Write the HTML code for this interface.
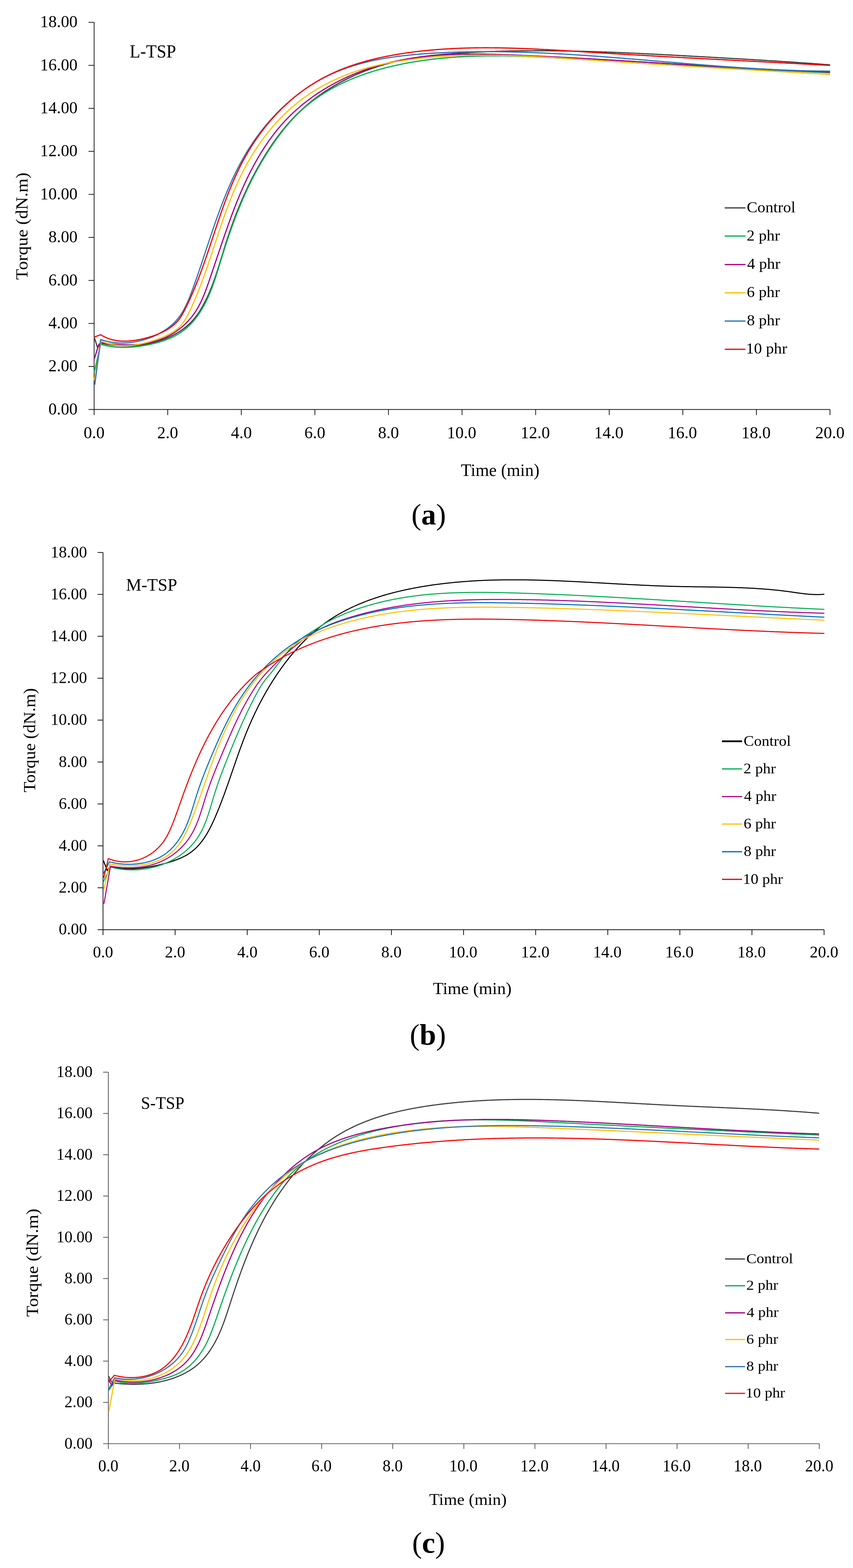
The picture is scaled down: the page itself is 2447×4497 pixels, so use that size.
<!DOCTYPE html>
<html><head><meta charset="utf-8"><title>Torque curves</title>
<style>
html,body{margin:0;padding:0;background:#fff;}
svg{display:block;}
text{font-family:'Liberation Serif', 'DejaVu Serif', serif;fill:#000;}
</style></head>
<body>
<svg xmlns="http://www.w3.org/2000/svg" width="2447" height="4497" viewBox="0 0 2447 4497">
<rect width="2447" height="4497" fill="#fff"/>
<g><path d="M270 64V1190.4" stroke="#1a1a1a" stroke-width="2.2" fill="none"/><path d="M254 1174.4H2381" stroke="#1a1a1a" stroke-width="2.2" fill="none"/><path d="M254 1051H270" stroke="#1a1a1a" stroke-width="2.2"/><path d="M254 927.6H270" stroke="#1a1a1a" stroke-width="2.2"/><path d="M254 804.3H270" stroke="#1a1a1a" stroke-width="2.2"/><path d="M254 680.9H270" stroke="#1a1a1a" stroke-width="2.2"/><path d="M254 557.5H270" stroke="#1a1a1a" stroke-width="2.2"/><path d="M254 434.1H270" stroke="#1a1a1a" stroke-width="2.2"/><path d="M254 310.8H270" stroke="#1a1a1a" stroke-width="2.2"/><path d="M254 187.4H270" stroke="#1a1a1a" stroke-width="2.2"/><path d="M254 64H270" stroke="#1a1a1a" stroke-width="2.2"/><path d="M481.1 1174.4V1190.4" stroke="#1a1a1a" stroke-width="2.2"/><path d="M692.2 1174.4V1190.4" stroke="#1a1a1a" stroke-width="2.2"/><path d="M903.3 1174.4V1190.4" stroke="#1a1a1a" stroke-width="2.2"/><path d="M1114.4 1174.4V1190.4" stroke="#1a1a1a" stroke-width="2.2"/><path d="M1325.5 1174.4V1190.4" stroke="#1a1a1a" stroke-width="2.2"/><path d="M1536.6 1174.4V1190.4" stroke="#1a1a1a" stroke-width="2.2"/><path d="M1747.7 1174.4V1190.4" stroke="#1a1a1a" stroke-width="2.2"/><path d="M1958.8 1174.4V1190.4" stroke="#1a1a1a" stroke-width="2.2"/><path d="M2169.9 1174.4V1190.4" stroke="#1a1a1a" stroke-width="2.2"/><path d="M2381 1174.4V1190.4" stroke="#1a1a1a" stroke-width="2.2"/></g>
<text x="138.9" y="1188.7" font-size="49.5" textLength="83.4" lengthAdjust="spacingAndGlyphs">0.00</text>
<text x="138.9" y="1065.3" font-size="49.5" textLength="83.4" lengthAdjust="spacingAndGlyphs">2.00</text>
<text x="138.9" y="941.9" font-size="49.5" textLength="83.4" lengthAdjust="spacingAndGlyphs">4.00</text>
<text x="138.9" y="818.6" font-size="49.5" textLength="83.4" lengthAdjust="spacingAndGlyphs">6.00</text>
<text x="138.9" y="695.2" font-size="49.5" textLength="83.4" lengthAdjust="spacingAndGlyphs">8.00</text>
<text x="115.1" y="571.8" font-size="49.5" textLength="107.3" lengthAdjust="spacingAndGlyphs">10.00</text>
<text x="115.1" y="448.4" font-size="49.5" textLength="107.3" lengthAdjust="spacingAndGlyphs">12.00</text>
<text x="115.1" y="325.1" font-size="49.5" textLength="107.3" lengthAdjust="spacingAndGlyphs">14.00</text>
<text x="115.1" y="201.7" font-size="49.5" textLength="107.3" lengthAdjust="spacingAndGlyphs">16.00</text>
<text x="115.1" y="78.3" font-size="49.5" textLength="107.3" lengthAdjust="spacingAndGlyphs">18.00</text>
<text x="240" y="1256.8" font-size="49.5" textLength="60" lengthAdjust="spacingAndGlyphs">0.0</text>
<text x="450.9" y="1256.8" font-size="49.5" textLength="60" lengthAdjust="spacingAndGlyphs">2.0</text>
<text x="662.6" y="1256.8" font-size="49.5" textLength="60" lengthAdjust="spacingAndGlyphs">4.0</text>
<text x="873.2" y="1256.8" font-size="49.5" textLength="60" lengthAdjust="spacingAndGlyphs">6.0</text>
<text x="1084.4" y="1256.8" font-size="49.5" textLength="60" lengthAdjust="spacingAndGlyphs">8.0</text>
<text x="1282.3" y="1256.8" font-size="49.5" textLength="84" lengthAdjust="spacingAndGlyphs">10.0</text>
<text x="1493.4" y="1256.8" font-size="49.5" textLength="84" lengthAdjust="spacingAndGlyphs">12.0</text>
<text x="1704.5" y="1256.8" font-size="49.5" textLength="84" lengthAdjust="spacingAndGlyphs">14.0</text>
<text x="1915.6" y="1256.8" font-size="49.5" textLength="84" lengthAdjust="spacingAndGlyphs">16.0</text>
<text x="2126.7" y="1256.8" font-size="49.5" textLength="84" lengthAdjust="spacingAndGlyphs">18.0</text>
<text x="2338.8" y="1256.8" font-size="49.5" textLength="84" lengthAdjust="spacingAndGlyphs">20.0</text>
<text transform="translate(79 801.5) rotate(-90)" x="-0.9" y="0" font-size="49" textLength="307.5" lengthAdjust="spacingAndGlyphs">Torque (dN.m)</text>
<text x="1321.9" y="1365.3" font-size="50" textLength="225.6" lengthAdjust="spacingAndGlyphs">Time (min)</text>
<text x="372.1" y="165.3" font-size="52" textLength="132.8" lengthAdjust="spacingAndGlyphs">L-TSP</text>
<path d="M270.7 968.6L280 997.2L289.3 984L292.8 984.8L296.2 985.5L299.7 986.2L303.2 986.9L306.7 987.5L310.2 988.1L313.7 988.6L317.3 989.1L320.8 989.6L324.4 990.0L327.9 990.4L331.5 990.7L335.1 991.1L338.7 991.3L342.3 991.6L345.9 991.8L349.5 991.9L353.1 992.0L356.7 992.1L360.4 992.1L364.0 992.1L367.6 992.1L371.2 992.0L374.9 991.9L378.5 991.7L382.1 991.5L385.8 991.3L389.4 991.0L393.0 990.7L396.6 990.3L400.3 989.9L403.9 989.4L407.5 988.9L411.1 988.4L414.7 987.8L418.3 987.2L421.9 986.5L425.4 985.8L429.0 985.1L432.6 984.3L436.1 983.5L439.6 982.6L443.2 981.7L446.7 980.7L450.2 979.7L453.7 978.6L457.1 977.5L460.6 976.4L464.0 975.2L467.5 974.0L470.9 972.7L474.3 971.4L477.6 970.0L481.0 968.6L484.3 967.2L487.6 965.7L490.9 964.1L494.2 962.6L497.4 960.9L500.6 959.2L503.8 957.5L506.9 955.7L510.0 953.9L513.1 952.0L516.1 950.1L519.1 948.1L522.0 946.1L525.0 944.0L527.8 941.9L530.7 939.7L533.5 937.5L536.2 935.2L538.9 932.8L541.5 930.4L544.1 928.0L546.7 925.5L549.1 923.0L551.6 920.4L554.0 917.7L556.3 915.0L558.6 912.3L560.8 909.5L562.9 906.6L565.1 903.7L567.2 900.8L569.2 897.9L571.2 894.9L573.1 891.9L575.0 888.8L576.9 885.7L578.7 882.6L580.5 879.5L582.3 876.3L584.0 873.1L585.7 869.9L587.4 866.7L589.0 863.5L590.6 860.3L592.2 857.0L593.8 853.8L595.3 850.5L596.8 847.2L598.3 843.9L599.7 840.6L601.1 837.3L602.5 833.9L603.9 830.6L605.3 827.2L606.6 823.9L607.9 820.5L609.2 817.1L610.5 813.8L611.8 810.4L613.0 807.0L614.2 803.5L615.4 800.1L616.6 796.7L617.8 793.3L619.0 789.8L620.2 786.4L621.3 783.0L622.4 779.5L623.6 776.1L624.7 772.6L625.8 769.1L626.9 765.7L628.0 762.2L629.1 758.7L630.2 755.2L631.2 751.8L632.3 748.3L633.4 744.8L634.4 741.3L635.5 737.8L636.6 734.4L637.6 730.9L638.7 727.4L639.8 723.9L640.8 720.4L641.9 717.0L643.0 713.5L644.1 710.0L645.1 706.5L646.2 703.1L647.3 699.6L648.4 696.1L649.5 692.7L650.7 689.2L651.8 685.7L652.9 682.3L654.1 678.8L655.2 675.4L656.4 672.0L657.5 668.5L658.7 665.1L659.9 661.7L661.1 658.2L662.3 654.8L663.5 651.4L664.7 648.0L665.9 644.6L667.2 641.2L668.4 637.8L669.6 634.4L670.9 631.0L672.2 627.6L673.4 624.2L674.7 620.8L676.0 617.5L677.3 614.1L678.6 610.7L680.0 607.4L681.3 604.0L682.6 600.6L684.0 597.3L685.3 593.9L686.7 590.6L688.1 587.3L689.5 583.9L690.9 580.6L692.3 577.3L693.7 574.0L695.1 570.7L696.6 567.4L698.0 564.1L699.5 560.8L701.0 557.5L702.5 554.2L703.9 550.9L705.5 547.7L707.0 544.4L708.5 541.1L710.0 537.9L711.6 534.6L713.1 531.4L714.7 528.1L716.3 524.9L717.9 521.7L719.5 518.5L721.1 515.3L722.8 512.0L724.4 508.8L726.1 505.6L727.7 502.5L729.4 499.3L731.1 496.1L732.8 492.9L734.5 489.7L736.2 486.6L738.0 483.4L739.7 480.3L741.5 477.1L743.3 474.0L745.1 470.9L746.9 467.8L748.7 464.6L750.5 461.5L752.4 458.4L754.2 455.3L756.1 452.2L758.0 449.2L759.9 446.1L761.8 443.0L763.7 440.0L765.6 436.9L767.6 433.9L769.6 430.8L771.5 427.8L773.5 424.8L775.5 421.8L777.6 418.7L779.6 415.7L781.6 412.8L783.7 409.8L785.8 406.8L787.9 403.8L790.0 400.9L792.1 398.0L794.3 395.0L796.4 392.1L798.6 389.2L800.8 386.3L803.0 383.4L805.2 380.6L807.4 377.7L809.7 374.9L812.0 372.1L814.3 369.2L816.6 366.4L818.9 363.7L821.2 360.9L823.6 358.1L825.9 355.4L828.3 352.7L830.7 350.0L833.1 347.3L835.6 344.6L838.0 342.0L840.5 339.3L843.0 336.7L845.5 334.1L848.0 331.5L850.6 329.0L853.1 326.4L855.7 323.9L858.3 321.4L860.9 318.9L863.6 316.4L866.2 314.0L868.9 311.6L871.6 309.2L874.3 306.8L877.0 304.4L879.7 302.0L882.5 299.7L885.2 297.4L888.0 295.1L890.8 292.8L893.6 290.6L896.4 288.3L899.3 286.1L902.1 283.9L905.0 281.7L907.9 279.6L910.8 277.4L913.7 275.3L916.7 273.2L919.6 271.1L922.6 269.1L925.5 267.0L928.5 265.0L931.5 263.0L934.5 261.0L937.6 259.0L940.6 257.1L943.7 255.2L946.7 253.3L949.8 251.4L952.9 249.5L956.0 247.7L959.1 245.8L962.2 244.0L965.4 242.2L968.5 240.5L971.7 238.7L974.8 237.0L978.0 235.3L981.2 233.6L984.4 231.9L987.6 230.2L990.9 228.6L994.1 227.0L997.4 225.4L1000.6 223.8L1003.9 222.3L1007.2 220.7L1010.4 219.2L1013.7 217.7L1017.0 216.2L1020.4 214.8L1023.7 213.3L1027.0 211.9L1030.3 210.5L1033.7 209.1L1037.1 207.7L1040.4 206.4L1043.8 205.0L1047.2 203.7L1050.6 202.4L1054.0 201.2L1057.4 199.9L1060.8 198.7L1064.2 197.4L1067.6 196.2L1071.0 195.1L1074.5 193.9L1077.9 192.8L1081.4 191.6L1084.8 190.5L1088.3 189.4L1091.8 188.4L1095.2 187.3L1098.7 186.3L1102.2 185.2L1105.7 184.2L1109.2 183.3L1112.7 182.3L1116.2 181.3L1119.7 180.4L1123.2 179.5L1126.7 178.6L1130.2 177.7L1133.8 176.9L1137.3 176.0L1140.8 175.2L1144.4 174.4L1147.9 173.6L1151.4 172.8L1155.0 172.1L1158.5 171.4L1162.1 170.6L1165.6 169.9L1169.2 169.3L1172.8 168.6L1176.3 167.9L1179.9 167.3L1183.4 166.7L1187.0 166.1L1190.6 165.5L1194.1 164.9L1197.7 164.4L1201.3 163.9L1204.9 163.3L1208.4 162.8L1212.0 162.3L1215.6 161.9L1219.2 161.4L1222.7 161.0L1226.3 160.5L1229.9 160.1L1233.5 159.7L1237.1 159.3L1240.6 158.9L1244.2 158.5L1247.8 158.1L1251.4 157.8L1255.0 157.4L1258.6 157.1L1262.2 156.7L1265.8 156.4L1269.4 156.1L1273.0 155.8L1276.5 155.5L1280.1 155.2L1283.7 154.9L1287.3 154.6L1290.9 154.4L1294.5 154.1L1298.1 153.8L1301.7 153.6L1305.3 153.3L1308.9 153.1L1312.5 152.8L1316.1 152.6L1319.7 152.3L1323.3 152.1L1326.9 151.9L1330.5 151.7L1334.1 151.4L1337.7 151.2L1341.3 151.0L1344.9 150.8L1348.5 150.6L1352.1 150.4L1355.7 150.2L1359.3 150.0L1362.9 149.9L1366.5 149.7L1370.1 149.5L1373.7 149.3L1377.3 149.2L1381.0 149.0L1384.6 148.8L1388.2 148.7L1391.8 148.5L1395.4 148.4L1399.0 148.2L1402.6 148.1L1406.2 148.0L1409.8 147.8L1413.4 147.7L1417.0 147.6L1420.6 147.5L1424.2 147.3L1427.8 147.2L1431.5 147.1L1435.1 147.0L1438.7 146.9L1442.3 146.8L1445.9 146.7L1449.5 146.6L1453.1 146.6L1456.7 146.5L1460.3 146.4L1463.9 146.3L1467.6 146.3L1471.2 146.2L1474.8 146.1L1478.4 146.1L1482.0 146.0L1485.6 145.9L1489.2 145.9L1492.8 145.8L1496.5 145.8L1500.1 145.8L1503.7 145.7L1507.3 145.7L1510.9 145.7L1514.5 145.6L1518.1 145.6L1521.8 145.6L1525.4 145.6L1529.0 145.6L1532.6 145.5L1536.2 145.5L1539.8 145.5L1543.5 145.5L1547.1 145.5L1550.7 145.5L1554.3 145.5L1557.9 145.6L1561.5 145.6L1565.2 145.6L1568.8 145.6L1572.4 145.6L1576.0 145.6L1579.6 145.7L1583.2 145.7L1586.9 145.7L1590.5 145.8L1594.1 145.8L1597.7 145.9L1601.3 145.9L1604.9 145.9L1608.6 146.0L1612.2 146.0L1615.8 146.1L1619.4 146.2L1623.0 146.2L1626.7 146.3L1630.3 146.3L1633.9 146.4L1637.5 146.5L1641.1 146.5L1644.8 146.6L1648.4 146.7L1652.0 146.8L1655.6 146.9L1659.2 146.9L1662.9 147.0L1666.5 147.1L1670.1 147.2L1673.7 147.3L1677.3 147.4L1681.0 147.5L1684.6 147.6L1688.2 147.7L1691.8 147.8L1695.5 147.9L1699.1 148.0L1702.7 148.1L1706.3 148.2L1709.9 148.4L1713.6 148.5L1717.2 148.6L1720.8 148.7L1724.4 148.8L1728.0 149.0L1731.7 149.1L1735.3 149.2L1738.9 149.3L1742.5 149.5L1746.2 149.6L1749.8 149.7L1753.4 149.9L1757.0 150.0L1760.6 150.2L1764.3 150.3L1767.9 150.4L1771.5 150.6L1775.1 150.7L1778.7 150.9L1782.4 151.0L1786.0 151.2L1789.6 151.3L1793.2 151.5L1796.9 151.6L1800.5 151.8L1804.1 152.0L1807.7 152.1L1811.3 152.3L1815.0 152.4L1818.6 152.6L1822.2 152.8L1825.8 152.9L1829.4 153.1L1833.1 153.3L1836.7 153.5L1840.3 153.6L1843.9 153.8L1847.5 154.0L1851.2 154.1L1854.8 154.3L1858.4 154.5L1862.0 154.7L1865.7 154.9L1869.3 155.0L1872.9 155.2L1876.5 155.4L1880.1 155.6L1883.8 155.8L1887.4 156.0L1891.0 156.1L1894.6 156.3L1898.2 156.5L1901.8 156.7L1905.5 156.9L1909.1 157.1L1912.7 157.3L1916.3 157.5L1919.9 157.7L1923.6 157.8L1927.2 158.0L1930.8 158.2L1934.4 158.4L1938.0 158.6L1941.7 158.8L1945.3 159.0L1948.9 159.2L1952.5 159.4L1956.1 159.6L1959.7 159.8L1963.4 160.0L1967.0 160.2L1970.6 160.4L1974.2 160.6L1977.8 160.8L1981.4 161.0L1985.1 161.2L1988.7 161.4L1992.3 161.6L1995.9 161.8L1999.5 162.0L2003.1 162.2L2006.7 162.4L2010.4 162.6L2014.0 162.8L2017.6 163.0L2021.2 163.2L2024.8 163.4L2028.4 163.6L2032.0 163.8L2035.7 164.0L2039.3 164.2L2042.9 164.4L2046.5 164.6L2050.1 164.8L2053.7 165.0L2057.3 165.2L2060.9 165.4L2064.6 165.6L2068.2 165.8L2071.8 166.0L2075.4 166.3L2079.0 166.5L2082.6 166.7L2086.2 166.9L2089.8 167.1L2093.4 167.3L2097.0 167.5L2100.7 167.7L2104.3 167.9L2107.9 168.1L2111.5 168.3L2115.1 168.5L2118.7 168.7L2122.3 168.9L2125.9 169.1L2129.5 169.3L2133.1 169.6L2136.7 169.8L2140.3 170.0L2143.9 170.2L2147.5 170.4L2151.1 170.6L2154.8 170.8L2158.4 171.0L2162.0 171.2L2165.6 171.5L2169.2 171.7L2172.8 171.9L2176.4 172.1L2180.0 172.3L2183.6 172.5L2187.2 172.8L2190.8 173.0L2194.4 173.2L2198.0 173.4L2201.6 173.6L2205.2 173.9L2208.8 174.1L2212.4 174.3L2216.0 174.5L2219.6 174.8L2223.2 175.0L2226.8 175.2L2230.4 175.4L2234.0 175.7L2237.6 175.9L2241.2 176.1L2244.8 176.4L2248.4 176.6L2252.0 176.8L2255.6 177.1L2259.2 177.3L2262.8 177.5L2266.4 177.8L2270.0 178.0L2273.6 178.3L2277.2 178.5L2280.8 178.7L2284.3 179.0L2287.9 179.2L2291.5 179.5L2295.1 179.7L2298.7 180.0L2302.3 180.2L2305.9 180.5L2309.5 180.7L2313.1 181.0L2316.7 181.2L2320.3 181.5L2323.9 181.7L2327.5 182.0L2331.1 182.3L2334.6 182.5L2338.2 182.8L2341.8 183.0L2345.4 183.3L2349.0 183.6L2352.6 183.8L2356.2 184.1L2359.8 184.4L2363.4 184.7L2366.9 184.9L2370.5 185.2L2374.1 185.5L2377.7 185.8L2381.3 186.0" stroke="#404040" stroke-width="3.4" fill="none" stroke-linejoin="round" stroke-linecap="butt"/>
<path d="M270.7 1064.9L289.3 987.3L292.8 988.3L296.4 989.3L299.9 990.2L303.5 991.0L307.0 991.8L310.5 992.5L314.1 993.1L317.6 993.7L321.2 994.2L324.7 994.6L328.3 995.0L331.8 995.4L335.4 995.7L338.9 995.9L342.5 996.1L346.1 996.2L349.6 996.3L353.2 996.3L356.7 996.3L360.3 996.3L363.9 996.2L367.4 996.0L371.0 995.8L374.6 995.6L378.2 995.3L381.7 995.0L385.3 994.7L388.9 994.3L392.5 993.9L396.0 993.5L399.6 993.0L403.2 992.5L406.8 991.9L410.4 991.4L414.0 990.8L417.6 990.2L421.1 989.5L424.7 988.8L428.3 988.1L431.9 987.3L435.5 986.5L439.0 985.7L442.6 984.8L446.1 983.9L449.7 983.0L453.2 982.0L456.7 981.0L460.2 980.0L463.7 978.9L467.2 977.8L470.7 976.6L474.1 975.4L477.5 974.1L480.9 972.8L484.3 971.4L487.6 970.0L490.9 968.6L494.2 967.1L497.5 965.5L500.7 963.9L503.9 962.2L507.0 960.5L510.1 958.7L513.2 956.9L516.2 955.0L519.2 953.0L522.1 951.0L525.0 948.9L527.9 946.7L530.6 944.5L533.4 942.2L536.1 939.9L538.7 937.5L541.4 935.1L543.9 932.6L546.4 930.1L548.9 927.5L551.3 924.8L553.7 922.2L556.0 919.5L558.3 916.7L560.6 913.9L562.8 911.1L564.9 908.2L567.0 905.3L569.1 902.4L571.1 899.4L573.1 896.5L575.1 893.5L577.0 890.4L578.8 887.4L580.6 884.3L582.4 881.2L584.2 878.1L585.9 875.0L587.6 871.8L589.2 868.7L590.8 865.5L592.4 862.3L593.9 859.0L595.4 855.8L596.9 852.5L598.4 849.2L599.8 846.0L601.2 842.6L602.6 839.3L603.9 836.0L605.3 832.6L606.6 829.3L607.9 825.9L609.1 822.5L610.4 819.1L611.6 815.7L612.8 812.3L614.0 808.8L615.2 805.4L616.4 801.9L617.5 798.5L618.7 795.0L619.8 791.6L620.9 788.1L622.0 784.6L623.1 781.1L624.2 777.6L625.3 774.1L626.4 770.6L627.5 767.1L628.5 763.6L629.6 760.1L630.7 756.6L631.7 753.1L632.8 749.6L633.9 746.1L635.0 742.6L636.0 739.1L637.1 735.7L638.2 732.2L639.3 728.7L640.4 725.2L641.5 721.7L642.6 718.2L643.7 714.7L644.8 711.3L645.9 707.8L647.0 704.3L648.2 700.9L649.3 697.4L650.5 694.0L651.6 690.5L652.8 687.0L653.9 683.6L655.1 680.2L656.2 676.7L657.4 673.3L658.6 669.8L659.8 666.4L661.0 663.0L662.2 659.6L663.4 656.2L664.6 652.7L665.8 649.3L667.1 645.9L668.3 642.5L669.6 639.1L670.8 635.7L672.1 632.4L673.3 629.0L674.6 625.6L675.9 622.2L677.2 618.9L678.5 615.5L679.8 612.1L681.1 608.8L682.4 605.4L683.8 602.1L685.1 598.7L686.5 595.4L687.8 592.1L689.2 588.8L690.6 585.4L692.0 582.1L693.4 578.8L694.8 575.5L696.2 572.2L697.6 568.9L699.1 565.6L700.5 562.4L702.0 559.1L703.4 555.8L704.9 552.5L706.4 549.3L707.9 546.0L709.4 542.8L710.9 539.6L712.5 536.3L714.0 533.1L715.6 529.9L717.1 526.7L718.7 523.4L720.3 520.2L721.9 517.1L723.5 513.9L725.1 510.7L726.7 507.5L728.4 504.3L730.0 501.2L731.7 498.0L733.4 494.9L735.1 491.7L736.8 488.6L738.5 485.4L740.2 482.3L742.0 479.2L743.8 476.1L745.5 473.0L747.3 469.9L749.1 466.8L750.9 463.7L752.7 460.6L754.6 457.5L756.4 454.5L758.3 451.4L760.2 448.3L762.1 445.3L764.0 442.2L765.9 439.2L767.9 436.1L769.8 433.1L771.8 430.1L773.8 427.1L775.8 424.0L777.8 421.0L779.8 418.0L781.9 415.0L783.9 412.0L786.0 409.0L788.1 406.0L790.2 403.1L792.3 400.1L794.5 397.1L796.6 394.2L798.8 391.2L801.0 388.3L803.2 385.3L805.4 382.4L807.7 379.5L809.9 376.6L812.2 373.7L814.5 370.8L816.8 367.9L819.1 365.0L821.5 362.2L823.8 359.4L826.2 356.6L828.6 353.8L831.0 351.0L833.4 348.3L835.9 345.5L838.4 342.8L840.9 340.1L843.4 337.5L845.9 334.8L848.4 332.2L851.0 329.6L853.6 327.1L856.2 324.5L858.8 322.0L861.4 319.5L864.1 317.1L866.8 314.6L869.4 312.2L872.2 309.8L874.9 307.5L877.6 305.1L880.4 302.8L883.2 300.6L886.0 298.3L888.8 296.1L891.6 293.9L894.4 291.7L897.3 289.5L900.2 287.4L903.1 285.2L906.0 283.2L908.9 281.1L911.8 279.0L914.8 277.0L917.7 275.0L920.7 273.0L923.7 271.1L926.7 269.2L929.7 267.3L932.8 265.4L935.8 263.5L938.9 261.7L942.0 259.8L945.1 258.0L948.2 256.3L951.3 254.5L954.4 252.8L957.6 251.1L960.7 249.4L963.9 247.7L967.1 246.1L970.2 244.4L973.4 242.8L976.7 241.2L979.9 239.7L983.1 238.1L986.4 236.6L989.6 235.1L992.9 233.6L996.2 232.1L999.4 230.7L1002.7 229.2L1006.0 227.8L1009.4 226.4L1012.7 225.1L1016.0 223.7L1019.4 222.4L1022.7 221.1L1026.1 219.8L1029.5 218.5L1032.8 217.2L1036.2 216.0L1039.6 214.7L1043.0 213.5L1046.4 212.3L1049.9 211.2L1053.3 210.0L1056.7 208.9L1060.1 207.8L1063.6 206.6L1067.0 205.6L1070.5 204.5L1074.0 203.4L1077.4 202.4L1080.9 201.4L1084.4 200.4L1087.9 199.4L1091.4 198.4L1094.9 197.4L1098.4 196.5L1101.9 195.6L1105.4 194.6L1108.9 193.7L1112.5 192.9L1116.0 192.0L1119.5 191.1L1123.1 190.3L1126.6 189.5L1130.1 188.7L1133.7 187.9L1137.2 187.1L1140.8 186.3L1144.3 185.6L1147.9 184.8L1151.5 184.1L1155.0 183.4L1158.6 182.7L1162.1 182.0L1165.7 181.3L1169.3 180.6L1172.8 180.0L1176.4 179.3L1180.0 178.7L1183.6 178.1L1187.1 177.5L1190.7 176.9L1194.3 176.3L1197.9 175.8L1201.4 175.2L1205.0 174.7L1208.6 174.1L1212.2 173.6L1215.8 173.1L1219.3 172.6L1222.9 172.1L1226.5 171.7L1230.1 171.2L1233.7 170.7L1237.2 170.3L1240.8 169.9L1244.4 169.5L1248.0 169.0L1251.6 168.6L1255.2 168.3L1258.8 167.9L1262.3 167.5L1265.9 167.2L1269.5 166.8L1273.1 166.5L1276.7 166.1L1280.3 165.8L1283.9 165.5L1287.5 165.2L1291.1 164.9L1294.7 164.7L1298.3 164.4L1301.9 164.1L1305.5 163.9L1309.1 163.6L1312.6 163.4L1316.2 163.2L1319.8 163.0L1323.4 162.8L1327.0 162.6L1330.6 162.4L1334.2 162.2L1337.8 162.0L1341.4 161.9L1345.0 161.7L1348.6 161.6L1352.2 161.4L1355.8 161.3L1359.4 161.2L1363.1 161.1L1366.7 160.9L1370.3 160.8L1373.9 160.8L1377.5 160.7L1381.1 160.6L1384.7 160.5L1388.3 160.5L1391.9 160.4L1395.5 160.4L1399.1 160.3L1402.7 160.3L1406.3 160.3L1409.9 160.2L1413.5 160.2L1417.2 160.2L1420.8 160.2L1424.4 160.2L1428.0 160.2L1431.6 160.3L1435.2 160.3L1438.8 160.3L1442.4 160.3L1446.0 160.4L1449.6 160.4L1453.3 160.5L1456.9 160.5L1460.5 160.6L1464.1 160.7L1467.7 160.8L1471.3 160.8L1474.9 160.9L1478.6 161.0L1482.2 161.1L1485.8 161.2L1489.4 161.3L1493.0 161.4L1496.6 161.5L1500.2 161.7L1503.9 161.8L1507.5 161.9L1511.1 162.0L1514.7 162.2L1518.3 162.3L1521.9 162.5L1525.6 162.6L1529.2 162.8L1532.8 162.9L1536.4 163.1L1540.0 163.2L1543.6 163.4L1547.3 163.6L1550.9 163.7L1554.5 163.9L1558.1 164.1L1561.7 164.3L1565.3 164.5L1569.0 164.7L1572.6 164.8L1576.2 165.0L1579.8 165.2L1583.4 165.4L1587.0 165.6L1590.7 165.8L1594.3 166.0L1597.9 166.3L1601.5 166.5L1605.1 166.7L1608.8 166.9L1612.4 167.1L1616.0 167.3L1619.6 167.5L1623.2 167.8L1626.8 168.0L1630.5 168.2L1634.1 168.4L1637.7 168.7L1641.3 168.9L1644.9 169.1L1648.5 169.4L1652.2 169.6L1655.8 169.8L1659.4 170.0L1663.0 170.3L1666.6 170.5L1670.2 170.7L1673.9 171.0L1677.5 171.2L1681.1 171.4L1684.7 171.7L1688.3 171.9L1691.9 172.2L1695.6 172.4L1699.2 172.6L1702.8 172.9L1706.4 173.1L1710.0 173.3L1713.6 173.6L1717.2 173.8L1720.9 174.0L1724.5 174.2L1728.1 174.5L1731.7 174.7L1735.3 174.9L1738.9 175.2L1742.5 175.4L1746.2 175.6L1749.8 175.8L1753.4 176.1L1757.0 176.3L1760.6 176.5L1764.2 176.7L1767.8 177.0L1771.4 177.2L1775.1 177.4L1778.7 177.6L1782.3 177.8L1785.9 178.1L1789.5 178.3L1793.1 178.5L1796.7 178.7L1800.3 178.9L1803.9 179.2L1807.5 179.4L1811.2 179.6L1814.8 179.8L1818.4 180.0L1822.0 180.2L1825.6 180.5L1829.2 180.7L1832.8 180.9L1836.4 181.1L1840.0 181.3L1843.6 181.5L1847.2 181.7L1850.9 181.9L1854.5 182.2L1858.1 182.4L1861.7 182.6L1865.3 182.8L1868.9 183.0L1872.5 183.2L1876.1 183.4L1879.7 183.6L1883.3 183.8L1886.9 184.0L1890.5 184.2L1894.1 184.4L1897.8 184.6L1901.4 184.8L1905.0 185.0L1908.6 185.2L1912.2 185.5L1915.8 185.7L1919.4 185.9L1923.0 186.1L1926.6 186.3L1930.2 186.5L1933.8 186.7L1937.4 186.9L1941.0 187.1L1944.6 187.3L1948.2 187.5L1951.9 187.7L1955.5 187.8L1959.1 188.0L1962.7 188.2L1966.3 188.4L1969.9 188.6L1973.5 188.8L1977.1 189.0L1980.7 189.2L1984.3 189.4L1987.9 189.6L1991.5 189.8L1995.1 190.0L1998.7 190.2L2002.3 190.4L2005.9 190.6L2009.5 190.8L2013.1 190.9L2016.8 191.1L2020.4 191.3L2024.0 191.5L2027.6 191.7L2031.2 191.9L2034.8 192.1L2038.4 192.3L2042.0 192.5L2045.6 192.6L2049.2 192.8L2052.8 193.0L2056.4 193.2L2060.0 193.4L2063.6 193.6L2067.2 193.8L2070.8 193.9L2074.4 194.1L2078.1 194.3L2081.7 194.5L2085.3 194.7L2088.9 194.9L2092.5 195.0L2096.1 195.2L2099.7 195.4L2103.3 195.6L2106.9 195.8L2110.5 195.9L2114.1 196.1L2117.7 196.3L2121.3 196.5L2124.9 196.7L2128.5 196.8L2132.1 197.0L2135.8 197.2L2139.4 197.4L2143.0 197.6L2146.6 197.7L2150.2 197.9L2153.8 198.1L2157.4 198.3L2161.0 198.4L2164.6 198.6L2168.2 198.8L2171.8 199.0L2175.4 199.1L2179.0 199.3L2182.6 199.5L2186.3 199.7L2189.9 199.8L2193.5 200.0L2197.1 200.2L2200.7 200.4L2204.3 200.5L2207.9 200.7L2211.5 200.9L2215.1 201.0L2218.7 201.2L2222.3 201.4L2226.0 201.6L2229.6 201.7L2233.2 201.9L2236.8 202.1L2240.4 202.2L2244.0 202.4L2247.6 202.6L2251.2 202.8L2254.8 202.9L2258.4 203.1L2262.1 203.3L2265.7 203.4L2269.3 203.6L2272.9 203.8L2276.5 203.9L2280.1 204.1L2283.7 204.3L2287.3 204.4L2290.9 204.6L2294.6 204.8L2298.2 204.9L2301.8 205.1L2305.4 205.3L2309.0 205.4L2312.6 205.6L2316.2 205.8L2319.9 205.9L2323.5 206.1L2327.1 206.3L2330.7 206.4L2334.3 206.6L2337.9 206.8L2341.5 206.9L2345.2 207.1L2348.8 207.3L2352.4 207.4L2356.0 207.6L2359.6 207.7L2363.2 207.9L2366.9 208.1L2370.5 208.2L2374.1 208.4L2377.7 208.6L2381.3 208.7" stroke="#00b050" stroke-width="3.4" fill="none" stroke-linejoin="round" stroke-linecap="butt"/>
<path d="M270.7 1028.9L283.1 988.5L289.3 982.3L292.8 982.9L296.2 983.4L299.7 983.9L303.2 984.4L306.8 984.9L310.3 985.3L313.9 985.8L317.4 986.2L321.0 986.5L324.6 986.9L328.2 987.2L331.8 987.5L335.4 987.8L339.0 988.1L342.7 988.3L346.3 988.5L350.0 988.6L353.6 988.7L357.3 988.8L360.9 988.9L364.6 988.9L368.2 988.9L371.9 988.9L375.6 988.8L379.2 988.7L382.9 988.5L386.5 988.3L390.2 988.1L393.8 987.8L397.4 987.5L401.1 987.1L404.7 986.7L408.3 986.2L411.9 985.7L415.5 985.2L419.1 984.6L422.6 983.9L426.2 983.3L429.7 982.5L433.3 981.7L436.8 980.9L440.3 980.0L443.8 979.0L447.2 978.0L450.7 977.0L454.1 975.9L457.5 974.7L460.9 973.5L464.2 972.2L467.6 970.9L470.9 969.5L474.2 968.0L477.4 966.5L480.7 964.9L483.9 963.3L487.1 961.6L490.2 959.8L493.3 958.0L496.4 956.2L499.5 954.3L502.5 952.3L505.5 950.3L508.4 948.2L511.3 946.1L514.2 943.9L517.1 941.7L519.9 939.4L522.6 937.1L525.3 934.7L528.0 932.3L530.6 929.9L533.2 927.4L535.8 924.8L538.3 922.2L540.7 919.6L543.1 916.9L545.5 914.2L547.8 911.5L550.0 908.7L552.2 905.9L554.4 903.0L556.5 900.1L558.5 897.1L560.5 894.2L562.5 891.1L564.3 888.1L566.2 885.0L568.0 881.9L569.7 878.8L571.4 875.6L573.1 872.4L574.7 869.2L576.3 866.0L577.8 862.7L579.3 859.5L580.8 856.1L582.2 852.8L583.6 849.5L585.0 846.1L586.4 842.8L587.7 839.4L589.0 836.0L590.3 832.6L591.6 829.2L592.8 825.7L594.1 822.3L595.3 818.9L596.5 815.4L597.7 812.0L598.9 808.5L600.1 805.1L601.3 801.6L602.4 798.2L603.6 794.7L604.8 791.3L605.9 787.8L607.1 784.4L608.3 781.0L609.4 777.5L610.6 774.1L611.8 770.7L612.9 767.2L614.1 763.8L615.2 760.4L616.4 756.9L617.6 753.5L618.7 750.1L619.9 746.7L621.0 743.3L622.2 739.8L623.3 736.4L624.5 733.0L625.7 729.6L626.8 726.2L628.0 722.7L629.1 719.3L630.3 715.9L631.4 712.5L632.6 709.1L633.7 705.6L634.9 702.2L636.0 698.8L637.2 695.4L638.4 692.0L639.5 688.6L640.7 685.1L641.9 681.7L643.0 678.3L644.2 674.9L645.4 671.5L646.6 668.1L647.7 664.7L648.9 661.3L650.1 657.9L651.3 654.5L652.5 651.1L653.7 647.7L654.9 644.3L656.1 640.9L657.3 637.5L658.6 634.1L659.8 630.7L661.0 627.3L662.3 623.9L663.5 620.6L664.8 617.2L666.0 613.8L667.3 610.4L668.6 607.1L669.9 603.7L671.1 600.3L672.4 597.0L673.7 593.6L675.1 590.2L676.4 586.9L677.7 583.5L679.0 580.2L680.4 576.8L681.7 573.5L683.1 570.1L684.5 566.8L685.9 563.5L687.2 560.1L688.7 556.8L690.1 553.5L691.5 550.2L692.9 546.9L694.4 543.5L695.8 540.2L697.3 536.9L698.8 533.6L700.3 530.3L701.8 527.0L703.3 523.7L704.8 520.5L706.4 517.2L707.9 513.9L709.5 510.6L711.1 507.4L712.6 504.1L714.2 500.9L715.9 497.6L717.5 494.4L719.1 491.1L720.8 487.9L722.5 484.7L724.2 481.5L725.9 478.2L727.6 475.0L729.3 471.9L731.1 468.7L732.8 465.5L734.6 462.3L736.4 459.2L738.2 456.0L740.0 452.9L741.8 449.7L743.7 446.6L745.5 443.5L747.4 440.4L749.3 437.3L751.2 434.2L753.2 431.1L755.1 428.1L757.1 425.0L759.0 422.0L761.0 419.0L763.0 416.0L765.1 413.0L767.1 410.0L769.2 407.0L771.2 404.0L773.3 401.1L775.4 398.2L777.6 395.2L779.7 392.3L781.9 389.5L784.1 386.6L786.3 383.7L788.5 380.9L790.7 378.0L793.0 375.2L795.2 372.4L797.5 369.6L799.8 366.9L802.1 364.1L804.5 361.4L806.9 358.7L809.2 356.0L811.6 353.3L814.1 350.6L816.5 348.0L819.0 345.4L821.4 342.8L823.9 340.2L826.5 337.6L829.0 335.0L831.5 332.5L834.1 330.0L836.7 327.5L839.3 325.0L841.9 322.5L844.6 320.1L847.2 317.7L849.9 315.3L852.6 312.9L855.3 310.5L858.0 308.2L860.8 305.8L863.6 303.5L866.3 301.2L869.1 298.9L871.9 296.7L874.8 294.4L877.6 292.2L880.5 290.0L883.3 287.8L886.2 285.6L889.1 283.5L892.0 281.4L894.9 279.2L897.9 277.2L900.8 275.1L903.8 273.0L906.8 271.0L909.8 269.0L912.8 267.0L915.8 265.0L918.9 263.0L921.9 261.1L925.0 259.1L928.1 257.2L931.2 255.3L934.3 253.5L937.4 251.6L940.5 249.8L943.6 248.0L946.8 246.2L949.9 244.4L953.1 242.6L956.3 240.9L959.5 239.1L962.7 237.4L965.9 235.8L969.1 234.1L972.3 232.4L975.6 230.8L978.8 229.2L982.1 227.6L985.4 226.0L988.6 224.5L991.9 222.9L995.2 221.4L998.5 219.9L1001.8 218.4L1005.2 217.0L1008.5 215.5L1011.8 214.1L1015.2 212.7L1018.5 211.3L1021.9 209.9L1025.3 208.6L1028.7 207.3L1032.0 205.9L1035.4 204.7L1038.8 203.4L1042.2 202.1L1045.6 200.9L1049.0 199.7L1052.5 198.5L1055.9 197.3L1059.3 196.1L1062.8 195.0L1066.2 193.9L1069.7 192.8L1073.1 191.7L1076.6 190.6L1080.0 189.6L1083.5 188.5L1087.0 187.5L1090.4 186.5L1093.9 185.5L1097.4 184.6L1100.9 183.7L1104.4 182.7L1107.9 181.8L1111.4 181.0L1114.9 180.1L1118.4 179.3L1121.9 178.4L1125.4 177.6L1128.9 176.8L1132.4 176.1L1135.9 175.3L1139.5 174.6L1143.0 173.8L1146.5 173.1L1150.0 172.4L1153.6 171.8L1157.1 171.1L1160.7 170.5L1164.2 169.8L1167.8 169.2L1171.3 168.6L1174.9 168.0L1178.4 167.5L1182.0 166.9L1185.5 166.4L1189.1 165.9L1192.7 165.4L1196.2 164.9L1199.8 164.4L1203.4 163.9L1207.0 163.5L1210.5 163.0L1214.1 162.6L1217.7 162.2L1221.3 161.8L1224.9 161.4L1228.5 161.1L1232.1 160.7L1235.7 160.4L1239.3 160.0L1242.9 159.7L1246.5 159.4L1250.1 159.1L1253.7 158.8L1257.3 158.6L1260.9 158.3L1264.5 158.0L1268.1 157.8L1271.7 157.6L1275.4 157.4L1279.0 157.2L1282.6 157.0L1286.2 156.8L1289.8 156.6L1293.5 156.4L1297.1 156.3L1300.7 156.2L1304.3 156.0L1308.0 155.9L1311.6 155.8L1315.2 155.7L1318.9 155.6L1322.5 155.5L1326.1 155.4L1329.8 155.3L1333.4 155.3L1337.0 155.2L1340.7 155.2L1344.3 155.2L1348.0 155.1L1351.6 155.1L1355.2 155.1L1358.9 155.1L1362.5 155.1L1366.2 155.1L1369.8 155.1L1373.5 155.1L1377.1 155.2L1380.8 155.2L1384.4 155.2L1388.1 155.3L1391.7 155.3L1395.4 155.4L1399.0 155.5L1402.6 155.5L1406.3 155.6L1409.9 155.7L1413.6 155.8L1417.2 155.9L1420.9 156.0L1424.5 156.1L1428.2 156.2L1431.8 156.3L1435.5 156.4L1439.1 156.5L1442.8 156.6L1446.4 156.7L1450.1 156.9L1453.7 157.0L1457.4 157.1L1461.0 157.3L1464.7 157.4L1468.3 157.5L1471.9 157.7L1475.6 157.8L1479.2 158.0L1482.9 158.1L1486.5 158.3L1490.2 158.4L1493.8 158.6L1497.4 158.8L1501.1 158.9L1504.7 159.1L1508.3 159.2L1512.0 159.4L1515.6 159.6L1519.2 159.7L1522.9 159.9L1526.5 160.1L1530.1 160.2L1533.8 160.4L1537.4 160.6L1541.0 160.7L1544.6 160.9L1548.3 161.1L1551.9 161.3L1555.5 161.4L1559.1 161.6L1562.8 161.8L1566.4 162.0L1570.0 162.1L1573.6 162.3L1577.2 162.5L1580.9 162.7L1584.5 162.9L1588.1 163.1L1591.7 163.2L1595.3 163.4L1598.9 163.6L1602.6 163.8L1606.2 164.0L1609.8 164.2L1613.4 164.4L1617.0 164.6L1620.6 164.7L1624.2 164.9L1627.8 165.1L1631.4 165.3L1635.0 165.5L1638.6 165.7L1642.3 165.9L1645.9 166.1L1649.5 166.3L1653.1 166.5L1656.7 166.7L1660.3 166.9L1663.9 167.1L1667.5 167.3L1671.1 167.5L1674.7 167.7L1678.3 167.9L1681.9 168.1L1685.5 168.3L1689.1 168.5L1692.7 168.7L1696.3 168.9L1699.9 169.1L1703.5 169.3L1707.1 169.6L1710.7 169.8L1714.3 170.0L1717.9 170.2L1721.4 170.4L1725.0 170.6L1728.6 170.8L1732.2 171.0L1735.8 171.2L1739.4 171.4L1743.0 171.7L1746.6 171.9L1750.2 172.1L1753.8 172.3L1757.4 172.5L1761.0 172.7L1764.5 172.9L1768.1 173.2L1771.7 173.4L1775.3 173.6L1778.9 173.8L1782.5 174.0L1786.1 174.2L1789.7 174.5L1793.3 174.7L1796.8 174.9L1800.4 175.1L1804.0 175.3L1807.6 175.5L1811.2 175.8L1814.8 176.0L1818.4 176.2L1822.0 176.4L1825.5 176.6L1829.1 176.9L1832.7 177.1L1836.3 177.3L1839.9 177.5L1843.5 177.7L1847.0 178.0L1850.6 178.2L1854.2 178.4L1857.8 178.6L1861.4 178.9L1865.0 179.1L1868.6 179.3L1872.1 179.5L1875.7 179.7L1879.3 180.0L1882.9 180.2L1886.5 180.4L1890.1 180.6L1893.6 180.9L1897.2 181.1L1900.8 181.3L1904.4 181.5L1908.0 181.7L1911.6 182.0L1915.2 182.2L1918.7 182.4L1922.3 182.6L1925.9 182.9L1929.5 183.1L1933.1 183.3L1936.7 183.5L1940.2 183.7L1943.8 184.0L1947.4 184.2L1951.0 184.4L1954.6 184.6L1958.2 184.8L1961.8 185.1L1965.3 185.3L1968.9 185.5L1972.5 185.7L1976.1 185.9L1979.7 186.2L1983.3 186.4L1986.9 186.6L1990.5 186.8L1994.0 187.0L1997.6 187.3L2001.2 187.5L2004.8 187.7L2008.4 187.9L2012.0 188.1L2015.6 188.3L2019.2 188.6L2022.8 188.8L2026.3 189.0L2029.9 189.2L2033.5 189.4L2037.1 189.6L2040.7 189.8L2044.3 190.1L2047.9 190.3L2051.5 190.5L2055.1 190.7L2058.7 190.9L2062.3 191.1L2065.9 191.3L2069.5 191.5L2073.1 191.8L2076.7 192.0L2080.3 192.2L2083.9 192.4L2087.5 192.6L2091.0 192.8L2094.6 193.0L2098.2 193.2L2101.8 193.4L2105.4 193.6L2109.0 193.8L2112.6 194.0L2116.3 194.2L2119.9 194.4L2123.5 194.6L2127.1 194.8L2130.7 195.0L2134.3 195.2L2137.9 195.4L2141.5 195.6L2145.1 195.8L2148.7 196.0L2152.3 196.2L2155.9 196.4L2159.5 196.6L2163.1 196.8L2166.7 197.0L2170.4 197.2L2174.0 197.4L2177.6 197.6L2181.2 197.8L2184.8 197.9L2188.4 198.1L2192.0 198.3L2195.7 198.5L2199.3 198.7L2202.9 198.9L2206.5 199.1L2210.1 199.2L2213.8 199.4L2217.4 199.6L2221.0 199.8L2224.6 200.0L2228.2 200.1L2231.9 200.3L2235.5 200.5L2239.1 200.7L2242.7 200.9L2246.4 201.0L2250.0 201.2L2253.6 201.4L2257.3 201.5L2260.9 201.7L2264.5 201.9L2268.2 202.0L2271.8 202.2L2275.4 202.4L2279.1 202.5L2282.7 202.7L2286.3 202.9L2290.0 203.0L2293.6 203.2L2297.3 203.3L2300.9 203.5L2304.6 203.7L2308.2 203.8L2311.8 204.0L2315.5 204.1L2319.1 204.3L2322.8 204.4L2326.4 204.6L2330.1 204.7L2333.7 204.9L2337.4 205.0L2341.1 205.1L2344.7 205.3L2348.4 205.4L2352.0 205.6L2355.7 205.7L2359.3 205.8L2363.0 206.0L2366.7 206.1L2370.3 206.2L2374.0 206.4L2377.7 206.5L2381.3 206.6" stroke="#a8008c" stroke-width="3.4" fill="none" stroke-linejoin="round" stroke-linecap="butt"/>
<path d="M270.7 1089.8L290 978L293.5 979.5L297.0 980.8L300.5 982.1L304.0 983.3L307.6 984.4L311.1 985.4L314.6 986.4L318.1 987.2L321.6 988.0L325.2 988.7L328.7 989.3L332.2 989.8L335.8 990.3L339.3 990.6L342.8 991.0L346.4 991.2L349.9 991.4L353.4 991.5L357.0 991.5L360.5 991.5L364.0 991.4L367.6 991.2L371.1 991.0L374.7 990.7L378.2 990.4L381.8 990.0L385.3 989.5L388.9 989.0L392.4 988.4L396.0 987.8L399.5 987.2L403.1 986.5L406.6 985.7L410.2 984.9L413.7 984.1L417.3 983.2L420.9 982.3L424.4 981.3L428.0 980.3L431.5 979.3L435.1 978.2L438.7 977.1L442.2 976.0L445.8 974.8L449.4 973.6L452.9 972.4L456.4 971.1L460.0 969.8L463.5 968.5L466.9 967.0L470.4 965.6L473.8 964.1L477.1 962.5L480.5 960.9L483.8 959.3L487.0 957.5L490.2 955.7L493.3 953.9L496.4 952.0L499.4 950.0L502.3 947.9L505.2 945.8L508.0 943.6L510.7 941.3L513.4 938.9L515.9 936.5L518.3 933.9L520.7 931.3L523.0 928.6L525.1 925.8L527.2 923.0L529.2 920.0L531.1 917.0L532.9 913.9L534.7 910.8L536.5 907.6L538.1 904.4L539.8 901.2L541.4 898.0L543.0 894.7L544.5 891.4L546.1 888.1L547.6 884.8L549.1 881.6L550.7 878.2L552.1 874.9L553.6 871.6L555.1 868.3L556.5 865.0L558.0 861.7L559.4 858.3L560.8 855.0L562.2 851.7L563.6 848.3L565.0 845.0L566.4 841.6L567.7 838.2L569.1 834.9L570.4 831.5L571.7 828.1L573.0 824.8L574.4 821.4L575.6 818.0L576.9 814.6L578.2 811.2L579.5 807.8L580.7 804.4L582.0 801.0L583.2 797.6L584.5 794.2L585.7 790.8L586.9 787.4L588.1 784.0L589.4 780.6L590.6 777.1L591.8 773.7L592.9 770.3L594.1 766.9L595.3 763.4L596.5 760.0L597.7 756.6L598.8 753.2L600.0 749.7L601.1 746.3L602.3 742.8L603.5 739.4L604.6 736.0L605.7 732.5L606.9 729.1L608.0 725.6L609.2 722.2L610.3 718.8L611.4 715.3L612.6 711.9L613.7 708.4L614.8 705.0L616.0 701.5L617.1 698.1L618.2 694.6L619.4 691.2L620.5 687.8L621.6 684.3L622.8 680.9L623.9 677.4L625.1 674.0L626.2 670.6L627.3 667.1L628.5 663.7L629.6 660.2L630.8 656.8L631.9 653.4L633.1 649.9L634.3 646.5L635.4 643.1L636.6 639.7L637.8 636.2L639.0 632.8L640.1 629.4L641.3 626.0L642.5 622.6L643.7 619.2L644.9 615.7L646.2 612.3L647.4 608.9L648.6 605.5L649.9 602.1L651.1 598.8L652.4 595.4L653.6 592.0L654.9 588.6L656.2 585.2L657.4 581.8L658.7 578.5L660.1 575.1L661.4 571.7L662.7 568.4L664.0 565.0L665.4 561.7L666.7 558.3L668.1 555.0L669.5 551.6L670.9 548.3L672.3 545.0L673.7 541.7L675.1 538.4L676.6 535.0L678.0 531.7L679.5 528.4L681.0 525.1L682.5 521.9L684.0 518.6L685.5 515.3L687.0 512.0L688.6 508.8L690.1 505.5L691.7 502.3L693.3 499.0L694.9 495.8L696.6 492.5L698.2 489.3L699.9 486.1L701.6 482.9L703.3 479.7L705.0 476.5L706.7 473.3L708.5 470.1L710.2 466.9L712.0 463.8L713.8 460.6L715.6 457.5L717.5 454.3L719.3 451.2L721.2 448.1L723.1 445.0L725.0 441.9L726.9 438.8L728.9 435.7L730.8 432.6L732.8 429.6L734.8 426.5L736.8 423.5L738.9 420.4L740.9 417.4L743.0 414.4L745.1 411.4L747.2 408.4L749.3 405.5L751.4 402.5L753.6 399.6L755.7 396.6L757.9 393.7L760.1 390.8L762.3 387.9L764.6 385.0L766.8 382.2L769.1 379.3L771.4 376.5L773.7 373.7L776.0 370.9L778.3 368.1L780.7 365.3L783.1 362.5L785.4 359.8L787.9 357.1L790.3 354.3L792.7 351.6L795.2 349.0L797.6 346.3L800.1 343.6L802.6 341.0L805.1 338.4L807.7 335.8L810.2 333.2L812.8 330.7L815.4 328.1L818.0 325.6L820.6 323.1L823.2 320.6L825.9 318.2L828.6 315.7L831.2 313.3L833.9 310.9L836.7 308.5L839.4 306.1L842.1 303.8L844.9 301.4L847.7 299.1L850.5 296.9L853.3 294.6L856.1 292.4L859.0 290.1L861.8 287.9L864.7 285.8L867.6 283.6L870.5 281.5L873.4 279.3L876.3 277.3L879.3 275.2L882.3 273.1L885.2 271.1L888.2 269.1L891.2 267.1L894.2 265.1L897.3 263.2L900.3 261.3L903.4 259.4L906.5 257.5L909.5 255.6L912.6 253.8L915.8 252.0L918.9 250.2L922.0 248.4L925.2 246.6L928.3 244.9L931.5 243.2L934.7 241.5L937.9 239.8L941.1 238.2L944.3 236.5L947.5 234.9L950.8 233.3L954.0 231.8L957.3 230.2L960.5 228.7L963.8 227.2L967.1 225.7L970.4 224.2L973.7 222.8L977.0 221.3L980.4 219.9L983.7 218.6L987.1 217.2L990.4 215.8L993.8 214.5L997.2 213.2L1000.5 211.9L1003.9 210.7L1007.3 209.4L1010.7 208.2L1014.1 207.0L1017.6 205.8L1021.0 204.7L1024.4 203.5L1027.9 202.4L1031.3 201.3L1034.8 200.2L1038.2 199.2L1041.7 198.1L1045.2 197.1L1048.7 196.1L1052.1 195.1L1055.6 194.2L1059.1 193.2L1062.6 192.3L1066.1 191.4L1069.7 190.5L1073.2 189.6L1076.7 188.8L1080.2 187.9L1083.8 187.1L1087.3 186.3L1090.9 185.5L1094.4 184.7L1098.0 184.0L1101.5 183.2L1105.1 182.5L1108.6 181.8L1112.2 181.1L1115.8 180.4L1119.3 179.7L1122.9 179.1L1126.5 178.4L1130.1 177.8L1133.6 177.2L1137.2 176.6L1140.8 176.0L1144.4 175.4L1148.0 174.8L1151.6 174.3L1155.2 173.7L1158.8 173.2L1162.4 172.7L1166.0 172.2L1169.6 171.7L1173.2 171.2L1176.8 170.7L1180.4 170.3L1184.0 169.8L1187.6 169.4L1191.2 168.9L1194.8 168.5L1198.4 168.1L1202.0 167.7L1205.6 167.3L1209.2 166.9L1212.8 166.5L1216.4 166.2L1220.0 165.8L1223.6 165.5L1227.2 165.1L1230.8 164.8L1234.4 164.5L1238.0 164.2L1241.6 163.9L1245.2 163.6L1248.9 163.3L1252.5 163.0L1256.1 162.7L1259.7 162.5L1263.3 162.2L1266.9 162.0L1270.5 161.7L1274.1 161.5L1277.7 161.3L1281.3 161.1L1284.9 160.9L1288.6 160.7L1292.2 160.5L1295.8 160.3L1299.4 160.1L1303.0 160.0L1306.6 159.8L1310.2 159.7L1313.8 159.5L1317.4 159.4L1321.1 159.3L1324.7 159.2L1328.3 159.0L1331.9 158.9L1335.5 158.8L1339.1 158.7L1342.7 158.7L1346.4 158.6L1350.0 158.5L1353.6 158.5L1357.2 158.4L1360.8 158.3L1364.4 158.3L1368.0 158.3L1371.7 158.2L1375.3 158.2L1378.9 158.2L1382.5 158.2L1386.1 158.2L1389.7 158.2L1393.4 158.2L1397.0 158.2L1400.6 158.2L1404.2 158.2L1407.8 158.2L1411.5 158.3L1415.1 158.3L1418.7 158.4L1422.3 158.4L1425.9 158.5L1429.5 158.5L1433.2 158.6L1436.8 158.7L1440.4 158.7L1444.0 158.8L1447.6 158.9L1451.3 159.0L1454.9 159.1L1458.5 159.2L1462.1 159.3L1465.7 159.4L1469.4 159.5L1473.0 159.6L1476.6 159.7L1480.2 159.9L1483.8 160.0L1487.5 160.1L1491.1 160.3L1494.7 160.4L1498.3 160.5L1501.9 160.7L1505.6 160.8L1509.2 161.0L1512.8 161.2L1516.4 161.3L1520.1 161.5L1523.7 161.7L1527.3 161.8L1530.9 162.0L1534.5 162.2L1538.2 162.4L1541.8 162.6L1545.4 162.7L1549.0 162.9L1552.6 163.1L1556.3 163.3L1559.9 163.5L1563.5 163.7L1567.1 163.9L1570.8 164.1L1574.4 164.3L1578.0 164.5L1581.6 164.8L1585.2 165.0L1588.9 165.2L1592.5 165.4L1596.1 165.6L1599.7 165.9L1603.4 166.1L1607.0 166.3L1610.6 166.5L1614.2 166.8L1617.8 167.0L1621.5 167.2L1625.1 167.5L1628.7 167.7L1632.3 167.9L1636.0 168.2L1639.6 168.4L1643.2 168.6L1646.8 168.9L1650.4 169.1L1654.1 169.4L1657.7 169.6L1661.3 169.8L1664.9 170.1L1668.6 170.3L1672.2 170.6L1675.8 170.8L1679.4 171.1L1683.0 171.3L1686.7 171.6L1690.3 171.8L1693.9 172.1L1697.5 172.3L1701.1 172.5L1704.8 172.8L1708.4 173.0L1712.0 173.3L1715.6 173.5L1719.2 173.8L1722.9 174.0L1726.5 174.2L1730.1 174.5L1733.7 174.7L1737.4 175.0L1741.0 175.2L1744.6 175.5L1748.2 175.7L1751.8 175.9L1755.4 176.2L1759.1 176.4L1762.7 176.7L1766.3 176.9L1769.9 177.1L1773.5 177.4L1777.2 177.6L1780.8 177.8L1784.4 178.1L1788.0 178.3L1791.6 178.5L1795.3 178.8L1798.9 179.0L1802.5 179.3L1806.1 179.5L1809.7 179.7L1813.4 180.0L1817.0 180.2L1820.6 180.4L1824.2 180.7L1827.8 180.9L1831.4 181.1L1835.1 181.4L1838.7 181.6L1842.3 181.8L1845.9 182.0L1849.5 182.3L1853.2 182.5L1856.8 182.7L1860.4 183.0L1864.0 183.2L1867.6 183.4L1871.2 183.7L1874.9 183.9L1878.5 184.1L1882.1 184.3L1885.7 184.6L1889.3 184.8L1892.9 185.0L1896.6 185.2L1900.2 185.5L1903.8 185.7L1907.4 185.9L1911.0 186.1L1914.6 186.4L1918.3 186.6L1921.9 186.8L1925.5 187.0L1929.1 187.3L1932.7 187.5L1936.3 187.7L1940.0 187.9L1943.6 188.2L1947.2 188.4L1950.8 188.6L1954.4 188.8L1958.0 189.0L1961.7 189.3L1965.3 189.5L1968.9 189.7L1972.5 189.9L1976.1 190.1L1979.7 190.4L1983.4 190.6L1987.0 190.8L1990.6 191.0L1994.2 191.2L1997.8 191.5L2001.4 191.7L2005.1 191.9L2008.7 192.1L2012.3 192.3L2015.9 192.5L2019.5 192.8L2023.1 193.0L2026.8 193.2L2030.4 193.4L2034.0 193.6L2037.6 193.8L2041.2 194.1L2044.8 194.3L2048.5 194.5L2052.1 194.7L2055.7 194.9L2059.3 195.1L2062.9 195.3L2066.5 195.6L2070.2 195.8L2073.8 196.0L2077.4 196.2L2081.0 196.4L2084.6 196.6L2088.2 196.8L2091.9 197.0L2095.5 197.3L2099.1 197.5L2102.7 197.7L2106.3 197.9L2109.9 198.1L2113.6 198.3L2117.2 198.5L2120.8 198.7L2124.4 198.9L2128.0 199.2L2131.6 199.4L2135.3 199.6L2138.9 199.8L2142.5 200.0L2146.1 200.2L2149.7 200.4L2153.3 200.6L2157.0 200.8L2160.6 201.0L2164.2 201.2L2167.8 201.4L2171.4 201.7L2175.0 201.9L2178.7 202.1L2182.3 202.3L2185.9 202.5L2189.5 202.7L2193.1 202.9L2196.7 203.1L2200.4 203.3L2204.0 203.5L2207.6 203.7L2211.2 203.9L2214.8 204.1L2218.4 204.3L2222.1 204.5L2225.7 204.8L2229.3 205.0L2232.9 205.2L2236.5 205.4L2240.1 205.6L2243.8 205.8L2247.4 206.0L2251.0 206.2L2254.6 206.4L2258.2 206.6L2261.9 206.8L2265.5 207.0L2269.1 207.2L2272.7 207.4L2276.3 207.6L2279.9 207.8L2283.6 208.0L2287.2 208.2L2290.8 208.4L2294.4 208.6L2298.0 208.8L2301.7 209.0L2305.3 209.2L2308.9 209.4L2312.5 209.6L2316.1 209.8L2319.8 210.0L2323.4 210.2L2327.0 210.4L2330.6 210.6L2334.2 210.8L2337.9 211.0L2341.5 211.2L2345.1 211.4L2348.7 211.6L2352.3 211.8L2355.9 212.0L2359.6 212.2L2363.2 212.4L2366.8 212.6L2370.4 212.8L2374.1 213.0L2377.7 213.2L2381.3 213.4" stroke="#ffc000" stroke-width="3.4" fill="none" stroke-linejoin="round" stroke-linecap="butt"/>
<path d="M271.9 1103.4L288.7 973.6L292.1 974.8L295.6 975.8L299.0 976.8L302.5 977.8L306.0 978.6L309.5 979.4L313.0 980.2L316.6 980.8L320.1 981.4L323.7 981.9L327.3 982.4L330.8 982.8L334.4 983.1L338.0 983.3L341.7 983.5L345.3 983.6L348.9 983.7L352.5 983.7L356.2 983.6L359.8 983.5L363.4 983.3L367.1 983.0L370.7 982.7L374.3 982.3L378.0 981.9L381.6 981.4L385.2 980.8L388.8 980.2L392.4 979.5L396.0 978.8L399.6 978.0L403.1 977.1L406.7 976.2L410.2 975.2L413.8 974.2L417.3 973.1L420.8 972.0L424.2 970.8L427.7 969.6L431.1 968.3L434.6 967.0L438.0 965.6L441.3 964.1L444.7 962.6L448.0 961.1L451.3 959.5L454.5 957.8L457.8 956.1L461.0 954.3L464.1 952.5L467.2 950.7L470.3 948.8L473.4 946.8L476.3 944.8L479.3 942.7L482.2 940.6L485.0 938.4L487.8 936.2L490.6 933.9L493.3 931.6L495.9 929.2L498.5 926.7L501.0 924.2L503.4 921.7L505.8 919.1L508.1 916.4L510.4 913.7L512.6 911.0L514.7 908.1L516.7 905.3L518.7 902.4L520.7 899.4L522.5 896.4L524.4 893.4L526.1 890.3L527.9 887.2L529.5 884.0L531.2 880.9L532.8 877.6L534.3 874.4L535.9 871.1L537.4 867.8L538.8 864.5L540.2 861.2L541.6 857.8L543.0 854.5L544.4 851.1L545.7 847.7L547.0 844.3L548.3 840.8L549.6 837.4L550.9 834.0L552.1 830.5L553.4 827.1L554.7 823.7L555.9 820.2L557.2 816.8L558.4 813.3L559.6 809.9L560.8 806.4L562.1 803.0L563.3 799.5L564.5 796.0L565.7 792.6L566.9 789.1L568.1 785.7L569.3 782.2L570.4 778.7L571.6 775.3L572.8 771.8L574.0 768.3L575.2 764.9L576.3 761.4L577.5 757.9L578.6 754.5L579.8 751.0L581.0 747.5L582.1 744.0L583.3 740.6L584.4 737.1L585.6 733.6L586.7 730.2L587.9 726.7L589.0 723.2L590.2 719.8L591.3 716.3L592.5 712.8L593.6 709.4L594.8 705.9L595.9 702.4L597.1 699.0L598.2 695.5L599.4 692.0L600.5 688.6L601.7 685.1L602.8 681.7L604.0 678.2L605.1 674.7L606.3 671.3L607.5 667.8L608.6 664.4L609.8 661.0L611.0 657.5L612.2 654.1L613.3 650.6L614.5 647.2L615.7 643.8L616.9 640.3L618.1 636.9L619.3 633.5L620.5 630.0L621.7 626.6L622.9 623.2L624.2 619.8L625.4 616.4L626.6 613.0L627.9 609.6L629.1 606.2L630.4 602.8L631.6 599.4L632.9 596.0L634.2 592.6L635.4 589.2L636.7 585.8L638.0 582.5L639.3 579.1L640.6 575.7L642.0 572.4L643.3 569.0L644.6 565.7L646.0 562.3L647.3 559.0L648.7 555.6L650.1 552.3L651.5 549.0L652.9 545.7L654.3 542.3L655.7 539.0L657.1 535.7L658.6 532.4L660.0 529.1L661.5 525.8L662.9 522.6L664.4 519.3L665.9 516.0L667.4 512.7L668.9 509.5L670.5 506.2L672.0 503.0L673.6 499.7L675.2 496.5L676.7 493.3L678.3 490.1L680.0 486.8L681.6 483.6L683.2 480.4L684.9 477.3L686.5 474.1L688.2 470.9L689.9 467.7L691.6 464.6L693.4 461.4L695.1 458.3L696.9 455.1L698.7 452.0L700.5 448.9L702.3 445.7L704.1 442.6L705.9 439.5L707.8 436.4L709.7 433.4L711.6 430.3L713.5 427.2L715.4 424.2L717.4 421.1L719.3 418.1L721.3 415.1L723.3 412.0L725.4 409.0L727.4 406.0L729.5 403.0L731.6 400.0L733.7 397.1L735.8 394.1L737.9 391.1L740.1 388.2L742.3 385.3L744.5 382.3L746.7 379.4L748.9 376.5L751.2 373.6L753.5 370.8L755.8 367.9L758.1 365.0L760.4 362.2L762.8 359.4L765.1 356.6L767.5 353.8L769.9 351.0L772.3 348.2L774.8 345.4L777.2 342.7L779.7 339.9L782.2 337.2L784.7 334.5L787.2 331.8L789.7 329.2L792.3 326.5L794.9 323.8L797.5 321.2L800.1 318.6L802.7 316.0L805.3 313.4L808.0 310.9L810.7 308.3L813.3 305.8L816.0 303.3L818.8 300.8L821.5 298.3L824.2 295.8L827.0 293.4L829.8 291.0L832.5 288.6L835.4 286.2L838.2 283.8L841.0 281.5L843.8 279.2L846.7 276.9L849.6 274.6L852.5 272.3L855.4 270.1L858.3 267.8L861.2 265.6L864.2 263.5L867.1 261.3L870.1 259.2L873.1 257.1L876.1 255.0L879.1 252.9L882.1 250.8L885.1 248.8L888.2 246.8L891.2 244.8L894.3 242.9L897.4 241.0L900.4 239.0L903.5 237.2L906.7 235.3L909.8 233.5L912.9 231.7L916.1 229.9L919.2 228.1L922.4 226.4L925.6 224.7L928.8 223.0L932.0 221.4L935.2 219.7L938.4 218.1L941.6 216.6L944.9 215.0L948.1 213.5L951.4 212.0L954.6 210.5L957.9 209.1L961.2 207.7L964.5 206.3L967.8 204.9L971.1 203.5L974.4 202.2L977.8 200.9L981.1 199.6L984.5 198.4L987.8 197.1L991.2 195.9L994.6 194.7L997.9 193.5L1001.3 192.4L1004.7 191.3L1008.1 190.2L1011.5 189.1L1015.0 188.0L1018.4 187.0L1021.8 186.0L1025.3 185.0L1028.7 184.0L1032.2 183.0L1035.6 182.1L1039.1 181.1L1042.6 180.2L1046.1 179.4L1049.5 178.5L1053.0 177.6L1056.5 176.8L1060.0 176.0L1063.6 175.2L1067.1 174.4L1070.6 173.7L1074.1 172.9L1077.7 172.2L1081.2 171.5L1084.7 170.8L1088.3 170.1L1091.8 169.4L1095.4 168.8L1099.0 168.1L1102.5 167.5L1106.1 166.9L1109.7 166.3L1113.2 165.8L1116.8 165.2L1120.4 164.6L1124.0 164.1L1127.6 163.6L1131.2 163.1L1134.8 162.6L1138.4 162.1L1142.0 161.6L1145.6 161.2L1149.2 160.7L1152.8 160.3L1156.4 159.9L1160.1 159.5L1163.7 159.1L1167.3 158.7L1170.9 158.3L1174.6 157.9L1178.2 157.6L1181.8 157.2L1185.4 156.9L1189.1 156.5L1192.7 156.2L1196.4 155.9L1200.0 155.6L1203.6 155.3L1207.3 155.0L1210.9 154.7L1214.6 154.5L1218.2 154.2L1221.8 153.9L1225.5 153.7L1229.1 153.4L1232.8 153.2L1236.4 153.0L1240.1 152.7L1243.7 152.5L1247.3 152.3L1251.0 152.1L1254.6 151.9L1258.3 151.7L1261.9 151.5L1265.5 151.3L1269.2 151.2L1272.8 151.0L1276.5 150.8L1280.1 150.6L1283.7 150.5L1287.4 150.3L1291.0 150.2L1294.7 150.1L1298.3 149.9L1301.9 149.8L1305.6 149.7L1309.2 149.5L1312.8 149.4L1316.5 149.3L1320.1 149.2L1323.7 149.1L1327.4 149.0L1331.0 148.9L1334.7 148.9L1338.3 148.8L1341.9 148.7L1345.6 148.6L1349.2 148.6L1352.8 148.5L1356.5 148.5L1360.1 148.4L1363.7 148.4L1367.4 148.3L1371.0 148.3L1374.6 148.3L1378.2 148.2L1381.9 148.2L1385.5 148.2L1389.1 148.2L1392.8 148.2L1396.4 148.2L1400.0 148.2L1403.7 148.2L1407.3 148.2L1410.9 148.2L1414.6 148.2L1418.2 148.2L1421.8 148.3L1425.4 148.3L1429.1 148.3L1432.7 148.4L1436.3 148.4L1440.0 148.5L1443.6 148.5L1447.2 148.6L1450.8 148.6L1454.5 148.7L1458.1 148.8L1461.7 148.8L1465.3 148.9L1469.0 149.0L1472.6 149.1L1476.2 149.2L1479.9 149.2L1483.5 149.3L1487.1 149.4L1490.7 149.5L1494.4 149.6L1498.0 149.8L1501.6 149.9L1505.2 150.0L1508.9 150.1L1512.5 150.2L1516.1 150.4L1519.7 150.5L1523.3 150.6L1527.0 150.8L1530.6 150.9L1534.2 151.0L1537.8 151.2L1541.5 151.3L1545.1 151.5L1548.7 151.6L1552.3 151.8L1556.0 152.0L1559.6 152.1L1563.2 152.3L1566.8 152.5L1570.4 152.6L1574.1 152.8L1577.7 153.0L1581.3 153.2L1584.9 153.4L1588.5 153.5L1592.2 153.7L1595.8 153.9L1599.4 154.1L1603.0 154.3L1606.6 154.5L1610.3 154.7L1613.9 154.9L1617.5 155.1L1621.1 155.4L1624.7 155.6L1628.4 155.8L1632.0 156.0L1635.6 156.2L1639.2 156.4L1642.8 156.7L1646.5 156.9L1650.1 157.1L1653.7 157.4L1657.3 157.6L1660.9 157.8L1664.6 158.1L1668.2 158.3L1671.8 158.6L1675.4 158.8L1679.0 159.0L1682.6 159.3L1686.3 159.5L1689.9 159.8L1693.5 160.0L1697.1 160.3L1700.7 160.6L1704.4 160.8L1708.0 161.1L1711.6 161.3L1715.2 161.6L1718.8 161.9L1722.4 162.1L1726.1 162.4L1729.7 162.7L1733.3 163.0L1736.9 163.2L1740.5 163.5L1744.1 163.8L1747.8 164.1L1751.4 164.3L1755.0 164.6L1758.6 164.9L1762.2 165.2L1765.8 165.5L1769.5 165.7L1773.1 166.0L1776.7 166.3L1780.3 166.6L1783.9 166.9L1787.5 167.2L1791.1 167.5L1794.8 167.8L1798.4 168.1L1802.0 168.4L1805.6 168.7L1809.2 168.9L1812.8 169.2L1816.5 169.5L1820.1 169.8L1823.7 170.1L1827.3 170.4L1830.9 170.7L1834.5 171.0L1838.2 171.3L1841.8 171.6L1845.4 171.9L1849.0 172.2L1852.6 172.5L1856.2 172.8L1859.8 173.1L1863.5 173.4L1867.1 173.8L1870.7 174.1L1874.3 174.4L1877.9 174.7L1881.5 175.0L1885.2 175.3L1888.8 175.6L1892.4 175.9L1896.0 176.2L1899.6 176.5L1903.2 176.8L1906.8 177.1L1910.5 177.4L1914.1 177.7L1917.7 178.0L1921.3 178.3L1924.9 178.6L1928.5 178.9L1932.2 179.2L1935.8 179.5L1939.4 179.8L1943.0 180.1L1946.6 180.4L1950.2 180.7L1953.9 181.0L1957.5 181.3L1961.1 181.6L1964.7 181.9L1968.3 182.2L1971.9 182.5L1975.6 182.8L1979.2 183.1L1982.8 183.4L1986.4 183.7L1990.0 184.0L1993.6 184.3L1997.3 184.6L2000.9 184.9L2004.5 185.2L2008.1 185.5L2011.7 185.8L2015.3 186.0L2019.0 186.3L2022.6 186.6L2026.2 186.9L2029.8 187.2L2033.4 187.5L2037.0 187.7L2040.7 188.0L2044.3 188.3L2047.9 188.6L2051.5 188.9L2055.1 189.1L2058.8 189.4L2062.4 189.7L2066.0 189.9L2069.6 190.2L2073.2 190.5L2076.8 190.7L2080.5 191.0L2084.1 191.3L2087.7 191.5L2091.3 191.8L2094.9 192.0L2098.6 192.3L2102.2 192.5L2105.8 192.8L2109.4 193.0L2113.0 193.3L2116.7 193.5L2120.3 193.8L2123.9 194.0L2127.5 194.3L2131.1 194.5L2134.8 194.7L2138.4 195.0L2142.0 195.2L2145.6 195.4L2149.2 195.6L2152.9 195.9L2156.5 196.1L2160.1 196.3L2163.7 196.5L2167.3 196.7L2171.0 197.0L2174.6 197.2L2178.2 197.4L2181.8 197.6L2185.5 197.8L2189.1 198.0L2192.7 198.2L2196.3 198.4L2200.0 198.6L2203.6 198.7L2207.2 198.9L2210.8 199.1L2214.4 199.3L2218.1 199.5L2221.7 199.6L2225.3 199.8L2228.9 200.0L2232.6 200.2L2236.2 200.3L2239.8 200.5L2243.4 200.6L2247.1 200.8L2250.7 200.9L2254.3 201.1L2257.9 201.2L2261.6 201.4L2265.2 201.5L2268.8 201.6L2272.5 201.8L2276.1 201.9L2279.7 202.0L2283.3 202.1L2287.0 202.3L2290.6 202.4L2294.2 202.5L2297.8 202.6L2301.5 202.7L2305.1 202.8L2308.7 202.9L2312.4 203.0L2316.0 203.1L2319.6 203.1L2323.3 203.2L2326.9 203.3L2330.5 203.4L2334.1 203.4L2337.8 203.5L2341.4 203.6L2345.0 203.6L2348.7 203.7L2352.3 203.7L2355.9 203.8L2359.6 203.8L2363.2 203.9L2366.8 203.9L2370.5 203.9L2374.1 203.9L2377.7 204.0L2381.4 204.0" stroke="#2e75b6" stroke-width="3.4" fill="none" stroke-linejoin="round" stroke-linecap="butt"/>
<path d="M269.8 966.8L288.7 960L292.1 962.0L295.5 963.9L298.9 965.6L302.3 967.2L305.7 968.7L309.1 970.1L312.6 971.4L316.0 972.5L319.5 973.6L323.0 974.5L326.4 975.3L329.9 976.0L333.4 976.7L336.9 977.2L340.4 977.6L343.9 978.0L347.4 978.2L350.9 978.4L354.5 978.5L358.0 978.5L361.5 978.4L365.1 978.3L368.7 978.1L372.2 977.8L375.8 977.5L379.4 977.1L382.9 976.6L386.5 976.1L390.1 975.6L393.7 975.0L397.3 974.3L400.9 973.6L404.5 972.9L408.1 972.1L411.7 971.3L415.3 970.4L418.9 969.5L422.5 968.6L426.1 967.6L429.7 966.5L433.3 965.4L436.8 964.3L440.3 963.1L443.9 961.8L447.3 960.6L450.8 959.2L454.3 957.8L457.7 956.3L461.1 954.8L464.4 953.3L467.7 951.6L471.0 950.0L474.3 948.2L477.5 946.4L480.6 944.6L483.7 942.6L486.8 940.6L489.8 938.6L492.7 936.4L495.5 934.2L498.3 931.9L501.0 929.6L503.6 927.1L506.1 924.6L508.6 922.0L510.9 919.4L513.1 916.6L515.3 913.7L517.3 910.8L519.3 907.8L521.1 904.8L522.9 901.7L524.7 898.5L526.4 895.4L528.1 892.2L529.7 889.0L531.4 885.7L533.0 882.5L534.6 879.3L536.2 876.0L537.7 872.8L539.3 869.5L540.8 866.2L542.3 862.9L543.9 859.7L545.4 856.4L546.8 853.1L548.3 849.8L549.8 846.5L551.2 843.2L552.7 839.8L554.1 836.5L555.5 833.2L556.9 829.8L558.3 826.5L559.6 823.2L561.0 819.8L562.4 816.4L563.7 813.1L565.0 809.7L566.4 806.3L567.7 803.0L569.0 799.6L570.3 796.2L571.6 792.8L572.8 789.4L574.1 786.0L575.4 782.6L576.6 779.2L577.9 775.8L579.1 772.4L580.4 769.0L581.6 765.5L582.8 762.1L584.0 758.7L585.2 755.3L586.4 751.8L587.6 748.4L588.8 745.0L590.0 741.5L591.2 738.1L592.4 734.7L593.6 731.2L594.7 727.8L595.9 724.3L597.1 720.9L598.2 717.4L599.4 714.0L600.6 710.5L601.7 707.1L602.9 703.6L604.0 700.1L605.2 696.7L606.3 693.2L607.5 689.8L608.6 686.3L609.8 682.9L610.9 679.4L612.0 675.9L613.2 672.5L614.3 669.0L615.5 665.6L616.6 662.1L617.8 658.7L619.0 655.2L620.1 651.7L621.3 648.3L622.4 644.8L623.6 641.4L624.8 637.9L625.9 634.5L627.1 631.0L628.3 627.6L629.5 624.2L630.6 620.7L631.8 617.3L633.0 613.8L634.2 610.4L635.4 607.0L636.6 603.5L637.9 600.1L639.1 596.7L640.3 593.3L641.5 589.9L642.8 586.4L644.0 583.0L645.3 579.6L646.6 576.2L647.8 572.8L649.1 569.4L650.4 566.0L651.7 562.6L653.0 559.3L654.3 555.9L655.7 552.5L657.0 549.1L658.3 545.8L659.7 542.4L661.1 539.1L662.4 535.7L663.8 532.4L665.2 529.0L666.6 525.7L668.1 522.4L669.5 519.0L670.9 515.7L672.4 512.4L673.9 509.1L675.4 505.8L676.9 502.5L678.4 499.2L679.9 495.9L681.5 492.7L683.0 489.4L684.6 486.1L686.2 482.9L687.8 479.6L689.4 476.4L691.0 473.2L692.7 470.0L694.3 466.7L696.0 463.5L697.7 460.3L699.4 457.1L701.2 454.0L702.9 450.8L704.7 447.6L706.5 444.5L708.3 441.3L710.1 438.2L711.9 435.0L713.8 431.9L715.7 428.8L717.6 425.7L719.5 422.6L721.4 419.5L723.4 416.5L725.4 413.4L727.4 410.3L729.4 407.3L731.4 404.3L733.5 401.2L735.5 398.2L737.6 395.2L739.7 392.3L741.8 389.3L744.0 386.3L746.2 383.4L748.3 380.4L750.5 377.5L752.7 374.6L755.0 371.7L757.2 368.8L759.5 365.9L761.8 363.1L764.1 360.2L766.4 357.4L768.7 354.6L771.1 351.8L773.4 349.0L775.8 346.2L778.2 343.4L780.6 340.7L783.1 338.0L785.5 335.2L788.0 332.5L790.5 329.9L793.0 327.2L795.5 324.5L798.0 321.9L800.6 319.3L803.2 316.7L805.7 314.1L808.3 311.5L810.9 309.0L813.6 306.4L816.2 303.9L818.9 301.4L821.6 298.9L824.2 296.5L826.9 294.0L829.7 291.6L832.4 289.2L835.2 286.8L837.9 284.5L840.7 282.1L843.5 279.8L846.3 277.5L849.1 275.2L852.0 272.9L854.8 270.7L857.7 268.4L860.6 266.2L863.5 264.1L866.4 261.9L869.3 259.7L872.2 257.6L875.2 255.5L878.1 253.4L881.1 251.4L884.1 249.4L887.1 247.3L890.1 245.4L893.2 243.4L896.2 241.5L899.3 239.5L902.3 237.6L905.4 235.8L908.5 233.9L911.6 232.1L914.7 230.3L917.9 228.5L921.0 226.8L924.2 225.0L927.3 223.3L930.5 221.7L933.7 220.0L936.9 218.4L940.1 216.7L943.4 215.2L946.6 213.6L949.8 212.0L953.1 210.5L956.4 209.0L959.6 207.5L962.9 206.1L966.2 204.6L969.5 203.2L972.9 201.8L976.2 200.4L979.5 199.1L982.9 197.7L986.2 196.4L989.6 195.1L993.0 193.9L996.4 192.6L999.8 191.4L1003.2 190.1L1006.6 188.9L1010.0 187.8L1013.4 186.6L1016.8 185.5L1020.3 184.3L1023.7 183.2L1027.2 182.1L1030.6 181.1L1034.1 180.0L1037.6 179.0L1041.1 178.0L1044.5 177.0L1048.0 176.0L1051.5 175.0L1055.0 174.1L1058.6 173.1L1062.1 172.2L1065.6 171.3L1069.1 170.4L1072.7 169.6L1076.2 168.7L1079.7 167.9L1083.3 167.0L1086.8 166.2L1090.4 165.4L1094.0 164.7L1097.5 163.9L1101.1 163.1L1104.7 162.4L1108.2 161.7L1111.8 161.0L1115.4 160.3L1119.0 159.6L1122.6 158.9L1126.2 158.3L1129.8 157.6L1133.4 157.0L1137.0 156.4L1140.6 155.8L1144.2 155.2L1147.8 154.6L1151.4 154.0L1155.0 153.5L1158.6 152.9L1162.2 152.4L1165.8 151.9L1169.4 151.3L1173.0 150.8L1176.7 150.4L1180.3 149.9L1183.9 149.4L1187.5 148.9L1191.1 148.5L1194.7 148.0L1198.3 147.6L1202.0 147.2L1205.6 146.8L1209.2 146.4L1212.8 146.0L1216.4 145.6L1220.1 145.2L1223.7 144.9L1227.3 144.5L1230.9 144.2L1234.5 143.8L1238.1 143.5L1241.8 143.2L1245.4 142.9L1249.0 142.6L1252.6 142.3L1256.2 142.0L1259.9 141.7L1263.5 141.5L1267.1 141.2L1270.7 141.0L1274.4 140.7L1278.0 140.5L1281.6 140.3L1285.2 140.1L1288.8 139.9L1292.5 139.7L1296.1 139.5L1299.7 139.3L1303.3 139.1L1307.0 138.9L1310.6 138.8L1314.2 138.6L1317.8 138.5L1321.5 138.3L1325.1 138.2L1328.7 138.1L1332.3 138.0L1336.0 137.9L1339.6 137.8L1343.2 137.7L1346.8 137.6L1350.5 137.5L1354.1 137.4L1357.7 137.4L1361.3 137.3L1365.0 137.2L1368.6 137.2L1372.2 137.2L1375.8 137.1L1379.5 137.1L1383.1 137.1L1386.7 137.0L1390.4 137.0L1394.0 137.0L1397.6 137.0L1401.2 137.0L1404.9 137.1L1408.5 137.1L1412.1 137.1L1415.8 137.1L1419.4 137.2L1423.0 137.2L1426.6 137.2L1430.3 137.3L1433.9 137.3L1437.5 137.4L1441.2 137.5L1444.8 137.5L1448.4 137.6L1452.1 137.7L1455.7 137.8L1459.3 137.9L1462.9 138.0L1466.6 138.1L1470.2 138.2L1473.8 138.3L1477.5 138.4L1481.1 138.5L1484.7 138.6L1488.4 138.7L1492.0 138.9L1495.6 139.0L1499.3 139.1L1502.9 139.3L1506.5 139.4L1510.2 139.6L1513.8 139.7L1517.4 139.9L1521.0 140.0L1524.7 140.2L1528.3 140.3L1531.9 140.5L1535.6 140.7L1539.2 140.8L1542.8 141.0L1546.5 141.2L1550.1 141.4L1553.7 141.6L1557.4 141.7L1561.0 141.9L1564.6 142.1L1568.3 142.3L1571.9 142.5L1575.5 142.7L1579.2 142.9L1582.8 143.1L1586.4 143.3L1590.1 143.5L1593.7 143.7L1597.3 143.9L1601.0 144.1L1604.6 144.3L1608.2 144.6L1611.9 144.8L1615.5 145.0L1619.1 145.2L1622.7 145.4L1626.4 145.6L1630.0 145.9L1633.6 146.1L1637.3 146.3L1640.9 146.5L1644.5 146.8L1648.2 147.0L1651.8 147.2L1655.4 147.4L1659.1 147.7L1662.7 147.9L1666.3 148.1L1670.0 148.3L1673.6 148.6L1677.2 148.8L1680.9 149.0L1684.5 149.3L1688.1 149.5L1691.8 149.7L1695.4 149.9L1699.0 150.2L1702.7 150.4L1706.3 150.6L1709.9 150.9L1713.6 151.1L1717.2 151.3L1720.8 151.5L1724.4 151.7L1728.1 152.0L1731.7 152.2L1735.3 152.4L1739.0 152.6L1742.6 152.9L1746.2 153.1L1749.9 153.3L1753.5 153.5L1757.1 153.7L1760.8 154.0L1764.4 154.2L1768.0 154.4L1771.6 154.6L1775.3 154.8L1778.9 155.0L1782.5 155.3L1786.2 155.5L1789.8 155.7L1793.4 155.9L1797.1 156.1L1800.7 156.3L1804.3 156.5L1807.9 156.7L1811.6 157.0L1815.2 157.2L1818.8 157.4L1822.5 157.6L1826.1 157.8L1829.7 158.0L1833.4 158.2L1837.0 158.4L1840.6 158.6L1844.2 158.8L1847.9 159.0L1851.5 159.3L1855.1 159.5L1858.8 159.7L1862.4 159.9L1866.0 160.1L1869.6 160.3L1873.3 160.5L1876.9 160.7L1880.5 160.9L1884.2 161.1L1887.8 161.3L1891.4 161.5L1895.0 161.7L1898.7 161.9L1902.3 162.1L1905.9 162.3L1909.6 162.5L1913.2 162.7L1916.8 162.9L1920.4 163.1L1924.1 163.3L1927.7 163.5L1931.3 163.7L1935.0 163.9L1938.6 164.1L1942.2 164.3L1945.8 164.5L1949.5 164.7L1953.1 164.9L1956.7 165.1L1960.4 165.3L1964.0 165.5L1967.6 165.7L1971.2 165.9L1974.9 166.1L1978.5 166.3L1982.1 166.5L1985.8 166.7L1989.4 166.8L1993.0 167.0L1996.6 167.2L2000.3 167.4L2003.9 167.6L2007.5 167.8L2011.2 168.0L2014.8 168.2L2018.4 168.4L2022.0 168.6L2025.7 168.8L2029.3 169.0L2032.9 169.2L2036.6 169.4L2040.2 169.6L2043.8 169.7L2047.4 169.9L2051.1 170.1L2054.7 170.3L2058.3 170.5L2061.9 170.7L2065.6 170.9L2069.2 171.1L2072.8 171.3L2076.5 171.5L2080.1 171.7L2083.7 171.8L2087.3 172.0L2091.0 172.2L2094.6 172.4L2098.2 172.6L2101.9 172.8L2105.5 173.0L2109.1 173.2L2112.7 173.4L2116.4 173.6L2120.0 173.7L2123.6 173.9L2127.3 174.1L2130.9 174.3L2134.5 174.5L2138.1 174.7L2141.8 174.9L2145.4 175.1L2149.0 175.3L2152.7 175.5L2156.3 175.6L2159.9 175.8L2163.5 176.0L2167.2 176.2L2170.8 176.4L2174.4 176.6L2178.0 176.8L2181.7 177.0L2185.3 177.2L2188.9 177.4L2192.6 177.5L2196.2 177.7L2199.8 177.9L2203.4 178.1L2207.1 178.3L2210.7 178.5L2214.3 178.7L2218.0 178.9L2221.6 179.1L2225.2 179.3L2228.8 179.4L2232.5 179.6L2236.1 179.8L2239.7 180.0L2243.4 180.2L2247.0 180.4L2250.6 180.6L2254.3 180.8L2257.9 181.0L2261.5 181.2L2265.1 181.4L2268.8 181.6L2272.4 181.8L2276.0 181.9L2279.7 182.1L2283.3 182.3L2286.9 182.5L2290.5 182.7L2294.2 182.9L2297.8 183.1L2301.4 183.3L2305.1 183.5L2308.7 183.7L2312.3 183.9L2316.0 184.1L2319.6 184.3L2323.2 184.5L2326.8 184.7L2330.5 184.9L2334.1 185.1L2337.7 185.3L2341.4 185.5L2345.0 185.6L2348.6 185.8L2352.3 186.0L2355.9 186.2L2359.5 186.4L2363.1 186.6L2366.8 186.8L2370.4 187.0L2374.0 187.2L2377.7 187.4L2381.3 187.6" stroke="#ff0000" stroke-width="3.4" fill="none" stroke-linejoin="round" stroke-linecap="butt"/>
<path d="M2079 596.3H2138.5" stroke="#404040" stroke-width="3.6"/>
<text x="2142.3" y="608.9" font-size="45.3" textLength="139.7" lengthAdjust="spacingAndGlyphs">Control</text>
<path d="M2079 677H2138.5" stroke="#00b050" stroke-width="3.6"/>
<text x="2142.1" y="689.6" font-size="45.3" textLength="95.3" lengthAdjust="spacingAndGlyphs">2 phr</text>
<path d="M2079 758.8H2138.5" stroke="#a8008c" stroke-width="3.6"/>
<text x="2143.2" y="771.4" font-size="45.3" textLength="95.3" lengthAdjust="spacingAndGlyphs">4 phr</text>
<path d="M2079 839.7H2138.5" stroke="#ffc000" stroke-width="3.6"/>
<text x="2142.2" y="852.3" font-size="45.3" textLength="95.3" lengthAdjust="spacingAndGlyphs">6 phr</text>
<path d="M2079 920.7H2138.5" stroke="#2e75b6" stroke-width="3.6"/>
<text x="2142.4" y="933.3" font-size="45.3" textLength="95.3" lengthAdjust="spacingAndGlyphs">8 phr</text>
<path d="M2079 1001.8H2138.5" stroke="#ff0000" stroke-width="3.6"/>
<text x="2140.1" y="1014.4" font-size="45.3" textLength="118.1" lengthAdjust="spacingAndGlyphs">10 phr</text>
<text x="1180.2" y="1504.1" font-size="85">(<tspan font-weight="bold">a</tspan>)</text>
<g><path d="M295.5 1584.5V2681.8" stroke="#111111" stroke-width="2.2" fill="none"/><path d="M280 2666.3H2364" stroke="#111111" stroke-width="2.2" fill="none"/><path d="M280 2546.1H295.5" stroke="#111111" stroke-width="2.2"/><path d="M280 2425.9H295.5" stroke="#111111" stroke-width="2.2"/><path d="M280 2305.7H295.5" stroke="#111111" stroke-width="2.2"/><path d="M280 2185.5H295.5" stroke="#111111" stroke-width="2.2"/><path d="M280 2065.3H295.5" stroke="#111111" stroke-width="2.2"/><path d="M280 1945.1H295.5" stroke="#111111" stroke-width="2.2"/><path d="M280 1824.9H295.5" stroke="#111111" stroke-width="2.2"/><path d="M280 1704.7H295.5" stroke="#111111" stroke-width="2.2"/><path d="M280 1584.5H295.5" stroke="#111111" stroke-width="2.2"/><path d="M502.4 2666.3V2681.8" stroke="#111111" stroke-width="2.2"/><path d="M709.2 2666.3V2681.8" stroke="#111111" stroke-width="2.2"/><path d="M916 2666.3V2681.8" stroke="#111111" stroke-width="2.2"/><path d="M1122.9 2666.3V2681.8" stroke="#111111" stroke-width="2.2"/><path d="M1329.8 2666.3V2681.8" stroke="#111111" stroke-width="2.2"/><path d="M1536.6 2666.3V2681.8" stroke="#111111" stroke-width="2.2"/><path d="M1743.5 2666.3V2681.8" stroke="#111111" stroke-width="2.2"/><path d="M1950.3 2666.3V2681.8" stroke="#111111" stroke-width="2.2"/><path d="M2157.1 2666.3V2681.8" stroke="#111111" stroke-width="2.2"/><path d="M2364 2666.3V2681.8" stroke="#111111" stroke-width="2.2"/></g>
<text x="168.4" y="2680.4" font-size="47.2" textLength="81.4" lengthAdjust="spacingAndGlyphs">0.00</text>
<text x="168.4" y="2560.2" font-size="47.2" textLength="81.4" lengthAdjust="spacingAndGlyphs">2.00</text>
<text x="168.4" y="2440" font-size="47.2" textLength="81.4" lengthAdjust="spacingAndGlyphs">4.00</text>
<text x="168.4" y="2319.8" font-size="47.2" textLength="81.4" lengthAdjust="spacingAndGlyphs">6.00</text>
<text x="168.4" y="2199.6" font-size="47.2" textLength="81.4" lengthAdjust="spacingAndGlyphs">8.00</text>
<text x="145.2" y="2079.4" font-size="47.2" textLength="104.6" lengthAdjust="spacingAndGlyphs">10.00</text>
<text x="145.2" y="1959.2" font-size="47.2" textLength="104.6" lengthAdjust="spacingAndGlyphs">12.00</text>
<text x="145.2" y="1839" font-size="47.2" textLength="104.6" lengthAdjust="spacingAndGlyphs">14.00</text>
<text x="145.2" y="1718.8" font-size="47.2" textLength="104.6" lengthAdjust="spacingAndGlyphs">16.00</text>
<text x="145.2" y="1598.6" font-size="47.2" textLength="104.6" lengthAdjust="spacingAndGlyphs">18.00</text>
<text x="266.4" y="2746" font-size="47.2" textLength="58.3" lengthAdjust="spacingAndGlyphs">0.0</text>
<text x="473.1" y="2746" font-size="47.2" textLength="58.3" lengthAdjust="spacingAndGlyphs">2.0</text>
<text x="680.5" y="2746" font-size="47.2" textLength="58.3" lengthAdjust="spacingAndGlyphs">4.0</text>
<text x="886.8" y="2746" font-size="47.2" textLength="58.3" lengthAdjust="spacingAndGlyphs">6.0</text>
<text x="1093.8" y="2746" font-size="47.2" textLength="58.3" lengthAdjust="spacingAndGlyphs">8.0</text>
<text x="1287.8" y="2746" font-size="47.2" textLength="81.6" lengthAdjust="spacingAndGlyphs">10.0</text>
<text x="1494.6" y="2746" font-size="47.2" textLength="81.6" lengthAdjust="spacingAndGlyphs">12.0</text>
<text x="1701.5" y="2746" font-size="47.2" textLength="81.6" lengthAdjust="spacingAndGlyphs">14.0</text>
<text x="1908.3" y="2746" font-size="47.2" textLength="81.6" lengthAdjust="spacingAndGlyphs">16.0</text>
<text x="2115.2" y="2746" font-size="47.2" textLength="81.6" lengthAdjust="spacingAndGlyphs">18.0</text>
<text x="2323.1" y="2746" font-size="47.2" textLength="81.6" lengthAdjust="spacingAndGlyphs">20.0</text>
<text transform="translate(100.8 2271.5) rotate(-90)" x="-0.9" y="0" font-size="48.5" textLength="298.8" lengthAdjust="spacingAndGlyphs">Torque (dN.m)</text>
<text x="1241.9" y="2850.6" font-size="49" textLength="225.6" lengthAdjust="spacingAndGlyphs">Time (min)</text>
<text x="361.4" y="1694.2" font-size="51.7" textLength="146.8" lengthAdjust="spacingAndGlyphs">M-TSP</text>
<path d="M296.6 2467.9L307.6 2496.9L314.7 2485.1L318.2 2486.0L321.8 2486.8L325.3 2487.6L328.8 2488.3L332.3 2489.0L335.9 2489.5L339.4 2490.0L342.9 2490.5L346.4 2490.9L349.9 2491.2L353.4 2491.4L356.9 2491.7L360.4 2491.8L364.0 2491.9L367.5 2492.0L371.0 2492.0L374.5 2491.9L377.9 2491.8L381.4 2491.7L384.9 2491.5L388.4 2491.3L391.9 2491.1L395.4 2490.8L398.8 2490.4L402.3 2490.1L405.8 2489.7L409.2 2489.2L412.7 2488.8L416.1 2488.3L419.6 2487.8L423.0 2487.2L426.5 2486.7L429.9 2486.1L433.3 2485.5L436.8 2484.8L440.2 2484.1L443.6 2483.5L447.1 2482.7L450.5 2482.0L453.9 2481.2L457.4 2480.4L460.8 2479.6L464.3 2478.7L467.7 2477.8L471.2 2476.9L474.6 2476.0L478.1 2475.0L481.6 2474.0L485.1 2472.9L488.5 2471.9L492.0 2470.8L495.5 2469.6L499.0 2468.5L502.4 2467.2L505.8 2466.0L509.2 2464.7L512.6 2463.3L516.0 2461.9L519.3 2460.5L522.6 2459.0L525.8 2457.4L529.0 2455.8L532.2 2454.1L535.2 2452.4L538.3 2450.6L541.2 2448.7L544.2 2446.7L547.0 2444.7L549.8 2442.7L552.5 2440.5L555.1 2438.3L557.7 2436.1L560.3 2433.8L562.8 2431.4L565.2 2429.0L567.6 2426.5L569.9 2424.0L572.2 2421.4L574.4 2418.7L576.5 2416.1L578.7 2413.3L580.8 2410.6L582.8 2407.8L584.8 2404.9L586.7 2402.1L588.7 2399.1L590.5 2396.2L592.4 2393.2L594.2 2390.2L595.9 2387.1L597.7 2384.0L599.4 2380.9L601.0 2377.8L602.7 2374.7L604.3 2371.5L605.9 2368.3L607.5 2365.1L609.0 2361.9L610.5 2358.6L612.0 2355.4L613.5 2352.1L614.9 2348.8L616.4 2345.5L617.8 2342.3L619.2 2339.0L620.6 2335.7L622.0 2332.4L623.4 2329.1L624.8 2325.8L626.1 2322.4L627.5 2319.1L628.8 2315.8L630.1 2312.5L631.4 2309.2L632.7 2305.9L634.0 2302.5L635.3 2299.2L636.6 2295.9L637.8 2292.5L639.1 2289.2L640.3 2285.9L641.6 2282.5L642.8 2279.2L644.0 2275.9L645.2 2272.5L646.4 2269.2L647.6 2265.8L648.8 2262.5L650.0 2259.1L651.2 2255.8L652.4 2252.5L653.6 2249.1L654.8 2245.8L655.9 2242.4L657.1 2239.1L658.3 2235.7L659.4 2232.4L660.6 2229.0L661.7 2225.7L662.9 2222.3L664.0 2219.0L665.2 2215.6L666.4 2212.3L667.5 2208.9L668.7 2205.6L669.8 2202.3L671.0 2198.9L672.1 2195.6L673.3 2192.2L674.4 2188.9L675.6 2185.6L676.7 2182.2L677.9 2178.9L679.1 2175.6L680.2 2172.2L681.4 2168.9L682.6 2165.6L683.8 2162.2L684.9 2158.9L686.1 2155.6L687.3 2152.3L688.5 2149.0L689.7 2145.7L690.9 2142.4L692.2 2139.1L693.4 2135.7L694.6 2132.5L695.8 2129.2L697.1 2125.9L698.3 2122.6L699.6 2119.3L700.9 2116.0L702.2 2112.7L703.4 2109.5L704.7 2106.2L706.1 2102.9L707.4 2099.7L708.7 2096.4L710.0 2093.2L711.4 2089.9L712.8 2086.7L714.1 2083.4L715.5 2080.2L716.9 2077.0L718.3 2073.8L719.7 2070.5L721.2 2067.3L722.6 2064.1L724.1 2060.9L725.5 2057.7L727.0 2054.5L728.5 2051.3L730.0 2048.2L731.5 2045.0L733.0 2041.8L734.6 2038.6L736.1 2035.5L737.7 2032.3L739.2 2029.2L740.8 2026.0L742.4 2022.9L744.0 2019.7L745.6 2016.6L747.3 2013.5L748.9 2010.4L750.6 2007.2L752.3 2004.1L753.9 2001.0L755.6 1997.9L757.4 1994.9L759.1 1991.8L760.8 1988.7L762.6 1985.6L764.3 1982.5L766.1 1979.5L767.9 1976.4L769.7 1973.4L771.5 1970.3L773.4 1967.3L775.2 1964.3L777.1 1961.3L778.9 1958.2L780.8 1955.2L782.7 1952.2L784.6 1949.2L786.6 1946.2L788.5 1943.2L790.5 1940.3L792.5 1937.3L794.4 1934.3L796.5 1931.4L798.5 1928.4L800.5 1925.5L802.5 1922.6L804.6 1919.6L806.7 1916.7L808.8 1913.8L810.9 1910.9L813.0 1908.1L815.1 1905.2L817.3 1902.3L819.4 1899.5L821.6 1896.6L823.8 1893.8L826.0 1891.0L828.2 1888.2L830.5 1885.4L832.7 1882.6L835.0 1879.9L837.3 1877.1L839.6 1874.4L841.9 1871.7L844.2 1869.0L846.5 1866.3L848.9 1863.6L851.2 1860.9L853.6 1858.3L856.0 1855.6L858.4 1853.0L860.9 1850.4L863.3 1847.8L865.8 1845.3L868.2 1842.7L870.7 1840.2L873.2 1837.7L875.7 1835.2L878.3 1832.7L880.8 1830.2L883.4 1827.8L885.9 1825.3L888.5 1822.9L891.1 1820.6L893.8 1818.2L896.4 1815.8L899.0 1813.5L901.7 1811.2L904.4 1808.9L907.1 1806.7L909.8 1804.4L912.5 1802.2L915.3 1800.0L918.0 1797.8L920.8 1795.7L923.6 1793.5L926.4 1791.4L929.2 1789.3L932.0 1787.3L934.9 1785.2L937.8 1783.2L940.6 1781.2L943.5 1779.2L946.4 1777.3L949.4 1775.4L952.3 1773.5L955.2 1771.6L958.2 1769.7L961.2 1767.9L964.2 1766.1L967.2 1764.3L970.2 1762.5L973.2 1760.8L976.3 1759.1L979.3 1757.4L982.4 1755.7L985.5 1754.0L988.6 1752.4L991.7 1750.7L994.8 1749.1L997.9 1747.6L1001.0 1746.0L1004.2 1744.5L1007.4 1742.9L1010.5 1741.4L1013.7 1740.0L1016.9 1738.5L1020.1 1737.1L1023.3 1735.6L1026.5 1734.2L1029.8 1732.8L1033.0 1731.5L1036.3 1730.1L1039.5 1728.8L1042.8 1727.5L1046.1 1726.2L1049.4 1724.9L1052.7 1723.7L1056.0 1722.4L1059.3 1721.2L1062.6 1720.0L1065.9 1718.8L1069.3 1717.6L1072.6 1716.5L1076.0 1715.3L1079.4 1714.2L1082.7 1713.1L1086.1 1712.0L1089.5 1711.0L1092.9 1709.9L1096.3 1708.9L1099.7 1707.8L1103.1 1706.8L1106.5 1705.8L1109.9 1704.9L1113.3 1703.9L1116.8 1703.0L1120.2 1702.0L1123.6 1701.1L1127.1 1700.2L1130.5 1699.3L1134.0 1698.4L1137.5 1697.6L1140.9 1696.7L1144.4 1695.9L1147.9 1695.1L1151.3 1694.3L1154.8 1693.5L1158.3 1692.7L1161.8 1691.9L1165.3 1691.2L1168.8 1690.5L1172.3 1689.7L1175.8 1689.0L1179.3 1688.3L1182.8 1687.6L1186.3 1686.9L1189.8 1686.3L1193.3 1685.6L1196.8 1685.0L1200.3 1684.3L1203.8 1683.7L1207.3 1683.1L1210.8 1682.5L1214.3 1681.9L1217.9 1681.3L1221.4 1680.8L1224.9 1680.2L1228.4 1679.7L1231.9 1679.1L1235.4 1678.6L1239.0 1678.1L1242.5 1677.6L1246.0 1677.1L1249.5 1676.6L1253.0 1676.1L1256.5 1675.7L1260.1 1675.2L1263.6 1674.8L1267.1 1674.3L1270.6 1673.9L1274.1 1673.5L1277.7 1673.1L1281.2 1672.7L1284.7 1672.3L1288.2 1671.9L1291.7 1671.5L1295.3 1671.2L1298.8 1670.8L1302.3 1670.5L1305.8 1670.1L1309.3 1669.8L1312.9 1669.5L1316.4 1669.2L1319.9 1668.9L1323.4 1668.6L1326.9 1668.3L1330.5 1668.0L1334.0 1667.7L1337.5 1667.5L1341.0 1667.2L1344.6 1667.0L1348.1 1666.7L1351.6 1666.5L1355.1 1666.3L1358.7 1666.1L1362.2 1665.9L1365.7 1665.7L1369.2 1665.5L1372.8 1665.3L1376.3 1665.1L1379.8 1664.9L1383.3 1664.8L1386.9 1664.6L1390.4 1664.5L1393.9 1664.3L1397.4 1664.2L1401.0 1664.1L1404.5 1664.0L1408.0 1663.8L1411.5 1663.7L1415.1 1663.6L1418.6 1663.5L1422.1 1663.5L1425.7 1663.4L1429.2 1663.3L1432.7 1663.2L1436.2 1663.2L1439.8 1663.1L1443.3 1663.1L1446.8 1663.0L1450.4 1663.0L1453.9 1662.9L1457.4 1662.9L1460.9 1662.9L1464.5 1662.9L1468.0 1662.9L1471.5 1662.9L1475.1 1662.9L1478.6 1662.9L1482.1 1662.9L1485.7 1662.9L1489.2 1662.9L1492.7 1662.9L1496.2 1663.0L1499.8 1663.0L1503.3 1663.0L1506.8 1663.1L1510.4 1663.1L1513.9 1663.2L1517.4 1663.2L1521.0 1663.3L1524.5 1663.4L1528.0 1663.4L1531.6 1663.5L1535.1 1663.6L1538.6 1663.7L1542.2 1663.8L1545.7 1663.9L1549.2 1664.0L1552.8 1664.1L1556.3 1664.2L1559.8 1664.3L1563.4 1664.4L1566.9 1664.5L1570.4 1664.6L1574.0 1664.7L1577.5 1664.9L1581.0 1665.0L1584.6 1665.1L1588.1 1665.2L1591.7 1665.4L1595.2 1665.5L1598.7 1665.7L1602.3 1665.8L1605.8 1666.0L1609.3 1666.1L1612.9 1666.3L1616.4 1666.4L1619.9 1666.6L1623.5 1666.7L1627.0 1666.9L1630.6 1667.1L1634.1 1667.2L1637.6 1667.4L1641.2 1667.6L1644.7 1667.7L1648.2 1667.9L1651.8 1668.1L1655.3 1668.3L1658.9 1668.5L1662.4 1668.6L1665.9 1668.8L1669.5 1669.0L1673.0 1669.2L1676.5 1669.4L1680.1 1669.6L1683.6 1669.8L1687.2 1669.9L1690.7 1670.1L1694.2 1670.3L1697.8 1670.5L1701.3 1670.7L1704.9 1670.9L1708.4 1671.1L1711.9 1671.3L1715.5 1671.5L1719.0 1671.7L1722.6 1671.9L1726.1 1672.1L1729.6 1672.3L1733.2 1672.5L1736.7 1672.7L1740.3 1672.9L1743.8 1673.1L1747.3 1673.3L1750.9 1673.5L1754.4 1673.7L1758.0 1673.9L1761.5 1674.1L1765.0 1674.3L1768.6 1674.5L1772.1 1674.7L1775.7 1674.9L1779.2 1675.0L1782.8 1675.2L1786.3 1675.4L1789.8 1675.6L1793.4 1675.8L1796.9 1676.0L1800.5 1676.2L1804.0 1676.4L1807.6 1676.6L1811.1 1676.7L1814.6 1676.9L1818.2 1677.1L1821.7 1677.3L1825.3 1677.5L1828.8 1677.6L1832.3 1677.8L1835.9 1678.0L1839.4 1678.2L1843.0 1678.3L1846.5 1678.5L1850.1 1678.7L1853.6 1678.8L1857.2 1679.0L1860.7 1679.1L1864.2 1679.3L1867.8 1679.4L1871.3 1679.6L1874.9 1679.7L1878.4 1679.9L1882.0 1680.0L1885.5 1680.2L1889.0 1680.3L1892.6 1680.4L1896.1 1680.6L1899.7 1680.7L1903.2 1680.8L1906.8 1680.9L1910.3 1681.0L1913.9 1681.2L1917.4 1681.3L1920.9 1681.4L1924.5 1681.5L1928.0 1681.6L1931.6 1681.7L1935.1 1681.8L1938.7 1681.8L1942.2 1681.9L1945.8 1682.0L1949.3 1682.1L1952.8 1682.2L1956.4 1682.2L1959.9 1682.3L1963.5 1682.4L1967.0 1682.4L1970.6 1682.5L1974.1 1682.5L1977.7 1682.6L1981.2 1682.7L1984.7 1682.7L1988.3 1682.8L1991.8 1682.8L1995.4 1682.9L1998.9 1682.9L2002.5 1683.0L2006.0 1683.0L2009.5 1683.1L2013.1 1683.1L2016.6 1683.2L2020.2 1683.2L2023.7 1683.3L2027.3 1683.3L2030.8 1683.4L2034.3 1683.4L2037.9 1683.5L2041.4 1683.5L2044.9 1683.6L2048.5 1683.6L2052.0 1683.7L2055.6 1683.8L2059.1 1683.8L2062.6 1683.9L2066.2 1684.0L2069.7 1684.0L2073.2 1684.1L2076.8 1684.2L2080.3 1684.3L2083.8 1684.3L2087.4 1684.4L2090.9 1684.5L2094.4 1684.6L2098.0 1684.7L2101.5 1684.8L2105.0 1684.9L2108.5 1685.0L2112.1 1685.1L2115.6 1685.3L2119.1 1685.4L2122.6 1685.5L2126.2 1685.6L2129.7 1685.8L2133.2 1685.9L2136.7 1686.1L2140.2 1686.2L2143.8 1686.4L2147.3 1686.6L2150.8 1686.7L2154.3 1686.9L2157.8 1687.1L2161.3 1687.3L2164.9 1687.5L2168.4 1687.7L2171.9 1687.9L2175.4 1688.2L2178.9 1688.4L2182.4 1688.6L2185.9 1688.9L2189.4 1689.1L2192.9 1689.4L2196.4 1689.7L2199.9 1690.0L2203.4 1690.3L2206.9 1690.6L2210.4 1690.9L2213.9 1691.2L2217.4 1691.5L2220.9 1691.9L2224.4 1692.2L2227.9 1692.6L2231.4 1692.9L2234.9 1693.3L2238.4 1693.7L2241.9 1694.1L2245.3 1694.5L2248.8 1694.9L2252.3 1695.4L2255.8 1695.8L2259.3 1696.3L2262.7 1696.7L2266.2 1697.2L2269.7 1697.7L2273.2 1698.2L2276.6 1698.7L2280.1 1699.2L2283.6 1699.7L2287.1 1700.2L2290.5 1700.7L2294.0 1701.2L2297.5 1701.7L2301.0 1702.1L2304.5 1702.6L2308.0 1703.0L2311.5 1703.4L2315.0 1703.8L2318.5 1704.1L2322.0 1704.4L2325.5 1704.6L2329.0 1704.8L2332.5 1705.0L2336.1 1705.1L2339.6 1705.2L2343.2 1705.2L2346.7 1705.2L2350.3 1705.1L2353.9 1704.9L2357.5 1704.7L2361.1 1704.4L2364.7 1704.0" stroke="#000000" stroke-width="3.0" fill="none" stroke-linejoin="round" stroke-linecap="butt"/>
<path d="M296.6 2529L317 2486.7L320.4 2487.6L323.7 2488.4L327.1 2489.2L330.5 2489.9L333.9 2490.6L337.4 2491.3L340.8 2491.8L344.3 2492.4L347.7 2492.8L351.2 2493.3L354.7 2493.6L358.2 2494.0L361.7 2494.2L365.2 2494.5L368.7 2494.6L372.2 2494.8L375.8 2494.8L379.3 2494.9L382.8 2494.8L386.4 2494.8L389.9 2494.6L393.5 2494.4L397.0 2494.2L400.5 2493.9L404.1 2493.6L407.6 2493.2L411.1 2492.8L414.6 2492.3L418.1 2491.8L421.6 2491.2L425.1 2490.6L428.6 2489.9L432.1 2489.2L435.6 2488.4L439.0 2487.6L442.5 2486.7L445.9 2485.8L449.3 2484.8L452.7 2483.8L456.1 2482.8L459.4 2481.6L462.8 2480.5L466.1 2479.3L469.4 2478.0L472.7 2476.7L476.0 2475.4L479.2 2473.9L482.4 2472.5L485.6 2471.0L488.8 2469.5L491.9 2467.9L495.0 2466.2L498.1 2464.6L501.2 2462.8L504.2 2461.0L507.2 2459.2L510.1 2457.4L513.1 2455.5L516.0 2453.5L518.8 2451.5L521.6 2449.5L524.4 2447.4L527.2 2445.2L529.9 2443.1L532.5 2440.8L535.2 2438.6L537.7 2436.3L540.3 2433.9L542.8 2431.5L545.2 2429.1L547.6 2426.6L550.0 2424.1L552.3 2421.5L554.6 2418.9L556.8 2416.3L558.9 2413.6L561.1 2410.8L563.1 2408.1L565.1 2405.3L567.1 2402.4L569.0 2399.5L570.8 2396.6L572.6 2393.6L574.3 2390.6L576.0 2387.5L577.7 2384.5L579.3 2381.3L580.8 2378.2L582.3 2375.0L583.8 2371.8L585.2 2368.6L586.6 2365.3L588.0 2362.0L589.3 2358.7L590.6 2355.4L591.8 2352.1L593.0 2348.7L594.3 2345.3L595.4 2341.9L596.6 2338.5L597.7 2335.1L598.8 2331.7L599.9 2328.2L601.0 2324.8L602.1 2321.3L603.2 2317.9L604.2 2314.4L605.2 2310.9L606.3 2307.5L607.3 2304.0L608.3 2300.5L609.4 2297.1L610.4 2293.6L611.4 2290.2L612.4 2286.7L613.5 2283.3L614.5 2279.9L615.6 2276.5L616.6 2273.1L617.7 2269.7L618.8 2266.3L619.9 2263.0L621.0 2259.6L622.1 2256.3L623.2 2252.9L624.4 2249.6L625.5 2246.3L626.7 2243.0L627.8 2239.7L629.0 2236.4L630.2 2233.1L631.4 2229.8L632.5 2226.6L633.7 2223.3L635.0 2220.1L636.2 2216.8L637.4 2213.6L638.6 2210.3L639.8 2207.1L641.1 2203.8L642.3 2200.6L643.6 2197.4L644.8 2194.1L646.1 2190.9L647.4 2187.7L648.6 2184.5L649.9 2181.2L651.2 2178.0L652.5 2174.8L653.8 2171.5L655.1 2168.3L656.4 2165.1L657.7 2161.9L659.0 2158.6L660.3 2155.4L661.6 2152.1L663.0 2148.9L664.3 2145.6L665.6 2142.4L667.0 2139.1L668.3 2135.9L669.6 2132.6L671.0 2129.4L672.3 2126.1L673.7 2122.9L675.1 2119.6L676.4 2116.3L677.8 2113.1L679.2 2109.8L680.6 2106.6L682.0 2103.3L683.3 2100.1L684.7 2096.8L686.2 2093.5L687.6 2090.3L689.0 2087.0L690.4 2083.8L691.8 2080.6L693.3 2077.3L694.7 2074.1L696.2 2070.8L697.6 2067.6L699.1 2064.4L700.6 2061.1L702.0 2057.9L703.5 2054.7L705.0 2051.5L706.5 2048.3L708.0 2045.1L709.5 2041.9L711.1 2038.7L712.6 2035.5L714.1 2032.3L715.7 2029.1L717.2 2026.0L718.8 2022.8L720.4 2019.6L721.9 2016.5L723.5 2013.3L725.1 2010.2L726.7 2007.1L728.3 2003.9L730.0 2000.8L731.6 1997.7L733.2 1994.6L734.9 1991.5L736.6 1988.5L738.2 1985.4L739.9 1982.3L741.6 1979.3L743.3 1976.3L745.1 1973.3L746.9 1970.3L748.7 1967.3L750.5 1964.4L752.4 1961.5L754.4 1958.7L756.4 1955.8L758.4 1953.0L760.5 1950.3L762.7 1947.6L764.9 1944.9L767.1 1942.2L769.3 1939.6L771.6 1936.9L773.8 1934.3L776.1 1931.6L778.3 1928.8L780.5 1926.1L782.7 1923.4L784.9 1920.6L787.1 1917.8L789.2 1915.0L791.4 1912.2L793.6 1909.4L795.7 1906.6L797.9 1903.7L800.1 1900.9L802.2 1898.1L804.4 1895.3L806.6 1892.5L808.8 1889.6L810.9 1886.8L813.1 1884.1L815.4 1881.3L817.6 1878.5L819.8 1875.8L822.1 1873.0L824.4 1870.3L826.7 1867.6L829.0 1865.0L831.3 1862.4L833.7 1859.8L836.1 1857.2L838.5 1854.6L840.9 1852.1L843.4 1849.7L845.9 1847.3L848.5 1844.9L851.1 1842.5L853.7 1840.2L856.3 1838.0L859.0 1835.8L861.8 1833.7L864.5 1831.6L867.4 1829.5L870.2 1827.5L873.1 1825.5L876.0 1823.6L878.9 1821.7L881.9 1819.8L884.8 1817.9L887.8 1816.1L890.8 1814.2L893.7 1812.3L896.7 1810.5L899.6 1808.6L902.6 1806.7L905.5 1804.8L908.5 1802.9L911.4 1801.0L914.4 1799.1L917.3 1797.2L920.3 1795.4L923.2 1793.5L926.2 1791.6L929.2 1789.8L932.2 1788.0L935.3 1786.3L938.4 1784.5L941.4 1782.8L944.6 1781.1L947.7 1779.5L950.8 1777.8L954.0 1776.2L957.2 1774.6L960.4 1773.1L963.6 1771.5L966.8 1770.0L970.0 1768.5L973.3 1767.1L976.5 1765.6L979.8 1764.2L983.1 1762.8L986.4 1761.4L989.6 1760.0L992.9 1758.7L996.3 1757.4L999.6 1756.1L1002.9 1754.8L1006.2 1753.5L1009.5 1752.3L1012.8 1751.0L1016.2 1749.8L1019.5 1748.6L1022.8 1747.4L1026.2 1746.3L1029.5 1745.1L1032.8 1744.0L1036.2 1742.9L1039.5 1741.8L1042.9 1740.8L1046.3 1739.7L1049.6 1738.7L1053.0 1737.6L1056.3 1736.6L1059.7 1735.7L1063.1 1734.7L1066.5 1733.7L1069.9 1732.8L1073.2 1731.9L1076.6 1731.0L1080.0 1730.1L1083.4 1729.2L1086.8 1728.3L1090.2 1727.5L1093.6 1726.7L1097.0 1725.8L1100.4 1725.0L1103.8 1724.3L1107.2 1723.5L1110.6 1722.7L1114.1 1722.0L1117.5 1721.3L1120.9 1720.6L1124.3 1719.9L1127.8 1719.2L1131.2 1718.5L1134.6 1717.9L1138.1 1717.2L1141.5 1716.6L1144.9 1716.0L1148.4 1715.4L1151.8 1714.8L1155.3 1714.2L1158.7 1713.6L1162.2 1713.1L1165.6 1712.6L1169.1 1712.0L1172.6 1711.5L1176.0 1711.0L1179.5 1710.5L1182.9 1710.1L1186.4 1709.6L1189.9 1709.2L1193.4 1708.7L1196.8 1708.3L1200.3 1707.9L1203.8 1707.5L1207.3 1707.1L1210.7 1706.7L1214.2 1706.3L1217.7 1706.0L1221.2 1705.6L1224.7 1705.3L1228.2 1704.9L1231.7 1704.6L1235.2 1704.3L1238.7 1704.0L1242.2 1703.7L1245.7 1703.5L1249.2 1703.2L1252.7 1702.9L1256.2 1702.7L1259.7 1702.4L1263.2 1702.2L1266.7 1702.0L1270.2 1701.8L1273.7 1701.6L1277.2 1701.4L1280.7 1701.2L1284.2 1701.0L1287.8 1700.8L1291.3 1700.7L1294.8 1700.5L1298.3 1700.4L1301.8 1700.2L1305.4 1700.1L1308.9 1700.0L1312.4 1699.9L1315.9 1699.8L1319.5 1699.7L1323.0 1699.6L1326.5 1699.5L1330.0 1699.4L1333.6 1699.3L1337.1 1699.3L1340.6 1699.2L1344.2 1699.2L1347.7 1699.1L1351.2 1699.1L1354.8 1699.1L1358.3 1699.0L1361.8 1699.0L1365.4 1699.0L1368.9 1699.0L1372.4 1699.0L1376.0 1699.0L1379.5 1699.0L1383.0 1699.0L1386.6 1699.0L1390.1 1699.0L1393.6 1699.1L1397.2 1699.1L1400.7 1699.1L1404.3 1699.2L1407.8 1699.2L1411.3 1699.2L1414.9 1699.3L1418.4 1699.4L1422.0 1699.4L1425.5 1699.5L1429.0 1699.5L1432.6 1699.6L1436.1 1699.7L1439.7 1699.8L1443.2 1699.8L1446.7 1699.9L1450.3 1700.0L1453.8 1700.1L1457.4 1700.2L1460.9 1700.3L1464.4 1700.4L1468.0 1700.4L1471.5 1700.5L1475.1 1700.6L1478.6 1700.7L1482.1 1700.8L1485.7 1701.0L1489.2 1701.1L1492.7 1701.2L1496.3 1701.3L1499.8 1701.4L1503.3 1701.5L1506.9 1701.6L1510.4 1701.7L1513.9 1701.8L1517.5 1702.0L1521.0 1702.1L1524.5 1702.2L1528.1 1702.3L1531.6 1702.4L1535.1 1702.6L1538.7 1702.7L1542.2 1702.8L1545.7 1702.9L1549.2 1703.1L1552.8 1703.2L1556.3 1703.3L1559.8 1703.5L1563.4 1703.6L1566.9 1703.8L1570.4 1703.9L1573.9 1704.0L1577.5 1704.2L1581.0 1704.3L1584.5 1704.5L1588.0 1704.6L1591.6 1704.7L1595.1 1704.9L1598.6 1705.0L1602.1 1705.2L1605.7 1705.3L1609.2 1705.5L1612.7 1705.6L1616.2 1705.8L1619.8 1706.0L1623.3 1706.1L1626.8 1706.3L1630.3 1706.4L1633.8 1706.6L1637.4 1706.7L1640.9 1706.9L1644.4 1707.1L1647.9 1707.2L1651.4 1707.4L1655.0 1707.6L1658.5 1707.7L1662.0 1707.9L1665.5 1708.1L1669.0 1708.2L1672.6 1708.4L1676.1 1708.6L1679.6 1708.8L1683.1 1708.9L1686.6 1709.1L1690.1 1709.3L1693.7 1709.5L1697.2 1709.6L1700.7 1709.8L1704.2 1710.0L1707.7 1710.2L1711.2 1710.4L1714.7 1710.5L1718.3 1710.7L1721.8 1710.9L1725.3 1711.1L1728.8 1711.3L1732.3 1711.5L1735.8 1711.7L1739.3 1711.8L1742.9 1712.0L1746.4 1712.2L1749.9 1712.4L1753.4 1712.6L1756.9 1712.8L1760.4 1713.0L1763.9 1713.2L1767.5 1713.4L1771.0 1713.6L1774.5 1713.8L1778.0 1714.0L1781.5 1714.2L1785.0 1714.3L1788.5 1714.5L1792.0 1714.7L1795.5 1714.9L1799.1 1715.1L1802.6 1715.3L1806.1 1715.5L1809.6 1715.7L1813.1 1716.0L1816.6 1716.2L1820.1 1716.4L1823.6 1716.6L1827.1 1716.8L1830.6 1717.0L1834.2 1717.2L1837.7 1717.4L1841.2 1717.6L1844.7 1717.8L1848.2 1718.0L1851.7 1718.2L1855.2 1718.4L1858.7 1718.6L1862.2 1718.8L1865.7 1719.0L1869.2 1719.3L1872.8 1719.5L1876.3 1719.7L1879.8 1719.9L1883.3 1720.1L1886.8 1720.3L1890.3 1720.5L1893.8 1720.7L1897.3 1720.9L1900.8 1721.2L1904.3 1721.4L1907.8 1721.6L1911.3 1721.8L1914.9 1722.0L1918.4 1722.2L1921.9 1722.4L1925.4 1722.6L1928.9 1722.9L1932.4 1723.1L1935.9 1723.3L1939.4 1723.5L1942.9 1723.7L1946.4 1723.9L1949.9 1724.2L1953.4 1724.4L1956.9 1724.6L1960.5 1724.8L1964.0 1725.0L1967.5 1725.2L1971.0 1725.5L1974.5 1725.7L1978.0 1725.9L1981.5 1726.1L1985.0 1726.3L1988.5 1726.5L1992.0 1726.8L1995.5 1727.0L1999.0 1727.2L2002.6 1727.4L2006.1 1727.6L2009.6 1727.8L2013.1 1728.1L2016.6 1728.3L2020.1 1728.5L2023.6 1728.7L2027.1 1728.9L2030.6 1729.1L2034.1 1729.3L2037.6 1729.6L2041.1 1729.8L2044.7 1730.0L2048.2 1730.2L2051.7 1730.4L2055.2 1730.6L2058.7 1730.9L2062.2 1731.1L2065.7 1731.3L2069.2 1731.5L2072.7 1731.7L2076.2 1731.9L2079.8 1732.1L2083.3 1732.4L2086.8 1732.6L2090.3 1732.8L2093.8 1733.0L2097.3 1733.2L2100.8 1733.4L2104.3 1733.6L2107.8 1733.8L2111.4 1734.1L2114.9 1734.3L2118.4 1734.5L2121.9 1734.7L2125.4 1734.9L2128.9 1735.1L2132.4 1735.3L2135.9 1735.5L2139.4 1735.7L2143.0 1735.9L2146.5 1736.1L2150.0 1736.3L2153.5 1736.6L2157.0 1736.8L2160.5 1737.0L2164.0 1737.2L2167.6 1737.4L2171.1 1737.6L2174.6 1737.8L2178.1 1738.0L2181.6 1738.2L2185.1 1738.4L2188.6 1738.6L2192.2 1738.8L2195.7 1739.0L2199.2 1739.2L2202.7 1739.4L2206.2 1739.6L2209.7 1739.8L2213.3 1740.0L2216.8 1740.2L2220.3 1740.4L2223.8 1740.6L2227.3 1740.7L2230.9 1740.9L2234.4 1741.1L2237.9 1741.3L2241.4 1741.5L2244.9 1741.7L2248.4 1741.9L2252.0 1742.1L2255.5 1742.3L2259.0 1742.5L2262.5 1742.6L2266.1 1742.8L2269.6 1743.0L2273.1 1743.2L2276.6 1743.4L2280.1 1743.6L2283.7 1743.7L2287.2 1743.9L2290.7 1744.1L2294.2 1744.3L2297.8 1744.5L2301.3 1744.6L2304.8 1744.8L2308.3 1745.0L2311.9 1745.2L2315.4 1745.3L2318.9 1745.5L2322.4 1745.7L2326.0 1745.8L2329.5 1746.0L2333.0 1746.2L2336.5 1746.3L2340.1 1746.5L2343.6 1746.7L2347.1 1746.8L2350.7 1747.0L2354.2 1747.2L2357.7 1747.3L2361.2 1747.5L2364.8 1747.6" stroke="#00b050" stroke-width="3.0" fill="none" stroke-linejoin="round" stroke-linecap="butt"/>
<path d="M298.2 2591.8L317 2484.3L320.4 2484.8L323.7 2485.3L327.1 2485.7L330.6 2486.2L334.0 2486.5L337.4 2486.9L340.9 2487.2L344.3 2487.5L347.8 2487.8L351.3 2488.0L354.8 2488.2L358.3 2488.3L361.8 2488.4L365.3 2488.5L368.8 2488.6L372.3 2488.5L375.9 2488.5L379.4 2488.4L382.9 2488.3L386.4 2488.1L389.9 2487.9L393.5 2487.6L397.0 2487.3L400.5 2486.9L404.0 2486.5L407.4 2486.1L410.9 2485.5L414.4 2485.0L417.8 2484.4L421.3 2483.7L424.7 2483.0L428.1 2482.2L431.5 2481.4L434.9 2480.5L438.2 2479.5L441.6 2478.5L444.9 2477.5L448.2 2476.3L451.5 2475.1L454.7 2473.9L458.0 2472.6L461.2 2471.2L464.3 2469.8L467.5 2468.3L470.6 2466.7L473.7 2465.1L476.8 2463.5L479.8 2461.8L482.8 2460.0L485.8 2458.2L488.7 2456.3L491.6 2454.4L494.5 2452.4L497.3 2450.4L500.1 2448.3L502.8 2446.2L505.5 2444.0L508.2 2441.8L510.8 2439.5L513.4 2437.2L516.0 2434.8L518.5 2432.4L521.0 2429.9L523.4 2427.4L525.7 2424.9L528.1 2422.3L530.3 2419.7L532.5 2417.1L534.7 2414.4L536.8 2411.6L538.9 2408.9L540.9 2406.1L542.9 2403.2L544.8 2400.3L546.7 2397.4L548.5 2394.5L550.2 2391.5L551.9 2388.5L553.6 2385.5L555.2 2382.4L556.7 2379.3L558.2 2376.2L559.7 2373.0L561.1 2369.9L562.5 2366.7L563.9 2363.5L565.2 2360.3L566.5 2357.0L567.8 2353.7L569.0 2350.5L570.2 2347.2L571.4 2343.9L572.6 2340.5L573.7 2337.2L574.9 2333.9L576.0 2330.5L577.1 2327.1L578.1 2323.8L579.2 2320.4L580.3 2317.0L581.3 2313.6L582.3 2310.2L583.4 2306.9L584.4 2303.5L585.4 2300.1L586.5 2296.7L587.5 2293.3L588.6 2289.9L589.6 2286.6L590.7 2283.2L591.7 2279.9L592.8 2276.5L593.9 2273.2L595.0 2269.9L596.2 2266.6L597.3 2263.2L598.4 2259.9L599.6 2256.7L600.7 2253.4L601.9 2250.1L603.1 2246.8L604.3 2243.6L605.5 2240.3L606.7 2237.1L607.9 2233.8L609.2 2230.6L610.4 2227.4L611.7 2224.1L612.9 2220.9L614.2 2217.7L615.5 2214.5L616.7 2211.3L618.0 2208.1L619.3 2204.9L620.6 2201.6L621.9 2198.4L623.2 2195.2L624.5 2192.1L625.8 2188.9L627.2 2185.7L628.5 2182.5L629.8 2179.3L631.2 2176.1L632.5 2172.9L633.8 2169.7L635.2 2166.5L636.5 2163.3L637.9 2160.1L639.2 2156.9L640.6 2153.7L641.9 2150.5L643.3 2147.3L644.6 2144.1L646.0 2140.9L647.4 2137.7L648.7 2134.4L650.1 2131.2L651.5 2128.0L652.9 2124.8L654.3 2121.6L655.7 2118.4L657.0 2115.2L658.4 2112.0L659.9 2108.8L661.3 2105.6L662.7 2102.4L664.1 2099.2L665.5 2096.0L667.0 2092.8L668.4 2089.6L669.9 2086.4L671.3 2083.2L672.8 2080.1L674.3 2076.9L675.8 2073.7L677.3 2070.5L678.8 2067.4L680.3 2064.2L681.8 2061.1L683.3 2057.9L684.9 2054.8L686.4 2051.6L688.0 2048.5L689.5 2045.4L691.1 2042.2L692.7 2039.1L694.3 2036.0L695.9 2032.9L697.5 2029.8L699.2 2026.8L700.8 2023.7L702.5 2020.6L704.2 2017.5L705.8 2014.5L707.5 2011.4L709.3 2008.4L711.0 2005.4L712.7 2002.4L714.5 1999.4L716.2 1996.4L718.0 1993.4L719.8 1990.4L721.6 1987.4L723.5 1984.5L725.3 1981.5L727.2 1978.6L729.1 1975.7L731.0 1972.8L732.9 1969.9L734.9 1967.1L736.8 1964.2L738.8 1961.4L740.9 1958.6L742.9 1955.8L745.0 1953.1L747.1 1950.3L749.3 1947.6L751.5 1944.9L753.7 1942.3L755.9 1939.6L758.2 1937.0L760.5 1934.4L762.8 1931.9L765.1 1929.3L767.5 1926.8L769.9 1924.2L772.2 1921.7L774.6 1919.2L777.1 1916.8L779.5 1914.3L781.9 1911.8L784.4 1909.4L786.8 1907.0L789.3 1904.5L791.8 1902.1L794.3 1899.7L796.8 1897.3L799.3 1894.9L801.8 1892.5L804.4 1890.1L806.9 1887.8L809.5 1885.4L812.0 1883.0L814.6 1880.7L817.2 1878.3L819.8 1875.9L822.4 1873.6L825.0 1871.3L827.6 1868.9L830.3 1866.6L832.9 1864.3L835.5 1862.0L838.2 1859.7L840.9 1857.4L843.6 1855.2L846.3 1852.9L849.0 1850.7L851.7 1848.5L854.4 1846.3L857.2 1844.1L860.0 1841.9L862.7 1839.8L865.5 1837.6L868.3 1835.5L871.2 1833.5L874.0 1831.4L876.9 1829.4L879.7 1827.4L882.6 1825.4L885.5 1823.5L888.4 1821.5L891.4 1819.6L894.3 1817.8L897.3 1815.9L900.3 1814.1L903.3 1812.4L906.3 1810.6L909.4 1808.9L912.4 1807.3L915.5 1805.6L918.6 1804.0L921.7 1802.4L924.8 1800.9L928.0 1799.4L931.1 1797.9L934.3 1796.4L937.5 1795.0L940.7 1793.6L943.9 1792.2L947.1 1790.8L950.3 1789.5L953.6 1788.2L956.8 1786.9L960.1 1785.6L963.4 1784.4L966.6 1783.2L969.9 1782.0L973.2 1780.8L976.5 1779.6L979.8 1778.5L983.1 1777.4L986.5 1776.3L989.8 1775.2L993.1 1774.1L996.5 1773.0L999.8 1772.0L1003.1 1770.9L1006.5 1769.9L1009.8 1768.9L1013.2 1767.9L1016.5 1766.9L1019.9 1765.9L1023.2 1765.0L1026.6 1764.0L1029.9 1763.1L1033.3 1762.2L1036.7 1761.3L1040.0 1760.4L1043.4 1759.5L1046.8 1758.6L1050.1 1757.8L1053.5 1756.9L1056.9 1756.1L1060.3 1755.2L1063.7 1754.4L1067.0 1753.6L1070.4 1752.8L1073.8 1752.1L1077.2 1751.3L1080.6 1750.5L1084.0 1749.8L1087.4 1749.1L1090.8 1748.3L1094.2 1747.6L1097.6 1746.9L1101.0 1746.2L1104.4 1745.6L1107.8 1744.9L1111.2 1744.2L1114.7 1743.6L1118.1 1743.0L1121.5 1742.3L1124.9 1741.7L1128.3 1741.1L1131.8 1740.5L1135.2 1740.0L1138.6 1739.4L1142.0 1738.8L1145.5 1738.3L1148.9 1737.7L1152.3 1737.2L1155.8 1736.7L1159.2 1736.1L1162.6 1735.6L1166.1 1735.1L1169.5 1734.7L1173.0 1734.2L1176.4 1733.7L1179.9 1733.3L1183.3 1732.8L1186.8 1732.4L1190.2 1731.9L1193.7 1731.5L1197.1 1731.1L1200.6 1730.7L1204.0 1730.3L1207.5 1729.9L1210.9 1729.5L1214.4 1729.2L1217.9 1728.8L1221.3 1728.4L1224.8 1728.1L1228.3 1727.8L1231.7 1727.4L1235.2 1727.1L1238.7 1726.8L1242.1 1726.5L1245.6 1726.2L1249.1 1725.9L1252.6 1725.6L1256.0 1725.3L1259.5 1725.1L1263.0 1724.8L1266.5 1724.5L1269.9 1724.3L1273.4 1724.1L1276.9 1723.8L1280.4 1723.6L1283.9 1723.4L1287.4 1723.2L1290.8 1723.0L1294.3 1722.8L1297.8 1722.6L1301.3 1722.4L1304.8 1722.2L1308.3 1722.0L1311.8 1721.8L1315.3 1721.7L1318.7 1721.5L1322.2 1721.4L1325.7 1721.2L1329.2 1721.1L1332.7 1721.0L1336.2 1720.8L1339.7 1720.7L1343.2 1720.6L1346.7 1720.5L1350.2 1720.4L1353.7 1720.3L1357.2 1720.2L1360.7 1720.1L1364.2 1720.0L1367.7 1719.9L1371.2 1719.8L1374.7 1719.8L1378.2 1719.7L1381.7 1719.6L1385.2 1719.6L1388.7 1719.5L1392.2 1719.5L1395.7 1719.4L1399.2 1719.4L1402.7 1719.4L1406.2 1719.3L1409.7 1719.3L1413.2 1719.3L1416.7 1719.3L1420.2 1719.2L1423.7 1719.2L1427.2 1719.2L1430.7 1719.2L1434.2 1719.2L1437.7 1719.2L1441.2 1719.2L1444.7 1719.2L1448.2 1719.2L1451.7 1719.3L1455.2 1719.3L1458.7 1719.3L1462.2 1719.3L1465.7 1719.3L1469.2 1719.4L1472.7 1719.4L1476.2 1719.4L1479.7 1719.5L1483.2 1719.5L1486.7 1719.5L1490.2 1719.6L1493.7 1719.6L1497.2 1719.7L1500.7 1719.7L1504.2 1719.8L1507.7 1719.8L1511.2 1719.9L1514.7 1719.9L1518.2 1720.0L1521.7 1720.1L1525.1 1720.1L1528.6 1720.2L1532.1 1720.3L1535.6 1720.3L1539.1 1720.4L1542.6 1720.5L1546.1 1720.5L1549.6 1720.6L1553.1 1720.7L1556.6 1720.8L1560.1 1720.9L1563.6 1721.0L1567.1 1721.0L1570.6 1721.1L1574.1 1721.2L1577.5 1721.3L1581.0 1721.4L1584.5 1721.5L1588.0 1721.6L1591.5 1721.7L1595.0 1721.8L1598.5 1721.9L1602.0 1722.0L1605.5 1722.1L1608.9 1722.3L1612.4 1722.4L1615.9 1722.5L1619.4 1722.6L1622.9 1722.7L1626.4 1722.8L1629.9 1722.9L1633.4 1723.1L1636.9 1723.2L1640.3 1723.3L1643.8 1723.4L1647.3 1723.6L1650.8 1723.7L1654.3 1723.8L1657.8 1724.0L1661.3 1724.1L1664.7 1724.2L1668.2 1724.4L1671.7 1724.5L1675.2 1724.7L1678.7 1724.8L1682.2 1724.9L1685.6 1725.1L1689.1 1725.2L1692.6 1725.4L1696.1 1725.5L1699.6 1725.7L1703.1 1725.8L1706.5 1726.0L1710.0 1726.1L1713.5 1726.3L1717.0 1726.4L1720.5 1726.6L1724.0 1726.8L1727.4 1726.9L1730.9 1727.1L1734.4 1727.2L1737.9 1727.4L1741.4 1727.6L1744.9 1727.7L1748.3 1727.9L1751.8 1728.1L1755.3 1728.2L1758.8 1728.4L1762.3 1728.6L1765.7 1728.7L1769.2 1728.9L1772.7 1729.1L1776.2 1729.3L1779.7 1729.4L1783.1 1729.6L1786.6 1729.8L1790.1 1730.0L1793.6 1730.1L1797.1 1730.3L1800.5 1730.5L1804.0 1730.7L1807.5 1730.9L1811.0 1731.0L1814.5 1731.2L1817.9 1731.4L1821.4 1731.6L1824.9 1731.8L1828.4 1732.0L1831.9 1732.2L1835.3 1732.3L1838.8 1732.5L1842.3 1732.7L1845.8 1732.9L1849.3 1733.1L1852.7 1733.3L1856.2 1733.5L1859.7 1733.7L1863.2 1733.9L1866.6 1734.1L1870.1 1734.3L1873.6 1734.4L1877.1 1734.6L1880.6 1734.8L1884.0 1735.0L1887.5 1735.2L1891.0 1735.4L1894.5 1735.6L1897.9 1735.8L1901.4 1736.0L1904.9 1736.2L1908.4 1736.4L1911.9 1736.6L1915.3 1736.8L1918.8 1737.0L1922.3 1737.2L1925.8 1737.4L1929.2 1737.6L1932.7 1737.8L1936.2 1738.0L1939.7 1738.2L1943.2 1738.4L1946.6 1738.6L1950.1 1738.8L1953.6 1739.0L1957.1 1739.2L1960.6 1739.4L1964.0 1739.6L1967.5 1739.8L1971.0 1740.0L1974.5 1740.2L1977.9 1740.4L1981.4 1740.6L1984.9 1740.8L1988.4 1741.0L1991.9 1741.2L1995.3 1741.4L1998.8 1741.6L2002.3 1741.8L2005.8 1742.0L2009.2 1742.2L2012.7 1742.4L2016.2 1742.6L2019.7 1742.8L2023.2 1743.0L2026.6 1743.2L2030.1 1743.4L2033.6 1743.6L2037.1 1743.8L2040.6 1744.0L2044.0 1744.2L2047.5 1744.4L2051.0 1744.6L2054.5 1744.8L2057.9 1745.0L2061.4 1745.2L2064.9 1745.4L2068.4 1745.6L2071.9 1745.8L2075.3 1746.0L2078.8 1746.2L2082.3 1746.3L2085.8 1746.5L2089.3 1746.7L2092.7 1746.9L2096.2 1747.1L2099.7 1747.3L2103.2 1747.5L2106.7 1747.7L2110.2 1747.9L2113.6 1748.1L2117.1 1748.2L2120.6 1748.4L2124.1 1748.6L2127.6 1748.8L2131.0 1749.0L2134.5 1749.2L2138.0 1749.3L2141.5 1749.5L2145.0 1749.7L2148.5 1749.9L2151.9 1750.1L2155.4 1750.2L2158.9 1750.4L2162.4 1750.6L2165.9 1750.8L2169.3 1751.0L2172.8 1751.1L2176.3 1751.3L2179.8 1751.5L2183.3 1751.6L2186.8 1751.8L2190.3 1752.0L2193.7 1752.2L2197.2 1752.3L2200.7 1752.5L2204.2 1752.6L2207.7 1752.8L2211.2 1753.0L2214.7 1753.1L2218.1 1753.3L2221.6 1753.5L2225.1 1753.6L2228.6 1753.8L2232.1 1753.9L2235.6 1754.1L2239.1 1754.2L2242.5 1754.4L2246.0 1754.5L2249.5 1754.7L2253.0 1754.8L2256.5 1755.0L2260.0 1755.1L2263.5 1755.3L2267.0 1755.4L2270.5 1755.6L2273.9 1755.7L2277.4 1755.8L2280.9 1756.0L2284.4 1756.1L2287.9 1756.2L2291.4 1756.4L2294.9 1756.5L2298.4 1756.6L2301.9 1756.8L2305.4 1756.9L2308.8 1757.0L2312.3 1757.1L2315.8 1757.3L2319.3 1757.4L2322.8 1757.5L2326.3 1757.6L2329.8 1757.7L2333.3 1757.8L2336.8 1758.0L2340.3 1758.1L2343.8 1758.2L2347.3 1758.3L2350.8 1758.4L2354.3 1758.5L2357.8 1758.6L2361.3 1758.7L2364.8 1758.8" stroke="#b0008c" stroke-width="3.0" fill="none" stroke-linejoin="round" stroke-linecap="butt"/>
<path d="M297.4 2551.8L315.5 2478.1L318.7 2478.7L321.9 2479.2L325.1 2479.7L328.4 2480.2L331.7 2480.6L335.0 2481.0L338.4 2481.4L341.8 2481.7L345.2 2482.0L348.7 2482.3L352.2 2482.6L355.7 2482.8L359.2 2482.9L362.7 2483.0L366.3 2483.1L369.8 2483.1L373.4 2483.1L377.0 2483.1L380.6 2483.0L384.2 2482.8L387.8 2482.6L391.4 2482.4L395.0 2482.1L398.6 2481.7L402.2 2481.3L405.8 2480.9L409.3 2480.4L412.9 2479.8L416.5 2479.2L420.0 2478.5L423.6 2477.8L427.1 2477.0L430.6 2476.1L434.1 2475.2L437.5 2474.2L441.0 2473.1L444.4 2472.0L447.7 2470.8L451.0 2469.6L454.3 2468.3L457.6 2466.9L460.8 2465.5L463.9 2464.0L467.0 2462.4L470.0 2460.8L473.0 2459.1L475.9 2457.3L478.8 2455.5L481.6 2453.6L484.3 2451.6L487.0 2449.5L489.6 2447.4L492.1 2445.3L494.6 2443.0L497.0 2440.7L499.4 2438.4L501.7 2436.0L503.9 2433.5L506.1 2431.0L508.2 2428.4L510.3 2425.8L512.4 2423.2L514.3 2420.4L516.3 2417.7L518.2 2414.9L520.0 2412.1L521.9 2409.2L523.6 2406.3L525.4 2403.3L527.0 2400.3L528.7 2397.3L530.3 2394.3L531.9 2391.2L533.5 2388.1L535.0 2385.0L536.5 2381.8L538.0 2378.6L539.4 2375.4L540.9 2372.2L542.3 2369.0L543.6 2365.8L545.0 2362.5L546.3 2359.2L547.7 2356.0L549.0 2352.7L550.3 2349.4L551.6 2346.1L552.8 2342.8L554.1 2339.5L555.4 2336.2L556.6 2332.9L557.8 2329.6L559.1 2326.3L560.3 2323.0L561.5 2319.7L562.7 2316.4L564.0 2313.1L565.2 2309.8L566.4 2306.5L567.5 2303.2L568.7 2299.9L569.9 2296.7L571.1 2293.4L572.3 2290.1L573.4 2286.8L574.6 2283.5L575.8 2280.2L576.9 2276.9L578.1 2273.6L579.2 2270.3L580.4 2267.1L581.5 2263.8L582.7 2260.5L583.8 2257.2L585.0 2253.9L586.1 2250.7L587.3 2247.4L588.4 2244.1L589.6 2240.8L590.7 2237.6L591.9 2234.3L593.0 2231.0L594.2 2227.8L595.3 2224.5L596.5 2221.2L597.6 2218.0L598.8 2214.7L599.9 2211.5L601.1 2208.2L602.2 2205.0L603.4 2201.7L604.6 2198.5L605.8 2195.2L606.9 2192.0L608.1 2188.7L609.3 2185.5L610.5 2182.3L611.7 2179.0L612.9 2175.8L614.1 2172.6L615.3 2169.3L616.5 2166.1L617.8 2162.9L619.0 2159.7L620.2 2156.4L621.5 2153.2L622.7 2150.0L624.0 2146.8L625.3 2143.6L626.6 2140.4L627.9 2137.2L629.2 2134.0L630.5 2130.8L631.8 2127.6L633.1 2124.4L634.5 2121.2L635.8 2118.0L637.2 2114.9L638.5 2111.7L639.9 2108.5L641.3 2105.3L642.7 2102.2L644.1 2099.0L645.6 2095.8L647.0 2092.7L648.5 2089.5L649.9 2086.4L651.4 2083.2L652.9 2080.1L654.4 2077.0L655.9 2073.8L657.5 2070.7L659.0 2067.6L660.6 2064.5L662.2 2061.4L663.7 2058.3L665.3 2055.2L667.0 2052.1L668.6 2049.0L670.2 2045.9L671.9 2042.9L673.6 2039.8L675.3 2036.8L677.0 2033.7L678.7 2030.7L680.4 2027.7L682.2 2024.6L683.9 2021.6L685.7 2018.6L687.5 2015.6L689.3 2012.7L691.1 2009.7L693.0 2006.7L694.8 2003.8L696.7 2000.8L698.6 1997.9L700.5 1995.0L702.4 1992.1L704.4 1989.2L706.3 1986.3L708.3 1983.4L710.3 1980.6L712.3 1977.7L714.3 1974.9L716.4 1972.1L718.4 1969.3L720.5 1966.5L722.6 1963.7L724.7 1960.9L726.8 1958.2L729.0 1955.4L731.2 1952.7L733.3 1950.0L735.5 1947.3L737.8 1944.6L740.0 1942.0L742.3 1939.3L744.5 1936.7L746.8 1934.1L749.1 1931.4L751.5 1928.9L753.8 1926.3L756.2 1923.7L758.6 1921.2L761.0 1918.7L763.4 1916.2L765.8 1913.7L768.3 1911.2L770.7 1908.8L773.2 1906.4L775.7 1903.9L778.3 1901.5L780.8 1899.2L783.3 1896.8L785.9 1894.5L788.5 1892.2L791.1 1889.9L793.7 1887.6L796.4 1885.3L799.0 1883.1L801.7 1880.9L804.4 1878.7L807.1 1876.5L809.8 1874.3L812.5 1872.2L815.3 1870.1L818.0 1868.0L820.8 1865.9L823.6 1863.9L826.4 1861.8L829.2 1859.8L832.1 1857.9L834.9 1855.9L837.8 1854.0L840.7 1852.0L843.6 1850.1L846.5 1848.3L849.4 1846.4L852.4 1844.6L855.3 1842.8L858.3 1841.0L861.3 1839.3L864.3 1837.6L867.3 1835.9L870.4 1834.2L873.4 1832.6L876.5 1830.9L879.5 1829.3L882.6 1827.7L885.7 1826.2L888.8 1824.6L891.9 1823.1L895.1 1821.6L898.2 1820.2L901.4 1818.7L904.5 1817.3L907.7 1815.9L910.9 1814.5L914.1 1813.1L917.3 1811.8L920.5 1810.4L923.7 1809.1L927.0 1807.8L930.2 1806.6L933.5 1805.3L936.7 1804.1L940.0 1802.9L943.2 1801.7L946.5 1800.5L949.8 1799.3L953.1 1798.2L956.4 1797.0L959.7 1795.9L963.0 1794.8L966.3 1793.7L969.6 1792.7L973.0 1791.6L976.3 1790.6L979.6 1789.6L983.0 1788.6L986.3 1787.6L989.6 1786.6L993.0 1785.6L996.3 1784.7L999.7 1783.7L1003.1 1782.8L1006.4 1781.9L1009.8 1781.0L1013.1 1780.1L1016.5 1779.2L1019.9 1778.4L1023.2 1777.5L1026.6 1776.7L1030.0 1775.9L1033.3 1775.1L1036.7 1774.3L1040.1 1773.5L1043.5 1772.7L1046.9 1771.9L1050.2 1771.2L1053.6 1770.5L1057.0 1769.7L1060.4 1769.0L1063.8 1768.3L1067.2 1767.6L1070.6 1766.9L1074.0 1766.3L1077.4 1765.6L1080.8 1765.0L1084.2 1764.3L1087.6 1763.7L1091.0 1763.1L1094.4 1762.5L1097.8 1761.9L1101.2 1761.3L1104.7 1760.7L1108.1 1760.2L1111.5 1759.6L1114.9 1759.1L1118.3 1758.5L1121.7 1758.0L1125.2 1757.5L1128.6 1757.0L1132.0 1756.5L1135.4 1756.0L1138.9 1755.5L1142.3 1755.1L1145.7 1754.6L1149.2 1754.2L1152.6 1753.7L1156.0 1753.3L1159.5 1752.9L1162.9 1752.5L1166.4 1752.1L1169.8 1751.7L1173.3 1751.3L1176.7 1750.9L1180.1 1750.6L1183.6 1750.2L1187.0 1749.9L1190.5 1749.5L1193.9 1749.2L1197.4 1748.9L1200.8 1748.6L1204.3 1748.3L1207.8 1748.0L1211.2 1747.7L1214.7 1747.4L1218.1 1747.1L1221.6 1746.9L1225.1 1746.6L1228.5 1746.3L1232.0 1746.1L1235.4 1745.9L1238.9 1745.6L1242.4 1745.4L1245.8 1745.2L1249.3 1745.0L1252.8 1744.8L1256.2 1744.6L1259.7 1744.4L1263.2 1744.2L1266.7 1744.0L1270.1 1743.9L1273.6 1743.7L1277.1 1743.5L1280.6 1743.4L1284.0 1743.2L1287.5 1743.1L1291.0 1743.0L1294.5 1742.8L1297.9 1742.7L1301.4 1742.6L1304.9 1742.5L1308.4 1742.4L1311.9 1742.3L1315.4 1742.2L1318.8 1742.1L1322.3 1742.0L1325.8 1741.9L1329.3 1741.9L1332.8 1741.8L1336.3 1741.7L1339.7 1741.7L1343.2 1741.6L1346.7 1741.6L1350.2 1741.5L1353.7 1741.5L1357.2 1741.4L1360.7 1741.4L1364.1 1741.4L1367.6 1741.3L1371.1 1741.3L1374.6 1741.3L1378.1 1741.3L1381.6 1741.3L1385.1 1741.3L1388.6 1741.3L1392.1 1741.3L1395.5 1741.3L1399.0 1741.3L1402.5 1741.3L1406.0 1741.3L1409.5 1741.3L1413.0 1741.3L1416.5 1741.4L1420.0 1741.4L1423.5 1741.4L1427.0 1741.4L1430.4 1741.5L1433.9 1741.5L1437.4 1741.6L1440.9 1741.6L1444.4 1741.6L1447.9 1741.7L1451.4 1741.7L1454.9 1741.8L1458.4 1741.8L1461.8 1741.9L1465.3 1741.9L1468.8 1742.0L1472.3 1742.0L1475.8 1742.1L1479.3 1742.2L1482.8 1742.2L1486.3 1742.3L1489.7 1742.4L1493.2 1742.4L1496.7 1742.5L1500.2 1742.6L1503.7 1742.6L1507.2 1742.7L1510.7 1742.8L1514.1 1742.8L1517.6 1742.9L1521.1 1743.0L1524.6 1743.1L1528.1 1743.1L1531.6 1743.2L1535.0 1743.3L1538.5 1743.4L1542.0 1743.5L1545.5 1743.5L1549.0 1743.6L1552.4 1743.7L1555.9 1743.8L1559.4 1743.9L1562.9 1744.0L1566.4 1744.1L1569.8 1744.1L1573.3 1744.2L1576.8 1744.3L1580.3 1744.4L1583.8 1744.5L1587.2 1744.6L1590.7 1744.7L1594.2 1744.8L1597.7 1744.9L1601.2 1745.0L1604.6 1745.1L1608.1 1745.2L1611.6 1745.3L1615.1 1745.4L1618.5 1745.5L1622.0 1745.6L1625.5 1745.7L1629.0 1745.8L1632.4 1745.9L1635.9 1746.1L1639.4 1746.2L1642.9 1746.3L1646.3 1746.4L1649.8 1746.5L1653.3 1746.6L1656.8 1746.7L1660.2 1746.8L1663.7 1747.0L1667.2 1747.1L1670.6 1747.2L1674.1 1747.3L1677.6 1747.4L1681.1 1747.6L1684.5 1747.7L1688.0 1747.8L1691.5 1747.9L1695.0 1748.0L1698.4 1748.2L1701.9 1748.3L1705.4 1748.4L1708.8 1748.6L1712.3 1748.7L1715.8 1748.8L1719.2 1748.9L1722.7 1749.1L1726.2 1749.2L1729.7 1749.3L1733.1 1749.5L1736.6 1749.6L1740.1 1749.7L1743.5 1749.9L1747.0 1750.0L1750.5 1750.1L1753.9 1750.3L1757.4 1750.4L1760.9 1750.5L1764.4 1750.7L1767.8 1750.8L1771.3 1751.0L1774.8 1751.1L1778.2 1751.3L1781.7 1751.4L1785.2 1751.5L1788.6 1751.7L1792.1 1751.8L1795.6 1752.0L1799.0 1752.1L1802.5 1752.3L1806.0 1752.4L1809.4 1752.6L1812.9 1752.7L1816.4 1752.8L1819.8 1753.0L1823.3 1753.1L1826.8 1753.3L1830.2 1753.4L1833.7 1753.6L1837.2 1753.7L1840.6 1753.9L1844.1 1754.1L1847.6 1754.2L1851.0 1754.4L1854.5 1754.5L1858.0 1754.7L1861.4 1754.8L1864.9 1755.0L1868.4 1755.1L1871.8 1755.3L1875.3 1755.4L1878.8 1755.6L1882.2 1755.8L1885.7 1755.9L1889.2 1756.1L1892.6 1756.2L1896.1 1756.4L1899.6 1756.6L1903.0 1756.7L1906.5 1756.9L1909.9 1757.0L1913.4 1757.2L1916.9 1757.4L1920.3 1757.5L1923.8 1757.7L1927.3 1757.8L1930.7 1758.0L1934.2 1758.2L1937.7 1758.3L1941.1 1758.5L1944.6 1758.7L1948.1 1758.8L1951.5 1759.0L1955.0 1759.2L1958.5 1759.3L1961.9 1759.5L1965.4 1759.7L1968.9 1759.8L1972.3 1760.0L1975.8 1760.2L1979.3 1760.3L1982.7 1760.5L1986.2 1760.7L1989.7 1760.8L1993.1 1761.0L1996.6 1761.2L2000.1 1761.3L2003.5 1761.5L2007.0 1761.7L2010.5 1761.8L2013.9 1762.0L2017.4 1762.2L2020.9 1762.3L2024.3 1762.5L2027.8 1762.7L2031.3 1762.9L2034.7 1763.0L2038.2 1763.2L2041.7 1763.4L2045.1 1763.5L2048.6 1763.7L2052.1 1763.9L2055.5 1764.0L2059.0 1764.2L2062.5 1764.4L2065.9 1764.6L2069.4 1764.7L2072.9 1764.9L2076.3 1765.1L2079.8 1765.2L2083.3 1765.4L2086.7 1765.6L2090.2 1765.8L2093.7 1765.9L2097.1 1766.1L2100.6 1766.3L2104.1 1766.4L2107.5 1766.6L2111.0 1766.8L2114.5 1766.9L2117.9 1767.1L2121.4 1767.3L2124.9 1767.5L2128.4 1767.6L2131.8 1767.8L2135.3 1768.0L2138.8 1768.1L2142.2 1768.3L2145.7 1768.5L2149.2 1768.7L2152.7 1768.8L2156.1 1769.0L2159.6 1769.2L2163.1 1769.3L2166.5 1769.5L2170.0 1769.7L2173.5 1769.8L2177.0 1770.0L2180.4 1770.2L2183.9 1770.3L2187.4 1770.5L2190.8 1770.7L2194.3 1770.8L2197.8 1771.0L2201.3 1771.2L2204.7 1771.4L2208.2 1771.5L2211.7 1771.7L2215.2 1771.9L2218.6 1772.0L2222.1 1772.2L2225.6 1772.3L2229.1 1772.5L2232.5 1772.7L2236.0 1772.8L2239.5 1773.0L2243.0 1773.2L2246.4 1773.3L2249.9 1773.5L2253.4 1773.7L2256.9 1773.8L2260.3 1774.0L2263.8 1774.2L2267.3 1774.3L2270.8 1774.5L2274.2 1774.6L2277.7 1774.8L2281.2 1775.0L2284.7 1775.1L2288.2 1775.3L2291.6 1775.4L2295.1 1775.6L2298.6 1775.8L2302.1 1775.9L2305.6 1776.1L2309.0 1776.2L2312.5 1776.4L2316.0 1776.5L2319.5 1776.7L2323.0 1776.9L2326.5 1777.0L2329.9 1777.2L2333.4 1777.3L2336.9 1777.5L2340.4 1777.6L2343.9 1777.8L2347.4 1777.9L2350.8 1778.1L2354.3 1778.2L2357.8 1778.4L2361.3 1778.5L2364.8 1778.7" stroke="#ffc000" stroke-width="3.0" fill="none" stroke-linejoin="round" stroke-linecap="butt"/>
<path d="M296.6 2505.5L313.9 2471.8L317.2 2472.6L320.5 2473.4L323.9 2474.1L327.2 2474.7L330.6 2475.4L334.0 2475.9L337.5 2476.4L340.9 2476.9L344.4 2477.3L347.9 2477.7L351.4 2478.0L354.9 2478.3L358.5 2478.5L362.0 2478.6L365.5 2478.7L369.1 2478.8L372.6 2478.7L376.2 2478.7L379.7 2478.6L383.3 2478.4L386.8 2478.1L390.4 2477.9L393.9 2477.5L397.4 2477.1L401.0 2476.6L404.5 2476.1L407.9 2475.5L411.4 2474.9L414.9 2474.2L418.3 2473.4L421.7 2472.6L425.1 2471.7L428.4 2470.7L431.8 2469.7L435.1 2468.6L438.4 2467.5L441.6 2466.3L444.8 2465.0L448.0 2463.7L451.1 2462.3L454.2 2460.8L457.3 2459.3L460.3 2457.7L463.2 2456.0L466.2 2454.2L469.0 2452.4L471.8 2450.6L474.6 2448.6L477.3 2446.6L480.0 2444.5L482.6 2442.4L485.2 2440.2L487.7 2437.9L490.2 2435.6L492.6 2433.2L495.0 2430.8L497.3 2428.3L499.6 2425.7L501.8 2423.1L503.9 2420.5L506.1 2417.8L508.1 2415.1L510.2 2412.3L512.2 2409.5L514.1 2406.6L516.0 2403.8L517.8 2400.8L519.6 2397.9L521.4 2394.9L523.1 2391.9L524.7 2388.8L526.3 2385.7L527.9 2382.6L529.4 2379.5L530.9 2376.4L532.4 2373.2L533.8 2370.0L535.1 2366.8L536.5 2363.6L537.8 2360.3L539.1 2357.1L540.3 2353.8L541.6 2350.5L542.8 2347.2L543.9 2343.9L545.1 2340.6L546.2 2337.2L547.4 2333.9L548.5 2330.5L549.5 2327.2L550.6 2323.8L551.7 2320.4L552.7 2317.0L553.8 2313.7L554.8 2310.3L555.9 2306.9L556.9 2303.5L557.9 2300.1L559.0 2296.7L560.0 2293.4L561.1 2290.0L562.1 2286.6L563.2 2283.3L564.2 2279.9L565.3 2276.6L566.4 2273.3L567.5 2269.9L568.6 2266.6L569.7 2263.3L570.8 2260.0L572.0 2256.7L573.1 2253.4L574.3 2250.2L575.5 2246.9L576.7 2243.6L577.8 2240.4L579.0 2237.1L580.2 2233.9L581.5 2230.6L582.7 2227.4L583.9 2224.2L585.2 2221.0L586.4 2217.7L587.7 2214.5L588.9 2211.3L590.2 2208.1L591.5 2204.9L592.8 2201.7L594.1 2198.5L595.4 2195.3L596.7 2192.1L598.0 2188.9L599.3 2185.7L600.6 2182.5L601.9 2179.4L603.3 2176.2L604.6 2173.0L606.0 2169.8L607.3 2166.6L608.7 2163.4L610.0 2160.2L611.4 2157.1L612.8 2153.9L614.1 2150.7L615.5 2147.5L616.9 2144.3L618.3 2141.1L619.7 2137.9L621.0 2134.7L622.5 2131.6L623.9 2128.4L625.3 2125.2L626.7 2122.0L628.1 2118.8L629.6 2115.7L631.0 2112.5L632.5 2109.3L633.9 2106.2L635.4 2103.0L636.9 2099.8L638.3 2096.7L639.8 2093.5L641.3 2090.4L642.9 2087.2L644.4 2084.1L645.9 2081.0L647.5 2077.8L649.0 2074.7L650.6 2071.6L652.2 2068.5L653.7 2065.4L655.3 2062.3L656.9 2059.2L658.6 2056.1L660.2 2053.0L661.8 2049.9L663.5 2046.9L665.2 2043.8L666.9 2040.8L668.6 2037.7L670.3 2034.7L672.0 2031.7L673.7 2028.6L675.5 2025.6L677.3 2022.6L679.0 2019.6L680.8 2016.7L682.7 2013.7L684.5 2010.7L686.3 2007.8L688.2 2004.8L690.1 2001.9L692.0 1999.0L693.9 1996.1L695.8 1993.2L697.8 1990.3L699.7 1987.4L701.7 1984.6L703.7 1981.7L705.7 1978.9L707.8 1976.1L709.8 1973.2L711.9 1970.4L714.0 1967.7L716.1 1964.9L718.2 1962.1L720.3 1959.4L722.5 1956.6L724.6 1953.9L726.8 1951.2L729.0 1948.5L731.3 1945.8L733.5 1943.2L735.7 1940.5L738.0 1937.9L740.3 1935.3L742.6 1932.7L744.9 1930.1L747.3 1927.5L749.6 1924.9L752.0 1922.4L754.4 1919.9L756.8 1917.4L759.2 1914.9L761.6 1912.4L764.0 1909.9L766.5 1907.5L769.0 1905.0L771.5 1902.6L774.0 1900.2L776.5 1897.8L779.1 1895.5L781.6 1893.1L784.2 1890.8L786.8 1888.5L789.4 1886.2L792.0 1883.9L794.6 1881.6L797.3 1879.4L799.9 1877.2L802.6 1874.9L805.3 1872.8L808.0 1870.6L810.7 1868.4L813.4 1866.3L816.2 1864.2L818.9 1862.1L821.7 1860.0L824.5 1858.0L827.3 1855.9L830.1 1853.9L833.0 1851.9L835.8 1850.0L838.7 1848.0L841.6 1846.1L844.4 1844.2L847.3 1842.3L850.3 1840.4L853.2 1838.5L856.1 1836.7L859.1 1834.9L862.1 1833.1L865.0 1831.3L868.0 1829.6L871.1 1827.9L874.1 1826.2L877.1 1824.5L880.2 1822.8L883.2 1821.2L886.3 1819.6L889.4 1818.0L892.5 1816.4L895.6 1814.8L898.7 1813.3L901.8 1811.8L904.9 1810.3L908.1 1808.8L911.2 1807.3L914.4 1805.9L917.6 1804.4L920.7 1803.0L923.9 1801.6L927.1 1800.3L930.3 1798.9L933.6 1797.6L936.8 1796.3L940.0 1795.0L943.2 1793.7L946.5 1792.4L949.7 1791.2L953.0 1789.9L956.3 1788.7L959.5 1787.5L962.8 1786.3L966.1 1785.2L969.4 1784.0L972.7 1782.9L976.0 1781.7L979.3 1780.6L982.6 1779.5L985.9 1778.5L989.2 1777.4L992.5 1776.4L995.8 1775.3L999.2 1774.3L1002.5 1773.3L1005.8 1772.3L1009.1 1771.3L1012.5 1770.4L1015.8 1769.4L1019.1 1768.5L1022.5 1767.6L1025.8 1766.7L1029.2 1765.8L1032.5 1764.9L1035.9 1764.0L1039.2 1763.2L1042.6 1762.3L1046.0 1761.5L1049.3 1760.7L1052.7 1759.9L1056.1 1759.1L1059.4 1758.3L1062.8 1757.6L1066.2 1756.8L1069.6 1756.1L1072.9 1755.4L1076.3 1754.6L1079.7 1753.9L1083.1 1753.2L1086.5 1752.6L1089.9 1751.9L1093.3 1751.2L1096.7 1750.6L1100.1 1750.0L1103.5 1749.3L1106.9 1748.7L1110.3 1748.1L1113.7 1747.5L1117.1 1747.0L1120.5 1746.4L1123.9 1745.9L1127.3 1745.3L1130.7 1744.8L1134.2 1744.3L1137.6 1743.7L1141.0 1743.2L1144.4 1742.7L1147.9 1742.3L1151.3 1741.8L1154.7 1741.3L1158.1 1740.9L1161.6 1740.4L1165.0 1740.0L1168.5 1739.6L1171.9 1739.2L1175.3 1738.8L1178.8 1738.4L1182.2 1738.0L1185.7 1737.6L1189.1 1737.3L1192.6 1736.9L1196.0 1736.6L1199.5 1736.2L1202.9 1735.9L1206.4 1735.6L1209.8 1735.3L1213.3 1734.9L1216.7 1734.7L1220.2 1734.4L1223.7 1734.1L1227.1 1733.8L1230.6 1733.5L1234.1 1733.3L1237.5 1733.0L1241.0 1732.8L1244.5 1732.6L1247.9 1732.3L1251.4 1732.1L1254.9 1731.9L1258.3 1731.7L1261.8 1731.5L1265.3 1731.3L1268.8 1731.2L1272.2 1731.0L1275.7 1730.8L1279.2 1730.6L1282.7 1730.5L1286.2 1730.3L1289.6 1730.2L1293.1 1730.1L1296.6 1729.9L1300.1 1729.8L1303.6 1729.7L1307.1 1729.6L1310.6 1729.5L1314.0 1729.4L1317.5 1729.3L1321.0 1729.2L1324.5 1729.1L1328.0 1729.0L1331.5 1729.0L1335.0 1728.9L1338.5 1728.8L1342.0 1728.8L1345.5 1728.7L1348.9 1728.7L1352.4 1728.7L1355.9 1728.6L1359.4 1728.6L1362.9 1728.6L1366.4 1728.5L1369.9 1728.5L1373.4 1728.5L1376.9 1728.5L1380.4 1728.5L1383.9 1728.5L1387.4 1728.5L1390.9 1728.5L1394.4 1728.5L1397.9 1728.5L1401.4 1728.5L1404.9 1728.5L1408.4 1728.6L1411.9 1728.6L1415.4 1728.6L1418.9 1728.7L1422.4 1728.7L1425.9 1728.7L1429.4 1728.8L1432.9 1728.8L1436.4 1728.9L1439.9 1728.9L1443.4 1729.0L1446.9 1729.0L1450.4 1729.1L1453.9 1729.1L1457.4 1729.2L1460.9 1729.2L1464.3 1729.3L1467.8 1729.4L1471.3 1729.4L1474.8 1729.5L1478.3 1729.6L1481.8 1729.6L1485.3 1729.7L1488.8 1729.8L1492.3 1729.9L1495.8 1729.9L1499.3 1730.0L1502.8 1730.1L1506.3 1730.2L1509.8 1730.3L1513.3 1730.3L1516.8 1730.4L1520.2 1730.5L1523.7 1730.6L1527.2 1730.7L1530.7 1730.8L1534.2 1730.9L1537.7 1731.0L1541.2 1731.0L1544.7 1731.1L1548.2 1731.2L1551.6 1731.3L1555.1 1731.4L1558.6 1731.5L1562.1 1731.6L1565.6 1731.7L1569.1 1731.8L1572.6 1731.9L1576.0 1732.0L1579.5 1732.1L1583.0 1732.2L1586.5 1732.4L1590.0 1732.5L1593.5 1732.6L1596.9 1732.7L1600.4 1732.8L1603.9 1732.9L1607.4 1733.0L1610.9 1733.1L1614.3 1733.3L1617.8 1733.4L1621.3 1733.5L1624.8 1733.6L1628.3 1733.7L1631.8 1733.8L1635.2 1734.0L1638.7 1734.1L1642.2 1734.2L1645.7 1734.3L1649.1 1734.5L1652.6 1734.6L1656.1 1734.7L1659.6 1734.9L1663.1 1735.0L1666.5 1735.1L1670.0 1735.2L1673.5 1735.4L1677.0 1735.5L1680.4 1735.6L1683.9 1735.8L1687.4 1735.9L1690.9 1736.1L1694.3 1736.2L1697.8 1736.3L1701.3 1736.5L1704.8 1736.6L1708.2 1736.8L1711.7 1736.9L1715.2 1737.0L1718.7 1737.2L1722.1 1737.3L1725.6 1737.5L1729.1 1737.6L1732.6 1737.8L1736.0 1737.9L1739.5 1738.1L1743.0 1738.2L1746.5 1738.4L1749.9 1738.5L1753.4 1738.7L1756.9 1738.8L1760.3 1739.0L1763.8 1739.1L1767.3 1739.3L1770.8 1739.4L1774.2 1739.6L1777.7 1739.7L1781.2 1739.9L1784.6 1740.1L1788.1 1740.2L1791.6 1740.4L1795.1 1740.5L1798.5 1740.7L1802.0 1740.9L1805.5 1741.0L1808.9 1741.2L1812.4 1741.4L1815.9 1741.5L1819.3 1741.7L1822.8 1741.8L1826.3 1742.0L1829.8 1742.2L1833.2 1742.3L1836.7 1742.5L1840.2 1742.7L1843.6 1742.9L1847.1 1743.0L1850.6 1743.2L1854.0 1743.4L1857.5 1743.5L1861.0 1743.7L1864.4 1743.9L1867.9 1744.0L1871.4 1744.2L1874.8 1744.4L1878.3 1744.6L1881.8 1744.7L1885.2 1744.9L1888.7 1745.1L1892.2 1745.3L1895.7 1745.4L1899.1 1745.6L1902.6 1745.8L1906.1 1746.0L1909.5 1746.1L1913.0 1746.3L1916.5 1746.5L1919.9 1746.7L1923.4 1746.9L1926.9 1747.0L1930.3 1747.2L1933.8 1747.4L1937.3 1747.6L1940.7 1747.8L1944.2 1747.9L1947.7 1748.1L1951.1 1748.3L1954.6 1748.5L1958.1 1748.7L1961.5 1748.9L1965.0 1749.0L1968.5 1749.2L1971.9 1749.4L1975.4 1749.6L1978.9 1749.8L1982.4 1750.0L1985.8 1750.1L1989.3 1750.3L1992.8 1750.5L1996.2 1750.7L1999.7 1750.9L2003.2 1751.1L2006.6 1751.3L2010.1 1751.4L2013.6 1751.6L2017.0 1751.8L2020.5 1752.0L2024.0 1752.2L2027.4 1752.4L2030.9 1752.6L2034.4 1752.7L2037.8 1752.9L2041.3 1753.1L2044.8 1753.3L2048.3 1753.5L2051.7 1753.7L2055.2 1753.9L2058.7 1754.1L2062.1 1754.3L2065.6 1754.4L2069.1 1754.6L2072.5 1754.8L2076.0 1755.0L2079.5 1755.2L2083.0 1755.4L2086.4 1755.6L2089.9 1755.8L2093.4 1755.9L2096.8 1756.1L2100.3 1756.3L2103.8 1756.5L2107.3 1756.7L2110.7 1756.9L2114.2 1757.1L2117.7 1757.3L2121.1 1757.5L2124.6 1757.6L2128.1 1757.8L2131.6 1758.0L2135.0 1758.2L2138.5 1758.4L2142.0 1758.6L2145.5 1758.8L2148.9 1759.0L2152.4 1759.1L2155.9 1759.3L2159.3 1759.5L2162.8 1759.7L2166.3 1759.9L2169.8 1760.1L2173.2 1760.3L2176.7 1760.5L2180.2 1760.6L2183.7 1760.8L2187.1 1761.0L2190.6 1761.2L2194.1 1761.4L2197.6 1761.6L2201.1 1761.7L2204.5 1761.9L2208.0 1762.1L2211.5 1762.3L2215.0 1762.5L2218.4 1762.7L2221.9 1762.9L2225.4 1763.0L2228.9 1763.2L2232.4 1763.4L2235.8 1763.6L2239.3 1763.8L2242.8 1763.9L2246.3 1764.1L2249.8 1764.3L2253.2 1764.5L2256.7 1764.7L2260.2 1764.9L2263.7 1765.0L2267.2 1765.2L2270.6 1765.4L2274.1 1765.6L2277.6 1765.7L2281.1 1765.9L2284.6 1766.1L2288.1 1766.3L2291.5 1766.5L2295.0 1766.6L2298.5 1766.8L2302.0 1767.0L2305.5 1767.2L2309.0 1767.3L2312.5 1767.5L2315.9 1767.7L2319.4 1767.8L2322.9 1768.0L2326.4 1768.2L2329.9 1768.4L2333.4 1768.5L2336.9 1768.7L2340.4 1768.9L2343.9 1769.0L2347.3 1769.2L2350.8 1769.4L2354.3 1769.5L2357.8 1769.7L2361.3 1769.9L2364.8 1770.0" stroke="#0070c0" stroke-width="3.0" fill="none" stroke-linejoin="round" stroke-linecap="butt"/>
<path d="M297.4 2518.1L310.8 2462.4L311.8 2462.8L312.9 2463.2L313.9 2463.6L315.0 2464.0L316.1 2464.4L317.1 2464.8L318.2 2465.1L319.3 2465.5L320.3 2465.8L321.4 2466.2L322.4 2466.5L323.5 2466.8L324.6 2467.1L325.6 2467.4L326.7 2467.7L327.8 2468.0L328.8 2468.2L329.9 2468.5L331.0 2468.7L332.0 2469.0L333.1 2469.2L334.2 2469.4L335.2 2469.6L336.3 2469.8L337.4 2470.0L338.4 2470.2L339.5 2470.4L340.6 2470.5L341.6 2470.7L342.7 2470.8L343.8 2470.9L344.8 2471.1L345.9 2471.2L347.0 2471.3L348.0 2471.4L349.1 2471.4L350.2 2471.5L351.2 2471.6L352.3 2471.7L353.3 2471.7L354.4 2471.7L355.5 2471.8L356.5 2471.8L357.6 2471.8L358.6 2471.8L359.7 2471.8L360.8 2471.8L361.8 2471.8L362.9 2471.7L363.9 2471.7L365.0 2471.7L366.0 2471.6L367.1 2471.5L368.1 2471.5L369.2 2471.4L370.2 2471.3L371.3 2471.2L372.3 2471.1L373.3 2471.0L374.4 2470.8L375.4 2470.7L376.4 2470.6L377.5 2470.4L378.5 2470.3L379.5 2470.1L380.6 2469.9L381.6 2469.7L382.6 2469.5L383.6 2469.3L384.7 2469.1L385.7 2468.9L386.7 2468.7L387.7 2468.5L388.7 2468.2L389.7 2468.0L390.7 2467.7L391.8 2467.5L392.8 2467.2L393.8 2466.9L394.8 2466.6L395.8 2466.3L396.7 2466.0L397.7 2465.7L398.7 2465.4L399.7 2465.1L400.7 2464.8L401.7 2464.4L402.7 2464.1L403.6 2463.7L404.6 2463.4L405.6 2463.0L406.5 2462.6L407.5 2462.2L408.5 2461.9L409.4 2461.5L410.4 2461.1L411.3 2460.6L412.3 2460.2L413.2 2459.8L414.1 2459.4L415.1 2458.9L416.0 2458.5L416.9 2458.0L417.9 2457.6L418.8 2457.1L419.7 2456.6L420.6 2456.2L421.5 2455.7L422.4 2455.2L423.4 2454.7L424.3 2454.2L425.1 2453.7L426.0 2453.1L426.9 2452.6L427.8 2452.1L428.7 2451.5L429.6 2451.0L430.4 2450.4L431.3 2449.9L432.2 2449.3L433.0 2448.7L433.9 2448.2L434.7 2447.6L435.6 2447.0L436.4 2446.4L437.3 2445.8L438.1 2445.2L438.9 2444.6L439.8 2443.9L440.6 2443.3L441.4 2442.7L442.2 2442.0L443.0 2441.4L443.8 2440.7L444.6 2440.1L445.4 2439.4L446.2 2438.7L447.0 2438.1L447.7 2437.4L448.5 2436.7L449.3 2436.0L450.0 2435.3L450.8 2434.6L451.5 2433.9L452.3 2433.2L453.0 2432.5L453.8 2431.7L454.5 2431.0L455.2 2430.3L455.9 2429.5L456.6 2428.8L457.3 2428.0L458.0 2427.3L458.7 2426.5L459.4 2425.7L460.1 2425.0L460.8 2424.2L461.5 2423.4L462.1 2422.6L462.8 2421.8L463.4 2421.0L464.1 2420.2L464.7 2419.4L465.4 2418.6L466.0 2417.8L466.6 2416.9L467.2 2416.1L467.8 2415.3L468.4 2414.4L469.0 2413.6L469.6 2412.7L470.2 2411.9L470.8 2411.0L471.4 2410.2L472.0 2409.3L472.5 2408.4L473.1 2407.6L473.7 2406.7L474.2 2405.8L474.8 2404.9L475.3 2404.0L475.8 2403.2L476.4 2402.3L476.9 2401.4L477.4 2400.5L477.9 2399.6L478.5 2398.6L479.0 2397.7L479.5 2396.8L480.0 2395.9L480.5 2395.0L481.0 2394.1L481.5 2393.1L481.9 2392.2L482.4 2391.3L482.9 2390.3L483.4 2389.4L483.8 2388.4L484.3 2387.5L484.8 2386.6L485.2 2385.6L485.7 2384.7L486.1 2383.7L486.6 2382.8L487.0 2381.8L487.5 2380.8L487.9 2379.9L488.4 2378.9L488.8 2377.9L489.2 2377.0L489.6 2376.0L490.1 2375.0L490.5 2374.1L490.9 2373.1L491.3 2372.1L491.7 2371.1L492.2 2370.2L492.6 2369.2L493.0 2368.2L493.4 2367.2L493.8 2366.2L494.2 2365.3L494.6 2364.3L495.0 2363.3L495.4 2362.3L495.8 2361.3L496.1 2360.3L496.5 2359.3L496.9 2358.3L497.3 2357.4L497.7 2356.4L498.1 2355.4L498.4 2354.4L498.8 2353.4L499.2 2352.4L499.6 2351.4L500.0 2350.4L500.3 2349.4L500.7 2348.4L501.1 2347.5L501.4 2346.5L501.8 2345.5L502.2 2344.5L502.6 2343.5L502.9 2342.5L503.3 2341.5L503.6 2340.5L504.0 2339.5L504.4 2338.5L504.7 2337.6L505.1 2336.6L505.5 2335.6L505.8 2334.6L506.2 2333.6L506.5 2332.6L506.9 2331.6L507.3 2330.6L507.6 2329.6L508.0 2328.6L508.3 2327.7L508.7 2326.7L509.0 2325.7L509.4 2324.7L509.7 2323.7L510.1 2322.7L510.4 2321.7L510.8 2320.7L511.1 2319.7L511.5 2318.8L511.8 2317.8L512.2 2316.8L512.5 2315.8L512.9 2314.8L513.2 2313.8L513.6 2312.8L513.9 2311.8L514.3 2310.8L514.6 2309.9L515.0 2308.9L515.3 2307.9L515.7 2306.9L516.0 2305.9L516.4 2304.9L516.7 2303.9L517.1 2302.9L517.4 2301.9L517.8 2301.0L518.1 2300.0L518.5 2299.0L518.8 2298.0L519.1 2297.0L519.5 2296.0L519.8 2295.0L520.2 2294.0L520.5 2293.1L520.9 2292.1L521.2 2291.1L521.6 2290.1L521.9 2289.1L522.3 2288.1L522.6 2287.1L523.0 2286.1L523.3 2285.1L523.7 2284.2L524.0 2283.2L524.4 2282.2L524.7 2281.2L525.1 2280.2L525.4 2279.2L525.8 2278.2L526.2 2277.2L526.5 2276.3L526.9 2275.3L527.2 2274.3L527.6 2273.3L527.9 2272.3L528.3 2271.3L528.6 2270.3L529.0 2269.3L529.4 2268.4L529.7 2267.4L530.1 2266.4L530.4 2265.4L530.8 2264.4L531.2 2263.4L531.5 2262.4L531.9 2261.5L532.3 2260.5L532.6 2259.5L533.0 2258.5L533.4 2257.5L533.7 2256.5L534.1 2255.5L534.5 2254.6L534.8 2253.6L535.2 2252.6L535.6 2251.6L535.9 2250.6L536.3 2249.6L536.7 2248.6L537.0 2247.7L537.4 2246.7L537.8 2245.7L538.2 2244.7L538.5 2243.7L538.9 2242.7L539.3 2241.8L539.7 2240.8L540.0 2239.8L540.4 2238.8L540.8 2237.8L541.2 2236.8L541.6 2235.9L541.9 2234.9L542.3 2233.9L542.7 2232.9L543.1 2231.9L543.5 2230.9L543.9 2230.0L544.2 2229.0L544.6 2228.0L545.0 2227.0L545.4 2226.0L545.8 2225.1L546.2 2224.1L546.6 2223.1L546.9 2222.1L547.3 2221.1L547.7 2220.2L548.1 2219.2L548.5 2218.2L548.9 2217.2L549.3 2216.3L549.7 2215.3L550.1 2214.3L550.5 2213.3L550.9 2212.3L551.3 2211.4L551.7 2210.4L552.1 2209.4L552.5 2208.4L552.9 2207.5L553.3 2206.5L553.7 2205.5L554.1 2204.5L554.5 2203.6L554.9 2202.6L555.3 2201.6L555.7 2200.6L556.1 2199.7L556.5 2198.7L556.9 2197.7L557.3 2196.8L557.7 2195.8L558.2 2194.8L558.6 2193.8L559.0 2192.9L559.4 2191.9L559.8 2190.9L560.2 2190.0L560.6 2189.0L561.1 2188.0L561.5 2187.1L561.9 2186.1L562.3 2185.1L562.7 2184.2L563.1 2183.2L563.6 2182.2L564.0 2181.3L564.4 2180.3L564.8 2179.3L565.3 2178.4L565.7 2177.4L566.1 2176.4L566.5 2175.5L567.0 2174.5L567.4 2173.5L567.8 2172.6L568.3 2171.6L568.7 2170.7L569.1 2169.7L569.6 2168.7L570.0 2167.8L570.4 2166.8L570.9 2165.9L571.3 2164.9L571.7 2163.9L572.2 2163.0L572.6 2162.0L573.1 2161.1L573.5 2160.1L573.9 2159.2L574.4 2158.2L574.8 2157.2L575.3 2156.3L575.7 2155.3L576.2 2154.4L576.6 2153.4L577.1 2152.5L577.5 2151.5L578.0 2150.6L578.4 2149.6L578.9 2148.7L579.3 2147.7L579.8 2146.8L580.2 2145.8L580.7 2144.9L581.2 2143.9L581.6 2143.0L582.1 2142.0L582.5 2141.1L583.0 2140.1L583.5 2139.2L583.9 2138.3L584.4 2137.3L584.9 2136.4L585.3 2135.4L585.8 2134.5L586.3 2133.5L586.7 2132.6L587.2 2131.7L587.7 2130.7L588.2 2129.8L588.6 2128.8L589.1 2127.9L589.6 2127.0L590.1 2126.0L590.5 2125.1L591.0 2124.2L591.5 2123.2L592.0 2122.3L592.5 2121.4L592.9 2120.4L593.4 2119.5L593.9 2118.6L594.4 2117.6L594.9 2116.7L595.4 2115.8L595.9 2114.8L596.4 2113.9L596.9 2113.0L597.3 2112.1L597.8 2111.1L598.3 2110.2L598.8 2109.3L599.3 2108.4L599.8 2107.4L600.3 2106.5L600.8 2105.6L601.3 2104.7L601.8 2103.7L602.3 2102.8L602.8 2101.9L603.4 2101.0L603.9 2100.1L604.4 2099.1L604.9 2098.2L605.4 2097.3L605.9 2096.4L606.4 2095.5L606.9 2094.6L607.4 2093.7L608.0 2092.7L608.5 2091.8L609.0 2090.9L609.5 2090.0L610.0 2089.1L610.6 2088.2L611.1 2087.3L611.6 2086.4L612.1 2085.5L612.7 2084.6L613.2 2083.7L613.7 2082.8L614.3 2081.9L614.8 2080.9L615.3 2080.0L615.9 2079.1L616.4 2078.2L616.9 2077.3L617.5 2076.4L618.0 2075.5L618.6 2074.7L619.1 2073.8L619.6 2072.9L620.2 2072.0L620.7 2071.1L621.3 2070.2L621.8 2069.3L622.4 2068.4L622.9 2067.5L623.5 2066.6L624.0 2065.7L624.6 2064.8L625.1 2064.0L625.7 2063.1L626.3 2062.2L626.8 2061.3L627.4 2060.4L627.9 2059.5L628.5 2058.7L629.1 2057.8L629.6 2056.9L630.2 2056.0L630.8 2055.1L631.3 2054.3L631.9 2053.4L632.5 2052.5L633.1 2051.6L633.6 2050.8L634.2 2049.9L634.8 2049.0L635.4 2048.1L635.9 2047.3L636.5 2046.4L637.1 2045.5L637.7 2044.7L638.3 2043.8L638.9 2042.9L639.5 2042.1L640.0 2041.2L640.6 2040.3L641.2 2039.5L641.8 2038.6L642.4 2037.8L643.0 2036.9L643.6 2036.0L644.2 2035.2L644.8 2034.3L645.4 2033.5L646.0 2032.6L646.6 2031.8L647.2 2030.9L647.8 2030.1L648.5 2029.2L649.1 2028.4L649.7 2027.5L650.3 2026.7L650.9 2025.8L651.5 2025.0L652.1 2024.1L652.8 2023.3L653.4 2022.5L654.0 2021.6L654.6 2020.8L655.2 2019.9L655.9 2019.1L656.5 2018.3L657.1 2017.4L657.8 2016.6L658.4 2015.8L659.0 2014.9L659.7 2014.1L660.3 2013.3L660.9 2012.4L661.6 2011.6L662.2 2010.8L662.9 2010.0L663.5 2009.1L664.1 2008.3L664.8 2007.5L665.4 2006.7L666.1 2005.9L666.7 2005.0L667.4 2004.2L668.0 2003.4L668.7 2002.6L669.4 2001.8L670.0 2001.0L670.7 2000.1L671.3 1999.3L672.0 1998.5L672.7 1997.7L673.3 1996.9L674.0 1996.1L674.7 1995.3L675.3 1994.5L676.0 1993.7L676.7 1992.9L677.4 1992.1L678.0 1991.3L678.7 1990.5L679.4 1989.7L680.1 1988.9L680.8 1988.1L681.4 1987.3L682.1 1986.5L682.8 1985.7L683.5 1984.9L684.2 1984.1L684.9 1983.3L685.6 1982.6L686.3 1981.8L687.0 1981.0L687.7 1980.2L688.4 1979.4L689.1 1978.6L689.8 1977.9L690.5 1977.1L691.2 1976.3L691.9 1975.5L692.6 1974.8L693.3 1974.0L694.0 1973.2L694.8 1972.4L695.5 1971.7L696.2 1970.9L696.9 1970.1L697.6 1969.4L698.4 1968.6L699.1 1967.9L699.8 1967.1L700.5 1966.3L701.3 1965.6L702.0 1964.8L702.7 1964.1L703.5 1963.3L704.2 1962.5L704.9 1961.8L705.7 1961.0L706.4 1960.3L707.2 1959.5L707.9 1958.8L708.7 1958.1L709.4 1957.3L710.2 1956.6L710.9 1955.8L711.7 1955.1L712.4 1954.3L713.2 1953.6L713.9 1952.9L714.7 1952.1L715.4 1951.4L716.2 1950.7L717.0 1949.9L717.7 1949.2L718.5 1948.5L719.3 1947.8L720.1 1947.0L720.8 1946.3L721.6 1945.6L722.4 1944.9L723.2 1944.1L723.9 1943.4L724.7 1942.7L725.5 1942.0L726.3 1941.3L727.1 1940.6L727.9 1939.8L728.7 1939.1L729.5 1938.4L730.3 1937.7L731.1 1937.0L731.8 1936.3L732.7 1935.6L733.5 1934.9L734.3 1934.2L735.1 1933.5L735.9 1932.8L737.8 1931.5L739.7 1930.1L741.7 1928.7L743.7 1927.3L745.7 1925.8L747.6 1924.4L749.6 1923.1L751.6 1921.7L753.6 1920.3L755.6 1918.9L757.6 1917.6L759.6 1916.2L761.6 1914.9L763.6 1913.6L765.6 1912.2L767.6 1910.9L769.6 1909.6L771.7 1908.3L773.7 1907.0L775.7 1905.7L777.7 1904.5L779.8 1903.2L781.8 1902.0L783.9 1900.7L785.9 1899.5L788.0 1898.2L790.0 1897.0L792.1 1895.8L794.1 1894.6L796.2 1893.4L798.2 1892.2L800.3 1891.0L802.4 1889.8L804.4 1888.7L806.5 1887.5L808.6 1886.4L810.7 1885.2L812.8 1884.1L814.9 1883.0L816.9 1881.8L819.0 1880.7L821.1 1879.6L823.2 1878.5L825.3 1877.4L827.5 1876.4L829.6 1875.3L831.7 1874.2L833.8 1873.2L835.9 1872.1L838.0 1871.1L840.1 1870.0L842.3 1869.0L844.4 1868.0L846.5 1867.0L848.7 1865.9L850.8 1864.9L852.9 1864.0L855.1 1863.0L857.2 1862.0L859.4 1861.0L861.5 1860.1L863.7 1859.1L865.8 1858.2L868.0 1857.2L870.2 1856.3L872.3 1855.3L874.5 1854.4L876.7 1853.5L878.8 1852.6L881.0 1851.7L883.2 1850.8L885.4 1849.9L887.5 1849.0L889.7 1848.2L891.9 1847.3L894.1 1846.5L896.3 1845.6L898.5 1844.8L900.7 1843.9L902.9 1843.1L905.1 1842.3L907.3 1841.4L909.5 1840.6L911.7 1839.8L913.9 1839.0L916.1 1838.2L918.3 1837.4L920.5 1836.7L922.7 1835.9L925.0 1835.1L927.2 1834.4L929.4 1833.6L931.6 1832.9L933.8 1832.1L936.1 1831.4L938.3 1830.6L940.5 1829.9L942.8 1829.2L945.0 1828.5L947.2 1827.8L949.5 1827.1L951.7 1826.4L954.0 1825.7L956.2 1825.0L958.5 1824.4L960.7 1823.7L963.0 1823.0L965.2 1822.4L967.5 1821.7L969.7 1821.1L972.0 1820.4L974.3 1819.8L976.5 1819.2L978.8 1818.5L981.0 1817.9L983.3 1817.3L985.6 1816.7L987.9 1816.1L990.1 1815.5L992.4 1814.9L994.7 1814.3L996.9 1813.8L999.2 1813.2L1001.5 1812.6L1003.8 1812.1L1006.1 1811.5L1008.4 1810.9L1010.6 1810.4L1012.9 1809.9L1015.2 1809.3L1017.5 1808.8L1019.8 1808.3L1022.1 1807.8L1024.4 1807.2L1026.7 1806.7L1029.0 1806.2L1031.3 1805.7L1033.6 1805.2L1035.9 1804.7L1038.2 1804.3L1040.5 1803.8L1042.8 1803.3L1045.1 1802.8L1047.4 1802.4L1049.7 1801.9L1052.0 1801.5L1054.3 1801.0L1056.6 1800.6L1058.9 1800.1L1061.3 1799.7L1063.6 1799.3L1065.9 1798.8L1068.2 1798.4L1070.5 1798.0L1072.8 1797.6L1075.2 1797.2L1077.5 1796.8L1079.8 1796.4L1082.1 1796.0L1084.5 1795.6L1086.8 1795.2L1089.1 1794.8L1091.5 1794.5L1093.8 1794.1L1096.1 1793.7L1098.5 1793.4L1100.8 1793.0L1103.1 1792.7L1105.5 1792.3L1107.8 1792.0L1110.1 1791.6L1112.5 1791.3L1114.8 1791.0L1117.2 1790.6L1119.5 1790.3L1121.8 1790.0L1124.2 1789.7L1126.5 1789.4L1128.9 1789.1L1131.2 1788.8L1133.6 1788.5L1135.9 1788.2L1138.3 1787.9L1140.6 1787.6L1143.0 1787.3L1145.3 1787.0L1147.7 1786.8L1150.1 1786.5L1152.4 1786.2L1154.8 1786.0L1157.1 1785.7L1159.5 1785.5L1161.8 1785.2L1164.2 1785.0L1166.6 1784.7L1168.9 1784.5L1171.3 1784.3L1173.7 1784.0L1176.0 1783.8L1178.4 1783.6L1180.8 1783.4L1183.1 1783.1L1185.5 1782.9L1187.9 1782.7L1190.2 1782.5L1192.6 1782.3L1195.0 1782.1L1197.3 1781.9L1199.7 1781.7L1202.1 1781.5L1204.5 1781.4L1206.8 1781.2L1209.2 1781.0L1211.6 1780.8L1214.0 1780.7L1216.3 1780.5L1218.7 1780.3L1221.1 1780.2L1223.5 1780.0L1225.9 1779.8L1228.2 1779.7L1230.6 1779.5L1233.0 1779.4L1235.4 1779.3L1237.8 1779.1L1240.1 1779.0L1242.5 1778.9L1244.9 1778.7L1247.3 1778.6L1249.7 1778.5L1252.1 1778.4L1254.5 1778.2L1256.8 1778.1L1259.2 1778.0L1261.6 1777.9L1264.0 1777.8L1266.4 1777.7L1268.8 1777.6L1271.2 1777.5L1273.6 1777.4L1276.0 1777.3L1278.4 1777.2L1280.7 1777.1L1283.1 1777.0L1285.5 1777.0L1287.9 1776.9L1290.3 1776.8L1292.7 1776.7L1295.1 1776.7L1297.5 1776.6L1299.9 1776.5L1302.3 1776.5L1304.7 1776.4L1307.1 1776.3L1309.5 1776.3L1311.9 1776.2L1314.3 1776.2L1316.7 1776.1L1319.1 1776.1L1321.5 1776.0L1323.9 1776.0L1326.3 1776.0L1328.7 1775.9L1331.1 1775.9L1333.5 1775.8L1335.9 1775.8L1338.3 1775.8L1340.7 1775.8L1343.1 1775.7L1345.5 1775.7L1347.9 1775.7L1350.3 1775.7L1352.7 1775.7L1355.1 1775.6L1357.5 1775.6L1359.9 1775.6L1362.3 1775.6L1364.7 1775.6L1367.1 1775.6L1369.5 1775.6L1371.9 1775.6L1374.3 1775.6L1376.7 1775.6L1379.1 1775.6L1381.5 1775.6L1383.9 1775.6L1386.3 1775.6L1388.7 1775.6L1391.1 1775.6L1393.5 1775.7L1395.9 1775.7L1398.3 1775.7L1400.7 1775.7L1403.1 1775.7L1405.5 1775.7L1407.9 1775.8L1410.3 1775.8L1412.7 1775.8L1415.1 1775.8L1417.5 1775.9L1419.9 1775.9L1422.3 1775.9L1424.7 1776.0L1427.1 1776.0L1429.5 1776.0L1431.9 1776.1L1434.3 1776.1L1436.7 1776.2L1439.1 1776.2L1441.5 1776.2L1443.9 1776.3L1446.3 1776.3L1448.7 1776.4L1451.1 1776.4L1453.5 1776.5L1455.9 1776.5L1458.3 1776.6L1460.7 1776.6L1463.1 1776.7L1465.5 1776.7L1467.9 1776.8L1470.3 1776.8L1472.7 1776.9L1475.1 1776.9L1477.4 1777.0L1479.8 1777.0L1482.2 1777.1L1484.6 1777.2L1487.0 1777.2L1489.4 1777.3L1491.8 1777.3L1494.2 1777.4L1496.6 1777.5L1499.0 1777.5L1501.4 1777.6L1503.8 1777.6L1506.2 1777.7L1508.6 1777.8L1511.0 1777.8L1513.3 1777.9L1515.7 1778.0L1518.1 1778.0L1520.5 1778.1L1522.9 1778.2L1525.3 1778.3L1527.7 1778.3L1530.1 1778.4L1532.5 1778.5L1534.8 1778.5L1537.2 1778.6L1539.6 1778.7L1542.0 1778.8L1544.4 1778.8L1546.8 1778.9L1549.2 1779.0L1551.6 1779.1L1553.9 1779.2L1556.3 1779.2L1558.7 1779.3L1561.1 1779.4L1563.5 1779.5L1565.9 1779.6L1568.2 1779.6L1570.6 1779.7L1573.0 1779.8L1575.4 1779.9L1577.8 1780.0L1580.2 1780.1L1582.5 1780.2L1584.9 1780.2L1587.3 1780.3L1589.7 1780.4L1592.1 1780.5L1594.5 1780.6L1596.8 1780.7L1599.2 1780.8L1601.6 1780.9L1604.0 1781.0L1606.4 1781.0L1608.7 1781.1L1611.1 1781.2L1613.5 1781.3L1615.9 1781.4L1618.3 1781.5L1620.6 1781.6L1623.0 1781.7L1625.4 1781.8L1627.8 1781.9L1630.1 1782.0L1632.5 1782.1L1634.9 1782.2L1637.3 1782.3L1639.7 1782.4L1642.0 1782.5L1644.4 1782.6L1646.8 1782.7L1649.2 1782.8L1651.5 1782.9L1653.9 1783.0L1656.3 1783.1L1658.7 1783.2L1661.0 1783.3L1663.4 1783.4L1665.8 1783.5L1668.2 1783.6L1670.5 1783.7L1672.9 1783.8L1675.3 1783.9L1677.7 1784.0L1680.0 1784.1L1682.4 1784.3L1684.8 1784.4L1687.1 1784.5L1689.5 1784.6L1691.9 1784.7L1694.3 1784.8L1696.6 1784.9L1699.0 1785.0L1701.4 1785.1L1703.7 1785.2L1706.1 1785.4L1708.5 1785.5L1710.9 1785.6L1713.2 1785.7L1715.6 1785.8L1718.0 1785.9L1720.3 1786.0L1722.7 1786.1L1725.1 1786.3L1727.4 1786.4L1729.8 1786.5L1732.2 1786.6L1734.6 1786.7L1736.9 1786.8L1739.3 1787.0L1741.7 1787.1L1744.0 1787.2L1746.4 1787.3L1748.8 1787.4L1751.1 1787.5L1753.5 1787.7L1755.9 1787.8L1758.2 1787.9L1760.6 1788.0L1763.0 1788.1L1765.3 1788.3L1767.7 1788.4L1770.1 1788.5L1772.4 1788.6L1774.8 1788.7L1777.2 1788.9L1779.5 1789.0L1781.9 1789.1L1784.3 1789.2L1786.6 1789.3L1789.0 1789.5L1791.4 1789.6L1793.7 1789.7L1796.1 1789.8L1798.5 1790.0L1800.8 1790.1L1803.2 1790.2L1805.6 1790.3L1807.9 1790.5L1810.3 1790.6L1812.7 1790.7L1815.0 1790.8L1817.4 1791.0L1819.8 1791.1L1822.1 1791.2L1824.5 1791.3L1826.9 1791.5L1829.2 1791.6L1831.6 1791.7L1833.9 1791.8L1836.3 1792.0L1838.7 1792.1L1841.0 1792.2L1843.4 1792.3L1845.8 1792.5L1848.1 1792.6L1850.5 1792.7L1852.9 1792.9L1855.2 1793.0L1857.6 1793.1L1860.0 1793.2L1862.3 1793.4L1864.7 1793.5L1867.0 1793.6L1869.4 1793.7L1871.8 1793.9L1874.1 1794.0L1876.5 1794.1L1878.9 1794.3L1881.2 1794.4L1883.6 1794.5L1885.9 1794.7L1888.3 1794.8L1890.7 1794.9L1893.0 1795.0L1895.4 1795.2L1897.8 1795.3L1900.1 1795.4L1902.5 1795.6L1904.8 1795.7L1907.2 1795.8L1909.6 1795.9L1911.9 1796.1L1914.3 1796.2L1916.7 1796.3L1919.0 1796.5L1921.4 1796.6L1923.8 1796.7L1926.1 1796.9L1928.5 1797.0L1930.8 1797.1L1933.2 1797.2L1935.6 1797.4L1937.9 1797.5L1940.3 1797.6L1942.7 1797.8L1945.0 1797.9L1947.4 1798.0L1949.7 1798.1L1952.1 1798.3L1954.5 1798.4L1956.8 1798.5L1959.2 1798.7L1961.6 1798.8L1963.9 1798.9L1966.3 1799.1L1968.6 1799.2L1971.0 1799.3L1973.4 1799.4L1975.7 1799.6L1978.1 1799.7L1980.5 1799.8L1982.8 1800.0L1985.2 1800.1L1987.5 1800.2L1989.9 1800.3L1992.3 1800.5L1994.6 1800.6L1997.0 1800.7L1999.4 1800.9L2001.7 1801.0L2004.1 1801.1L2006.4 1801.2L2008.8 1801.4L2011.2 1801.5L2013.5 1801.6L2015.9 1801.7L2018.3 1801.9L2020.6 1802.0L2023.0 1802.1L2025.3 1802.2L2027.7 1802.4L2030.1 1802.5L2032.4 1802.6L2034.8 1802.8L2037.2 1802.9L2039.5 1803.0L2041.9 1803.1L2044.3 1803.3L2046.6 1803.4L2049.0 1803.5L2051.4 1803.6L2053.7 1803.8L2056.1 1803.9L2058.4 1804.0L2060.8 1804.1L2063.2 1804.2L2065.5 1804.4L2067.9 1804.5L2070.3 1804.6L2072.6 1804.7L2075.0 1804.9L2077.4 1805.0L2079.7 1805.1L2082.1 1805.2L2084.5 1805.3L2086.8 1805.5L2089.2 1805.6L2091.6 1805.7L2093.9 1805.8L2096.3 1805.9L2098.7 1806.1L2101.0 1806.2L2103.4 1806.3L2105.8 1806.4L2108.1 1806.5L2110.5 1806.7L2112.9 1806.8L2115.2 1806.9L2117.6 1807.0L2120.0 1807.1L2122.3 1807.2L2124.7 1807.4L2127.1 1807.5L2129.4 1807.6L2131.8 1807.7L2134.2 1807.8L2136.5 1807.9L2138.9 1808.0L2141.3 1808.2L2143.6 1808.3L2146.0 1808.4L2148.4 1808.5L2150.7 1808.6L2153.1 1808.7L2155.5 1808.8L2157.9 1808.9L2160.2 1809.0L2162.6 1809.2L2165.0 1809.3L2167.3 1809.4L2169.7 1809.5L2172.1 1809.6L2174.4 1809.7L2176.8 1809.8L2179.2 1809.9L2181.6 1810.0L2183.9 1810.1L2186.3 1810.2L2188.7 1810.3L2191.0 1810.4L2193.4 1810.5L2195.8 1810.6L2198.2 1810.8L2200.5 1810.9L2202.9 1811.0L2205.3 1811.1L2207.7 1811.2L2210.0 1811.3L2212.4 1811.4L2214.8 1811.5L2217.1 1811.6L2219.5 1811.7L2221.9 1811.8L2224.3 1811.9L2226.6 1812.0L2229.0 1812.1L2231.4 1812.1L2233.8 1812.2L2236.1 1812.3L2238.5 1812.4L2240.9 1812.5L2243.3 1812.6L2245.7 1812.7L2248.0 1812.8L2250.4 1812.9L2252.8 1813.0L2255.2 1813.1L2257.5 1813.2L2259.9 1813.3L2262.3 1813.4L2264.7 1813.4L2267.1 1813.5L2269.4 1813.6L2271.8 1813.7L2274.2 1813.8L2276.6 1813.9L2278.9 1814.0L2281.3 1814.0L2283.7 1814.1L2286.1 1814.2L2288.5 1814.3L2290.8 1814.4L2293.2 1814.5L2295.6 1814.5L2298.0 1814.6L2300.4 1814.7L2302.8 1814.8L2305.1 1814.9L2307.5 1814.9L2309.9 1815.0L2312.3 1815.1L2314.7 1815.2L2317.1 1815.2L2319.4 1815.3L2321.8 1815.4L2324.2 1815.5L2326.6 1815.5L2329.0 1815.6L2331.4 1815.7L2333.8 1815.8L2336.1 1815.8L2338.5 1815.9L2340.9 1816.0L2343.3 1816.0L2345.7 1816.1L2348.1 1816.2L2350.5 1816.2L2352.8 1816.3L2355.2 1816.4L2357.6 1816.4L2360.0 1816.5L2362.4 1816.5L2364.8 1816.6" stroke="#ee0000" stroke-width="3.0" fill="none" stroke-linejoin="round" stroke-linecap="butt"/>
<path d="M2071.1 2126H2128.9" stroke="#000000" stroke-width="4.8"/>
<text x="2133.3" y="2138.6" font-size="42.4" textLength="135.6" lengthAdjust="spacingAndGlyphs">Control</text>
<path d="M2071.1 2205.2H2128.9" stroke="#00b050" stroke-width="3.4"/>
<text x="2133.1" y="2217.8" font-size="42.4" textLength="92.5" lengthAdjust="spacingAndGlyphs">2 phr</text>
<path d="M2071.1 2284.6H2128.9" stroke="#b0008c" stroke-width="3.4"/>
<text x="2134.2" y="2297.2" font-size="42.4" textLength="92.5" lengthAdjust="spacingAndGlyphs">4 phr</text>
<path d="M2071.1 2363.4H2128.9" stroke="#ffc000" stroke-width="3.4"/>
<text x="2133.2" y="2376" font-size="42.4" textLength="92.5" lengthAdjust="spacingAndGlyphs">6 phr</text>
<path d="M2071.1 2442.8H2128.9" stroke="#0070c0" stroke-width="3.4"/>
<text x="2133.4" y="2455.4" font-size="42.4" textLength="92.5" lengthAdjust="spacingAndGlyphs">8 phr</text>
<path d="M2071.1 2522H2128.9" stroke="#ee0000" stroke-width="3.4"/>
<text x="2131.2" y="2534.6" font-size="42.4" textLength="114.7" lengthAdjust="spacingAndGlyphs">10 phr</text>
<text x="1175.5" y="2995.9" font-size="85">(<tspan font-weight="bold">b</tspan>)</text>
<g><path d="M310.8 3075V4155.5" stroke="#555555" stroke-width="2.2" fill="none"/><path d="M295.8 4140.5H2350.3" stroke="#555555" stroke-width="2.2" fill="none"/><path d="M295.8 4022.1H310.8" stroke="#555555" stroke-width="2.2"/><path d="M295.8 3903.7H310.8" stroke="#555555" stroke-width="2.2"/><path d="M295.8 3785.3H310.8" stroke="#555555" stroke-width="2.2"/><path d="M295.8 3666.9H310.8" stroke="#555555" stroke-width="2.2"/><path d="M295.8 3548.6H310.8" stroke="#555555" stroke-width="2.2"/><path d="M295.8 3430.2H310.8" stroke="#555555" stroke-width="2.2"/><path d="M295.8 3311.8H310.8" stroke="#555555" stroke-width="2.2"/><path d="M295.8 3193.4H310.8" stroke="#555555" stroke-width="2.2"/><path d="M295.8 3075H310.8" stroke="#555555" stroke-width="2.2"/><path d="M514.8 4140.5V4155.5" stroke="#555555" stroke-width="2.2"/><path d="M718.7 4140.5V4155.5" stroke="#555555" stroke-width="2.2"/><path d="M922.7 4140.5V4155.5" stroke="#555555" stroke-width="2.2"/><path d="M1126.6 4140.5V4155.5" stroke="#555555" stroke-width="2.2"/><path d="M1330.6 4140.5V4155.5" stroke="#555555" stroke-width="2.2"/><path d="M1534.5 4140.5V4155.5" stroke="#555555" stroke-width="2.2"/><path d="M1738.5 4140.5V4155.5" stroke="#555555" stroke-width="2.2"/><path d="M1942.4 4140.5V4155.5" stroke="#555555" stroke-width="2.2"/><path d="M2146.4 4140.5V4155.5" stroke="#555555" stroke-width="2.2"/><path d="M2350.3 4140.5V4155.5" stroke="#555555" stroke-width="2.2"/></g>
<text x="185.1" y="4154.5" font-size="47.2" textLength="80.4" lengthAdjust="spacingAndGlyphs">0.00</text>
<text x="185.1" y="4036.1" font-size="47.2" textLength="80.4" lengthAdjust="spacingAndGlyphs">2.00</text>
<text x="185.1" y="3917.7" font-size="47.2" textLength="80.4" lengthAdjust="spacingAndGlyphs">4.00</text>
<text x="185.1" y="3799.3" font-size="47.2" textLength="80.4" lengthAdjust="spacingAndGlyphs">6.00</text>
<text x="185.1" y="3680.9" font-size="47.2" textLength="80.4" lengthAdjust="spacingAndGlyphs">8.00</text>
<text x="162.1" y="3562.6" font-size="47.2" textLength="103.3" lengthAdjust="spacingAndGlyphs">10.00</text>
<text x="162.1" y="3444.2" font-size="47.2" textLength="103.3" lengthAdjust="spacingAndGlyphs">12.00</text>
<text x="162.1" y="3325.8" font-size="47.2" textLength="103.3" lengthAdjust="spacingAndGlyphs">14.00</text>
<text x="162.1" y="3207.4" font-size="47.2" textLength="103.3" lengthAdjust="spacingAndGlyphs">16.00</text>
<text x="162.1" y="3089" font-size="47.2" textLength="103.3" lengthAdjust="spacingAndGlyphs">18.00</text>
<text x="281.8" y="4220" font-size="47.5" textLength="57.9" lengthAdjust="spacingAndGlyphs">0.0</text>
<text x="485.6" y="4220" font-size="47.5" textLength="58" lengthAdjust="spacingAndGlyphs">2.0</text>
<text x="690.1" y="4220" font-size="47.5" textLength="57.9" lengthAdjust="spacingAndGlyphs">4.0</text>
<text x="893.6" y="4220" font-size="47.5" textLength="57.9" lengthAdjust="spacingAndGlyphs">6.0</text>
<text x="1097.6" y="4220" font-size="47.5" textLength="57.9" lengthAdjust="spacingAndGlyphs">8.0</text>
<text x="1288.8" y="4220" font-size="47.5" textLength="81.1" lengthAdjust="spacingAndGlyphs">10.0</text>
<text x="1492.8" y="4220" font-size="47.5" textLength="81.1" lengthAdjust="spacingAndGlyphs">12.0</text>
<text x="1696.7" y="4220" font-size="47.5" textLength="81.1" lengthAdjust="spacingAndGlyphs">14.0</text>
<text x="1900.7" y="4220" font-size="47.5" textLength="81.1" lengthAdjust="spacingAndGlyphs">16.0</text>
<text x="2104.6" y="4220" font-size="47.5" textLength="81.1" lengthAdjust="spacingAndGlyphs">18.0</text>
<text x="2309.6" y="4220" font-size="47.5" textLength="81.1" lengthAdjust="spacingAndGlyphs">20.0</text>
<text transform="translate(109 3775.7) rotate(-90)" x="-0.9" y="0" font-size="48.2" textLength="310.2" lengthAdjust="spacingAndGlyphs">Torque (dN.m)</text>
<text x="1231.2" y="4316.3" font-size="47.4" textLength="222.3" lengthAdjust="spacingAndGlyphs">Time (min)</text>
<text x="404.3" y="3179.9" font-size="50.6" textLength="124.6" lengthAdjust="spacingAndGlyphs">S-TSP</text>
<path d="M311.6 3946.7L317.1 3959.2L324 3966L327.3 3966.4L330.6 3966.9L333.9 3967.3L337.2 3967.6L340.6 3968.0L343.9 3968.3L347.3 3968.6L350.7 3968.9L354.2 3969.1L357.6 3969.3L361.1 3969.5L364.5 3969.7L368.0 3969.9L371.5 3970.0L375.0 3970.1L378.5 3970.1L382.1 3970.1L385.6 3970.1L389.2 3970.1L392.7 3970.1L396.3 3970.0L399.8 3969.8L403.4 3969.7L406.9 3969.5L410.5 3969.3L414.1 3969.0L417.7 3968.8L421.2 3968.5L424.8 3968.1L428.4 3967.7L431.9 3967.3L435.5 3966.9L439.0 3966.4L442.6 3965.9L446.1 3965.3L449.7 3964.7L453.2 3964.1L456.7 3963.4L460.2 3962.7L463.7 3962.0L467.2 3961.2L470.7 3960.4L474.1 3959.5L477.5 3958.6L481.0 3957.7L484.4 3956.7L487.8 3955.7L491.1 3954.7L494.5 3953.6L497.8 3952.4L501.1 3951.3L504.4 3950.0L507.7 3948.8L510.9 3947.5L514.1 3946.1L517.3 3944.7L520.5 3943.3L523.6 3941.8L526.7 3940.3L529.8 3938.7L532.8 3937.1L535.9 3935.4L538.8 3933.7L541.8 3932.0L544.7 3930.2L547.6 3928.3L550.4 3926.4L553.2 3924.4L556.0 3922.5L558.8 3920.4L561.4 3918.3L564.1 3916.2L566.7 3914.0L569.3 3911.7L571.8 3909.4L574.3 3907.1L576.7 3904.7L579.1 3902.2L581.5 3899.7L583.8 3897.2L586.1 3894.6L588.3 3892.0L590.5 3889.4L592.7 3886.7L594.8 3883.9L596.9 3881.1L598.9 3878.3L600.9 3875.5L602.9 3872.6L604.8 3869.7L606.7 3866.8L608.5 3863.8L610.4 3860.9L612.1 3857.9L613.9 3854.8L615.6 3851.8L617.3 3848.7L618.9 3845.6L620.5 3842.5L622.1 3839.4L623.7 3836.3L625.2 3833.1L626.7 3830.0L628.1 3826.8L629.5 3823.6L630.9 3820.4L632.3 3817.2L633.7 3814.0L635.0 3810.8L636.3 3807.5L637.6 3804.3L638.8 3801.0L640.1 3797.8L641.3 3794.5L642.5 3791.2L643.7 3787.9L644.9 3784.6L646.0 3781.3L647.2 3778.0L648.3 3774.7L649.4 3771.4L650.5 3768.1L651.7 3764.8L652.8 3761.4L653.8 3758.1L654.9 3754.8L656.0 3751.4L657.1 3748.1L658.2 3744.8L659.3 3741.4L660.3 3738.1L661.4 3734.7L662.5 3731.4L663.6 3728.1L664.7 3724.7L665.8 3721.4L666.8 3718.1L667.9 3714.7L669.0 3711.4L670.1 3708.1L671.3 3704.8L672.4 3701.4L673.5 3698.1L674.6 3694.8L675.7 3691.5L676.9 3688.2L678.0 3684.9L679.1 3681.5L680.3 3678.2L681.4 3674.9L682.6 3671.6L683.7 3668.3L684.9 3665.0L686.1 3661.7L687.3 3658.4L688.4 3655.1L689.6 3651.8L690.8 3648.5L692.0 3645.3L693.2 3642.0L694.4 3638.7L695.7 3635.4L696.9 3632.1L698.1 3628.9L699.4 3625.6L700.6 3622.3L701.8 3619.1L703.1 3615.8L704.4 3612.6L705.7 3609.3L706.9 3606.1L708.2 3602.8L709.5 3599.6L710.8 3596.3L712.1 3593.1L713.5 3589.9L714.8 3586.7L716.1 3583.4L717.5 3580.2L718.9 3577.0L720.2 3573.8L721.6 3570.6L723.0 3567.4L724.4 3564.2L725.8 3561.0L727.2 3557.8L728.6 3554.7L730.0 3551.5L731.5 3548.3L732.9 3545.2L734.4 3542.0L735.9 3538.8L737.4 3535.7L738.9 3532.5L740.4 3529.4L741.9 3526.3L743.4 3523.1L744.9 3520.0L746.5 3516.9L748.0 3513.8L749.6 3510.7L751.2 3507.6L752.8 3504.5L754.4 3501.4L756.0 3498.3L757.6 3495.2L759.3 3492.2L760.9 3489.1L762.6 3486.1L764.3 3483.0L766.0 3480.0L767.7 3476.9L769.4 3473.9L771.1 3470.9L772.9 3467.8L774.6 3464.8L776.4 3461.8L778.2 3458.8L780.0 3455.8L781.8 3452.9L783.6 3449.9L785.5 3446.9L787.3 3443.9L789.2 3441.0L791.1 3438.0L793.0 3435.1L794.9 3432.2L796.8 3429.2L798.7 3426.3L800.7 3423.4L802.7 3420.5L804.7 3417.6L806.7 3414.7L808.7 3411.9L810.7 3409.0L812.8 3406.1L814.8 3403.3L816.9 3400.5L819.0 3397.6L821.1 3394.8L823.2 3392.0L825.3 3389.2L827.5 3386.4L829.6 3383.6L831.8 3380.9L834.0 3378.1L836.2 3375.4L838.4 3372.7L840.7 3370.0L842.9 3367.3L845.2 3364.6L847.5 3361.9L849.8 3359.2L852.1 3356.6L854.4 3353.9L856.7 3351.3L859.1 3348.7L861.4 3346.1L863.8 3343.5L866.2 3341.0L868.6 3338.4L871.0 3335.9L873.5 3333.4L875.9 3330.9L878.4 3328.4L880.9 3325.9L883.3 3323.5L885.9 3321.0L888.4 3318.6L890.9 3316.2L893.5 3313.8L896.0 3311.5L898.6 3309.1L901.2 3306.8L903.8 3304.5L906.4 3302.2L909.0 3299.9L911.7 3297.6L914.3 3295.4L917.0 3293.2L919.7 3291.0L922.4 3288.8L925.1 3286.7L927.8 3284.5L930.6 3282.4L933.3 3280.3L936.1 3278.2L938.9 3276.2L941.7 3274.2L944.5 3272.1L947.3 3270.2L950.1 3268.2L953.0 3266.3L955.9 3264.3L958.7 3262.4L961.6 3260.6L964.5 3258.7L967.4 3256.9L970.4 3255.1L973.3 3253.3L976.3 3251.6L979.2 3249.8L982.2 3248.1L985.2 3246.4L988.2 3244.8L991.2 3243.1L994.3 3241.5L997.3 3239.9L1000.4 3238.3L1003.4 3236.7L1006.5 3235.2L1009.6 3233.7L1012.7 3232.2L1015.8 3230.7L1018.9 3229.3L1022.1 3227.8L1025.2 3226.4L1028.4 3225.0L1031.5 3223.7L1034.7 3222.3L1037.9 3221.0L1041.1 3219.7L1044.3 3218.4L1047.5 3217.1L1050.7 3215.8L1053.9 3214.6L1057.2 3213.4L1060.4 3212.2L1063.7 3211.0L1066.9 3209.8L1070.2 3208.7L1073.5 3207.5L1076.8 3206.4L1080.1 3205.3L1083.4 3204.2L1086.7 3203.2L1090.0 3202.1L1093.3 3201.1L1096.7 3200.1L1100.0 3199.1L1103.4 3198.1L1106.7 3197.2L1110.1 3196.2L1113.4 3195.3L1116.8 3194.3L1120.2 3193.4L1123.6 3192.6L1127.0 3191.7L1130.4 3190.8L1133.8 3190.0L1137.2 3189.1L1140.6 3188.3L1144.0 3187.5L1147.4 3186.7L1150.8 3186.0L1154.3 3185.2L1157.7 3184.4L1161.2 3183.7L1164.6 3183.0L1168.0 3182.3L1171.5 3181.6L1174.9 3180.9L1178.4 3180.2L1181.9 3179.5L1185.3 3178.9L1188.8 3178.3L1192.3 3177.6L1195.7 3177.0L1199.2 3176.4L1202.7 3175.8L1206.2 3175.2L1209.7 3174.6L1213.1 3174.1L1216.6 3173.5L1220.1 3173.0L1223.6 3172.5L1227.1 3171.9L1230.6 3171.4L1234.1 3170.9L1237.6 3170.4L1241.1 3169.9L1244.6 3169.4L1248.1 3169.0L1251.6 3168.5L1255.1 3168.1L1258.6 3167.6L1262.1 3167.2L1265.5 3166.7L1269.0 3166.3L1272.5 3165.9L1276.0 3165.5L1279.5 3165.1L1283.0 3164.7L1286.5 3164.3L1290.0 3164.0L1293.5 3163.6L1297.0 3163.2L1300.5 3162.9L1304.0 3162.5L1307.5 3162.2L1311.0 3161.8L1314.5 3161.5L1318.0 3161.2L1321.4 3160.9L1324.9 3160.6L1328.4 3160.3L1331.9 3160.0L1335.4 3159.7L1338.9 3159.4L1342.4 3159.2L1345.9 3158.9L1349.4 3158.6L1352.9 3158.4L1356.4 3158.1L1359.8 3157.9L1363.3 3157.7L1366.8 3157.5L1370.3 3157.2L1373.8 3157.0L1377.3 3156.8L1380.8 3156.6L1384.3 3156.4L1387.8 3156.2L1391.2 3156.1L1394.7 3155.9L1398.2 3155.7L1401.7 3155.5L1405.2 3155.4L1408.7 3155.2L1412.2 3155.1L1415.7 3154.9L1419.1 3154.8L1422.6 3154.7L1426.1 3154.6L1429.6 3154.4L1433.1 3154.3L1436.6 3154.2L1440.1 3154.1L1443.5 3154.0L1447.0 3153.9L1450.5 3153.8L1454.0 3153.8L1457.5 3153.7L1461.0 3153.6L1464.5 3153.5L1467.9 3153.5L1471.4 3153.4L1474.9 3153.4L1478.4 3153.3L1481.9 3153.3L1485.4 3153.3L1488.9 3153.2L1492.3 3153.2L1495.8 3153.2L1499.3 3153.2L1502.8 3153.1L1506.3 3153.1L1509.8 3153.1L1513.2 3153.1L1516.7 3153.1L1520.2 3153.1L1523.7 3153.2L1527.2 3153.2L1530.7 3153.2L1534.2 3153.2L1537.6 3153.2L1541.1 3153.3L1544.6 3153.3L1548.1 3153.3L1551.6 3153.4L1555.1 3153.4L1558.5 3153.5L1562.0 3153.5L1565.5 3153.6L1569.0 3153.7L1572.5 3153.7L1576.0 3153.8L1579.4 3153.9L1582.9 3154.0L1586.4 3154.0L1589.9 3154.1L1593.4 3154.2L1596.9 3154.3L1600.3 3154.4L1603.8 3154.5L1607.3 3154.6L1610.8 3154.7L1614.3 3154.8L1617.7 3154.9L1621.2 3155.0L1624.7 3155.1L1628.2 3155.2L1631.7 3155.3L1635.2 3155.5L1638.6 3155.6L1642.1 3155.7L1645.6 3155.8L1649.1 3156.0L1652.6 3156.1L1656.1 3156.3L1659.5 3156.4L1663.0 3156.5L1666.5 3156.7L1670.0 3156.8L1673.5 3157.0L1677.0 3157.1L1680.4 3157.3L1683.9 3157.4L1687.4 3157.6L1690.9 3157.7L1694.4 3157.9L1697.9 3158.1L1701.3 3158.2L1704.8 3158.4L1708.3 3158.5L1711.8 3158.7L1715.3 3158.9L1718.8 3159.1L1722.3 3159.2L1725.7 3159.4L1729.2 3159.6L1732.7 3159.7L1736.2 3159.9L1739.7 3160.1L1743.2 3160.3L1746.6 3160.5L1750.1 3160.6L1753.6 3160.8L1757.1 3161.0L1760.6 3161.2L1764.1 3161.4L1767.6 3161.6L1771.0 3161.8L1774.5 3161.9L1778.0 3162.1L1781.5 3162.3L1785.0 3162.5L1788.5 3162.7L1792.0 3162.9L1795.4 3163.1L1798.9 3163.3L1802.4 3163.5L1805.9 3163.7L1809.4 3163.9L1812.9 3164.1L1816.4 3164.2L1819.8 3164.4L1823.3 3164.6L1826.8 3164.8L1830.3 3165.0L1833.8 3165.2L1837.3 3165.4L1840.8 3165.6L1844.3 3165.8L1847.7 3166.0L1851.2 3166.2L1854.7 3166.4L1858.2 3166.6L1861.7 3166.7L1865.2 3166.9L1868.7 3167.1L1872.2 3167.3L1875.7 3167.5L1879.1 3167.7L1882.6 3167.9L1886.1 3168.1L1889.6 3168.2L1893.1 3168.4L1896.6 3168.6L1900.1 3168.8L1903.6 3169.0L1907.1 3169.2L1910.6 3169.3L1914.1 3169.5L1917.6 3169.7L1921.0 3169.9L1924.5 3170.0L1928.0 3170.2L1931.5 3170.4L1935.0 3170.6L1938.5 3170.7L1942.0 3170.9L1945.5 3171.1L1949.0 3171.2L1952.5 3171.4L1956.0 3171.5L1959.5 3171.7L1963.0 3171.9L1966.5 3172.0L1970.0 3172.2L1973.4 3172.3L1976.9 3172.5L1980.4 3172.7L1983.9 3172.8L1987.4 3173.0L1990.9 3173.1L1994.4 3173.3L1997.9 3173.4L2001.4 3173.6L2004.9 3173.7L2008.4 3173.9L2011.9 3174.0L2015.4 3174.2L2018.9 3174.3L2022.4 3174.5L2025.9 3174.6L2029.4 3174.8L2032.9 3174.9L2036.4 3175.1L2039.9 3175.2L2043.4 3175.4L2046.8 3175.5L2050.3 3175.7L2053.8 3175.8L2057.3 3176.0L2060.8 3176.1L2064.3 3176.3L2067.8 3176.4L2071.3 3176.6L2074.8 3176.7L2078.3 3176.9L2081.8 3177.0L2085.3 3177.2L2088.8 3177.3L2092.3 3177.5L2095.8 3177.6L2099.3 3177.8L2102.8 3177.9L2106.2 3178.1L2109.7 3178.3L2113.2 3178.4L2116.7 3178.6L2120.2 3178.7L2123.7 3178.9L2127.2 3179.0L2130.7 3179.2L2134.2 3179.4L2137.7 3179.5L2141.2 3179.7L2144.6 3179.8L2148.1 3180.0L2151.6 3180.2L2155.1 3180.3L2158.6 3180.5L2162.1 3180.7L2165.6 3180.9L2169.1 3181.0L2172.6 3181.2L2176.0 3181.4L2179.5 3181.6L2183.0 3181.7L2186.5 3181.9L2190.0 3182.1L2193.5 3182.3L2197.0 3182.5L2200.4 3182.6L2203.9 3182.8L2207.4 3183.0L2210.9 3183.2L2214.4 3183.4L2217.9 3183.6L2221.3 3183.8L2224.8 3184.0L2228.3 3184.2L2231.8 3184.4L2235.3 3184.6L2238.7 3184.8L2242.2 3185.0L2245.7 3185.2L2249.2 3185.5L2252.6 3185.7L2256.1 3185.9L2259.6 3186.1L2263.1 3186.3L2266.5 3186.6L2270.0 3186.8L2273.5 3187.0L2277.0 3187.3L2280.4 3187.5L2283.9 3187.7L2287.4 3188.0L2290.9 3188.2L2294.3 3188.5L2297.8 3188.7L2301.3 3189.0L2304.7 3189.2L2308.2 3189.5L2311.7 3189.7L2315.1 3190.0L2318.6 3190.3L2322.1 3190.5L2325.5 3190.8L2329.0 3191.1L2332.4 3191.4L2335.9 3191.7L2339.4 3191.9L2342.8 3192.2L2346.3 3192.5L2349.7 3192.8" stroke="#404040" stroke-width="3.2" fill="none" stroke-linejoin="round" stroke-linecap="butt"/>
<path d="M311.6 3987.5L330.5 3960.8L333.9 3961.7L337.3 3962.6L340.7 3963.4L344.1 3964.1L347.5 3964.7L350.9 3965.3L354.3 3965.8L357.8 3966.2L361.2 3966.6L364.6 3966.9L368.0 3967.1L371.5 3967.3L374.9 3967.4L378.3 3967.5L381.8 3967.5L385.2 3967.5L388.6 3967.4L392.1 3967.2L395.5 3967.0L399.0 3966.8L402.4 3966.5L405.8 3966.2L409.3 3965.8L412.7 3965.4L416.1 3965.0L419.6 3964.5L423.0 3964.0L426.4 3963.5L429.8 3962.9L433.3 3962.3L436.7 3961.6L440.1 3961.0L443.5 3960.3L446.9 3959.6L450.3 3958.8L453.7 3958.1L457.1 3957.3L460.5 3956.5L463.8 3955.7L467.2 3954.8L470.5 3953.9L473.9 3953.0L477.2 3952.0L480.5 3951.1L483.8 3950.0L487.0 3948.9L490.3 3947.8L493.5 3946.7L496.7 3945.4L499.8 3944.2L503.0 3942.9L506.1 3941.5L509.2 3940.1L512.2 3938.6L515.2 3937.0L518.2 3935.4L521.2 3933.7L524.1 3932.0L526.9 3930.2L529.7 3928.3L532.5 3926.3L535.3 3924.3L538.0 3922.2L540.6 3920.0L543.2 3917.8L545.8 3915.5L548.3 3913.1L550.8 3910.7L553.3 3908.3L555.7 3905.8L558.0 3903.2L560.3 3900.6L562.6 3897.9L564.8 3895.2L567.0 3892.5L569.2 3889.7L571.3 3886.9L573.3 3884.0L575.3 3881.1L577.3 3878.2L579.2 3875.2L581.1 3872.3L583.0 3869.3L584.8 3866.3L586.5 3863.2L588.2 3860.2L589.9 3857.1L591.5 3854.0L593.1 3850.9L594.6 3847.8L596.1 3844.7L597.5 3841.6L599.0 3838.4L600.4 3835.3L601.7 3832.1L603.0 3828.9L604.3 3825.8L605.6 3822.6L606.9 3819.4L608.1 3816.2L609.3 3813.0L610.5 3809.8L611.7 3806.6L612.8 3803.4L614.0 3800.1L615.1 3796.9L616.2 3793.7L617.4 3790.5L618.5 3787.2L619.6 3784.0L620.7 3780.8L621.8 3777.5L622.9 3774.3L624.0 3771.0L625.1 3767.8L626.3 3764.6L627.4 3761.3L628.5 3758.1L629.6 3754.9L630.7 3751.6L631.9 3748.4L633.0 3745.1L634.1 3741.9L635.2 3738.7L636.4 3735.4L637.5 3732.2L638.6 3729.0L639.8 3725.7L640.9 3722.5L642.1 3719.3L643.2 3716.0L644.4 3712.8L645.5 3709.6L646.7 3706.3L647.9 3703.1L649.0 3699.9L650.2 3696.7L651.4 3693.4L652.6 3690.2L653.8 3687.0L654.9 3683.8L656.1 3680.6L657.3 3677.3L658.5 3674.1L659.8 3670.9L661.0 3667.7L662.2 3664.5L663.4 3661.3L664.6 3658.1L665.9 3654.9L667.1 3651.7L668.4 3648.5L669.6 3645.3L670.9 3642.1L672.1 3638.9L673.4 3635.7L674.7 3632.5L676.0 3629.4L677.3 3626.2L678.6 3623.0L679.9 3619.8L681.2 3616.7L682.5 3613.5L683.9 3610.3L685.2 3607.2L686.5 3604.0L687.9 3600.9L689.2 3597.7L690.6 3594.6L692.0 3591.4L693.4 3588.3L694.8 3585.1L696.2 3582.0L697.6 3578.9L699.0 3575.8L700.4 3572.6L701.9 3569.5L703.3 3566.4L704.8 3563.3L706.2 3560.2L707.7 3557.1L709.2 3554.0L710.7 3550.9L712.2 3547.8L713.7 3544.8L715.2 3541.7L716.8 3538.6L718.3 3535.6L719.9 3532.5L721.4 3529.4L723.0 3526.4L724.6 3523.4L726.2 3520.3L727.8 3517.3L729.4 3514.3L731.1 3511.2L732.7 3508.2L734.4 3505.2L736.0 3502.2L737.7 3499.2L739.4 3496.2L741.1 3493.2L742.8 3490.2L744.5 3487.3L746.3 3484.3L748.0 3481.3L749.8 3478.4L751.6 3475.4L753.4 3472.5L755.2 3469.5L757.0 3466.6L758.8 3463.7L760.7 3460.8L762.5 3457.9L764.4 3455.0L766.3 3452.1L768.2 3449.2L770.1 3446.4L772.0 3443.5L774.0 3440.7L775.9 3437.8L777.9 3435.0L779.9 3432.2L781.9 3429.4L783.9 3426.7L785.9 3423.9L787.9 3421.1L789.9 3418.4L792.0 3415.7L794.1 3413.0L796.2 3410.3L798.2 3407.6L800.4 3405.0L802.5 3402.3L804.6 3399.7L806.8 3397.1L808.9 3394.5L811.1 3391.9L813.3 3389.4L815.5 3386.8L817.7 3384.3L820.0 3381.8L822.2 3379.3L824.5 3376.9L826.8 3374.4L829.2 3372.0L831.5 3369.6L833.9 3367.2L836.2 3364.9L838.7 3362.5L841.1 3360.2L843.5 3357.9L846.0 3355.7L848.5 3353.4L851.0 3351.2L853.5 3349.0L856.1 3346.8L858.7 3344.7L861.3 3342.6L863.9 3340.5L866.5 3338.4L869.2 3336.3L871.8 3334.3L874.5 3332.3L877.2 3330.3L879.9 3328.3L882.7 3326.4L885.4 3324.5L888.2 3322.6L891.0 3320.7L893.8 3318.8L896.6 3317.0L899.5 3315.2L902.4 3313.4L905.2 3311.6L908.1 3309.8L911.0 3308.1L913.9 3306.4L916.9 3304.7L919.8 3303.0L922.8 3301.4L925.8 3299.7L928.8 3298.1L931.8 3296.5L934.8 3295.0L937.8 3293.4L940.9 3291.9L943.9 3290.4L947.0 3288.9L950.1 3287.4L953.2 3285.9L956.3 3284.5L959.4 3283.1L962.6 3281.7L965.7 3280.3L968.8 3278.9L972.0 3277.6L975.2 3276.2L978.4 3274.9L981.6 3273.6L984.8 3272.3L988.0 3271.1L991.2 3269.8L994.4 3268.6L997.7 3267.4L1000.9 3266.2L1004.2 3265.0L1007.5 3263.9L1010.7 3262.7L1014.0 3261.6L1017.3 3260.5L1020.6 3259.4L1023.9 3258.3L1027.2 3257.3L1030.5 3256.2L1033.9 3255.2L1037.2 3254.2L1040.5 3253.2L1043.9 3252.2L1047.2 3251.2L1050.6 3250.3L1053.9 3249.3L1057.3 3248.4L1060.7 3247.5L1064.0 3246.6L1067.4 3245.7L1070.8 3244.8L1074.2 3244.0L1077.6 3243.1L1080.9 3242.3L1084.3 3241.5L1087.7 3240.7L1091.1 3239.9L1094.5 3239.1L1097.9 3238.4L1101.3 3237.6L1104.7 3236.9L1108.1 3236.2L1111.5 3235.5L1114.9 3234.8L1118.3 3234.1L1121.7 3233.4L1125.1 3232.8L1128.6 3232.1L1132.0 3231.5L1135.4 3230.9L1138.8 3230.2L1142.2 3229.6L1145.6 3229.1L1149.0 3228.5L1152.4 3227.9L1155.8 3227.4L1159.2 3226.8L1162.7 3226.3L1166.1 3225.8L1169.5 3225.3L1172.9 3224.8L1176.3 3224.3L1179.7 3223.8L1183.2 3223.3L1186.6 3222.9L1190.0 3222.4L1193.4 3222.0L1196.8 3221.6L1200.2 3221.2L1203.7 3220.8L1207.1 3220.4L1210.5 3220.0L1213.9 3219.6L1217.4 3219.2L1220.8 3218.9L1224.2 3218.5L1227.6 3218.2L1231.0 3217.9L1234.5 3217.6L1237.9 3217.3L1241.3 3217.0L1244.7 3216.7L1248.2 3216.4L1251.6 3216.1L1255.0 3215.9L1258.5 3215.6L1261.9 3215.4L1265.3 3215.1L1268.7 3214.9L1272.2 3214.7L1275.6 3214.5L1279.0 3214.3L1282.5 3214.1L1285.9 3213.9L1289.3 3213.7L1292.8 3213.6L1296.2 3213.4L1299.6 3213.2L1303.1 3213.1L1306.5 3213.0L1309.9 3212.8L1313.4 3212.7L1316.8 3212.6L1320.2 3212.5L1323.7 3212.4L1327.1 3212.3L1330.5 3212.2L1334.0 3212.1L1337.4 3212.0L1340.9 3212.0L1344.3 3211.9L1347.7 3211.8L1351.2 3211.8L1354.6 3211.8L1358.0 3211.7L1361.5 3211.7L1364.9 3211.7L1368.4 3211.6L1371.8 3211.6L1375.2 3211.6L1378.7 3211.6L1382.1 3211.6L1385.6 3211.6L1389.0 3211.7L1392.4 3211.7L1395.9 3211.7L1399.3 3211.7L1402.8 3211.8L1406.2 3211.8L1409.7 3211.9L1413.1 3211.9L1416.5 3212.0L1420.0 3212.0L1423.4 3212.1L1426.9 3212.2L1430.3 3212.2L1433.8 3212.3L1437.2 3212.4L1440.6 3212.5L1444.1 3212.6L1447.5 3212.7L1451.0 3212.8L1454.4 3212.9L1457.9 3213.0L1461.3 3213.1L1464.8 3213.2L1468.2 3213.3L1471.7 3213.4L1475.1 3213.6L1478.5 3213.7L1482.0 3213.8L1485.4 3213.9L1488.9 3214.1L1492.3 3214.2L1495.8 3214.3L1499.2 3214.5L1502.7 3214.6L1506.1 3214.8L1509.6 3214.9L1513.0 3215.1L1516.5 3215.2L1519.9 3215.4L1523.3 3215.6L1526.8 3215.7L1530.2 3215.9L1533.7 3216.0L1537.1 3216.2L1540.6 3216.4L1544.0 3216.5L1547.5 3216.7L1550.9 3216.9L1554.4 3217.0L1557.8 3217.2L1561.3 3217.4L1564.7 3217.6L1568.2 3217.7L1571.6 3217.9L1575.0 3218.1L1578.5 3218.3L1581.9 3218.5L1585.4 3218.6L1588.8 3218.8L1592.3 3219.0L1595.7 3219.2L1599.2 3219.3L1602.6 3219.5L1606.1 3219.7L1609.5 3219.9L1613.0 3220.1L1616.4 3220.2L1619.9 3220.4L1623.3 3220.6L1626.7 3220.8L1630.2 3221.0L1633.6 3221.1L1637.1 3221.3L1640.5 3221.5L1644.0 3221.7L1647.4 3221.9L1650.9 3222.0L1654.3 3222.2L1657.8 3222.4L1661.2 3222.6L1664.6 3222.7L1668.1 3222.9L1671.5 3223.1L1675.0 3223.3L1678.4 3223.5L1681.9 3223.6L1685.3 3223.8L1688.8 3224.0L1692.2 3224.2L1695.6 3224.3L1699.1 3224.5L1702.5 3224.7L1706.0 3224.9L1709.4 3225.0L1712.9 3225.2L1716.3 3225.4L1719.7 3225.6L1723.2 3225.8L1726.6 3225.9L1730.1 3226.1L1733.5 3226.3L1737.0 3226.5L1740.4 3226.6L1743.9 3226.8L1747.3 3227.0L1750.7 3227.2L1754.2 3227.3L1757.6 3227.5L1761.1 3227.7L1764.5 3227.9L1768.0 3228.0L1771.4 3228.2L1774.8 3228.4L1778.3 3228.6L1781.7 3228.7L1785.2 3228.9L1788.6 3229.1L1792.1 3229.3L1795.5 3229.4L1798.9 3229.6L1802.4 3229.8L1805.8 3230.0L1809.3 3230.1L1812.7 3230.3L1816.2 3230.5L1819.6 3230.6L1823.0 3230.8L1826.5 3231.0L1829.9 3231.2L1833.4 3231.3L1836.8 3231.5L1840.3 3231.7L1843.7 3231.9L1847.1 3232.0L1850.6 3232.2L1854.0 3232.4L1857.5 3232.5L1860.9 3232.7L1864.4 3232.9L1867.8 3233.1L1871.2 3233.2L1874.7 3233.4L1878.1 3233.6L1881.6 3233.7L1885.0 3233.9L1888.4 3234.1L1891.9 3234.3L1895.3 3234.4L1898.8 3234.6L1902.2 3234.8L1905.7 3234.9L1909.1 3235.1L1912.5 3235.3L1916.0 3235.4L1919.4 3235.6L1922.9 3235.8L1926.3 3235.9L1929.7 3236.1L1933.2 3236.3L1936.6 3236.5L1940.1 3236.6L1943.5 3236.8L1947.0 3237.0L1950.4 3237.1L1953.8 3237.3L1957.3 3237.5L1960.7 3237.6L1964.2 3237.8L1967.6 3238.0L1971.1 3238.1L1974.5 3238.3L1977.9 3238.5L1981.4 3238.6L1984.8 3238.8L1988.3 3239.0L1991.7 3239.1L1995.1 3239.3L1998.6 3239.5L2002.0 3239.6L2005.5 3239.8L2008.9 3240.0L2012.4 3240.1L2015.8 3240.3L2019.2 3240.5L2022.7 3240.6L2026.1 3240.8L2029.6 3240.9L2033.0 3241.1L2036.4 3241.3L2039.9 3241.4L2043.3 3241.6L2046.8 3241.8L2050.2 3241.9L2053.7 3242.1L2057.1 3242.3L2060.5 3242.4L2064.0 3242.6L2067.4 3242.7L2070.9 3242.9L2074.3 3243.1L2077.7 3243.2L2081.2 3243.4L2084.6 3243.5L2088.1 3243.7L2091.5 3243.9L2095.0 3244.0L2098.4 3244.2L2101.8 3244.4L2105.3 3244.5L2108.7 3244.7L2112.2 3244.8L2115.6 3245.0L2119.1 3245.1L2122.5 3245.3L2125.9 3245.5L2129.4 3245.6L2132.8 3245.8L2136.3 3245.9L2139.7 3246.1L2143.2 3246.3L2146.6 3246.4L2150.0 3246.6L2153.5 3246.7L2156.9 3246.9L2160.4 3247.0L2163.8 3247.2L2167.3 3247.4L2170.7 3247.5L2174.1 3247.7L2177.6 3247.8L2181.0 3248.0L2184.5 3248.1L2187.9 3248.3L2191.4 3248.4L2194.8 3248.6L2198.2 3248.8L2201.7 3248.9L2205.1 3249.1L2208.6 3249.2L2212.0 3249.4L2215.5 3249.5L2218.9 3249.7L2222.3 3249.8L2225.8 3250.0L2229.2 3250.1L2232.7 3250.3L2236.1 3250.4L2239.6 3250.6L2243.0 3250.7L2246.5 3250.9L2249.9 3251.0L2253.3 3251.2L2256.8 3251.3L2260.2 3251.5L2263.7 3251.6L2267.1 3251.8L2270.6 3251.9L2274.0 3252.1L2277.4 3252.2L2280.9 3252.4L2284.3 3252.5L2287.8 3252.7L2291.2 3252.8L2294.7 3253.0L2298.1 3253.1L2301.6 3253.3L2305.0 3253.4L2308.5 3253.6L2311.9 3253.7L2315.3 3253.9L2318.8 3254.0L2322.2 3254.2L2325.7 3254.3L2329.1 3254.5L2332.6 3254.6L2336.0 3254.7L2339.5 3254.9L2342.9 3255.0L2346.4 3255.2L2349.8 3255.3" stroke="#00b050" stroke-width="3.2" fill="none" stroke-linejoin="round" stroke-linecap="butt"/>
<path d="M311.6 3956.1L320.3 3973.4L330.5 3957.7L333.7 3958.5L336.9 3959.2L340.1 3959.9L343.4 3960.5L346.7 3961.1L350.0 3961.6L353.4 3962.0L356.7 3962.4L360.1 3962.8L363.6 3963.1L367.0 3963.4L370.4 3963.6L373.9 3963.7L377.4 3963.8L380.8 3963.9L384.3 3963.9L387.9 3963.8L391.4 3963.7L394.9 3963.6L398.4 3963.4L401.9 3963.1L405.5 3962.8L409.0 3962.4L412.5 3962.0L416.1 3961.6L419.6 3961.0L423.1 3960.5L426.6 3959.9L430.1 3959.2L433.6 3958.5L437.1 3957.7L440.5 3956.9L444.0 3956.0L447.4 3955.1L450.9 3954.2L454.3 3953.1L457.6 3952.1L461.0 3951.0L464.3 3949.8L467.6 3948.6L470.9 3947.3L474.2 3946.0L477.4 3944.6L480.6 3943.2L483.7 3941.7L486.9 3940.2L490.0 3938.6L493.0 3937.0L496.0 3935.4L499.0 3933.6L502.0 3931.9L504.8 3930.1L507.7 3928.2L510.5 3926.3L513.3 3924.3L516.0 3922.3L518.6 3920.3L521.2 3918.2L523.8 3916.0L526.3 3913.8L528.7 3911.5L531.1 3909.2L533.4 3906.9L535.7 3904.5L537.9 3902.1L540.1 3899.6L542.2 3897.0L544.3 3894.5L546.3 3891.9L548.2 3889.2L550.2 3886.5L552.0 3883.8L553.9 3881.0L555.7 3878.2L557.4 3875.4L559.1 3872.5L560.8 3869.6L562.4 3866.7L564.0 3863.7L565.6 3860.8L567.1 3857.8L568.6 3854.7L570.1 3851.7L571.5 3848.6L572.9 3845.5L574.3 3842.3L575.7 3839.2L577.0 3836.0L578.3 3832.8L579.6 3829.6L580.9 3826.4L582.2 3823.2L583.4 3819.9L584.6 3816.7L585.8 3813.4L587.0 3810.1L588.2 3806.9L589.4 3803.6L590.5 3800.3L591.7 3797.0L592.8 3793.6L593.9 3790.3L595.1 3787.0L596.2 3783.7L597.3 3780.4L598.5 3777.1L599.6 3773.8L600.7 3770.5L601.8 3767.2L603.0 3763.9L604.1 3760.6L605.2 3757.3L606.4 3754.0L607.5 3750.7L608.6 3747.4L609.8 3744.1L610.9 3740.8L612.0 3737.5L613.2 3734.2L614.3 3731.0L615.4 3727.7L616.6 3724.4L617.7 3721.1L618.9 3717.9L620.0 3714.6L621.2 3711.3L622.3 3708.1L623.5 3704.8L624.7 3701.6L625.8 3698.3L627.0 3695.1L628.2 3691.8L629.4 3688.6L630.5 3685.3L631.7 3682.1L632.9 3678.9L634.1 3675.6L635.3 3672.4L636.5 3669.2L637.7 3666.0L639.0 3662.8L640.2 3659.6L641.4 3656.3L642.6 3653.1L643.9 3649.9L645.1 3646.7L646.4 3643.6L647.6 3640.4L648.9 3637.2L650.2 3634.0L651.4 3630.8L652.7 3627.7L654.0 3624.5L655.3 3621.3L656.6 3618.2L657.9 3615.0L659.3 3611.9L660.6 3608.7L661.9 3605.6L663.3 3602.4L664.6 3599.3L666.0 3596.2L667.4 3593.1L668.8 3589.9L670.2 3586.8L671.6 3583.7L673.0 3580.6L674.4 3577.5L675.8 3574.4L677.3 3571.3L678.7 3568.3L680.2 3565.2L681.7 3562.1L683.1 3559.0L684.6 3556.0L686.1 3552.9L687.7 3549.9L689.2 3546.8L690.7 3543.8L692.3 3540.8L693.8 3537.7L695.4 3534.7L697.0 3531.7L698.6 3528.7L700.2 3525.7L701.8 3522.7L703.5 3519.7L705.1 3516.7L706.8 3513.7L708.4 3510.8L710.1 3507.8L711.8 3504.8L713.6 3501.9L715.3 3498.9L717.0 3496.0L718.8 3493.0L720.6 3490.1L722.4 3487.2L724.2 3484.3L726.0 3481.4L727.8 3478.5L729.7 3475.6L731.5 3472.7L733.4 3469.8L735.3 3466.9L737.2 3464.1L739.1 3461.2L741.1 3458.3L743.0 3455.5L745.0 3452.7L747.0 3449.9L749.0 3447.0L751.0 3444.2L753.0 3441.4L755.1 3438.7L757.1 3435.9L759.2 3433.1L761.3 3430.4L763.4 3427.6L765.5 3424.9L767.7 3422.2L769.8 3419.5L772.0 3416.8L774.2 3414.1L776.4 3411.5L778.6 3408.8L780.8 3406.2L783.1 3403.5L785.3 3400.9L787.6 3398.3L789.9 3395.7L792.2 3393.2L794.5 3390.6L796.8 3388.1L799.2 3385.6L801.6 3383.1L803.9 3380.6L806.3 3378.1L808.8 3375.6L811.2 3373.2L813.6 3370.8L816.1 3368.4L818.6 3366.0L821.1 3363.6L823.6 3361.3L826.1 3358.9L828.6 3356.6L831.2 3354.3L833.7 3352.0L836.3 3349.8L838.9 3347.5L841.5 3345.3L844.2 3343.1L846.8 3340.9L849.5 3338.8L852.1 3336.7L854.8 3334.5L857.5 3332.4L860.3 3330.4L863.0 3328.3L865.7 3326.3L868.5 3324.3L871.3 3322.3L874.1 3320.4L876.9 3318.4L879.7 3316.5L882.6 3314.6L885.5 3312.8L888.3 3310.9L891.2 3309.1L894.1 3307.3L897.1 3305.6L900.0 3303.8L902.9 3302.1L905.9 3300.4L908.9 3298.8L911.9 3297.1L914.9 3295.5L917.9 3293.9L921.0 3292.4L924.0 3290.8L927.1 3289.3L930.2 3287.8L933.3 3286.3L936.4 3284.9L939.5 3283.5L942.6 3282.0L945.8 3280.7L948.9 3279.3L952.1 3278.0L955.3 3276.6L958.5 3275.3L961.7 3274.1L964.9 3272.8L968.1 3271.6L971.3 3270.4L974.6 3269.2L977.8 3268.0L981.1 3266.8L984.4 3265.7L987.6 3264.6L990.9 3263.5L994.2 3262.4L997.5 3261.3L1000.8 3260.3L1004.1 3259.3L1007.5 3258.2L1010.8 3257.2L1014.1 3256.3L1017.5 3255.3L1020.8 3254.4L1024.2 3253.4L1027.6 3252.5L1030.9 3251.6L1034.3 3250.7L1037.7 3249.9L1041.1 3249.0L1044.5 3248.2L1047.9 3247.3L1051.3 3246.5L1054.7 3245.7L1058.1 3244.9L1061.5 3244.2L1064.9 3243.4L1068.3 3242.7L1071.7 3241.9L1075.1 3241.2L1078.6 3240.5L1082.0 3239.8L1085.4 3239.1L1088.8 3238.4L1092.3 3237.8L1095.7 3237.1L1099.1 3236.5L1102.6 3235.8L1106.0 3235.2L1109.4 3234.6L1112.8 3234.0L1116.3 3233.4L1119.7 3232.8L1123.1 3232.2L1126.6 3231.7L1130.0 3231.1L1133.4 3230.6L1136.8 3230.0L1140.3 3229.5L1143.7 3229.0L1147.1 3228.5L1150.5 3228.0L1154.0 3227.5L1157.4 3227.0L1160.8 3226.5L1164.2 3226.0L1167.7 3225.6L1171.1 3225.1L1174.5 3224.6L1177.9 3224.2L1181.3 3223.8L1184.8 3223.4L1188.2 3222.9L1191.6 3222.5L1195.0 3222.1L1198.4 3221.7L1201.9 3221.4L1205.3 3221.0L1208.7 3220.6L1212.1 3220.3L1215.5 3219.9L1219.0 3219.6L1222.4 3219.2L1225.8 3218.9L1229.2 3218.6L1232.6 3218.3L1236.0 3217.9L1239.5 3217.6L1242.9 3217.3L1246.3 3217.1L1249.7 3216.8L1253.1 3216.5L1256.5 3216.2L1259.9 3216.0L1263.4 3215.7L1266.8 3215.5L1270.2 3215.2L1273.6 3215.0L1277.0 3214.8L1280.4 3214.6L1283.8 3214.4L1287.2 3214.1L1290.7 3213.9L1294.1 3213.8L1297.5 3213.6L1300.9 3213.4L1304.3 3213.2L1307.7 3213.0L1311.1 3212.9L1314.5 3212.7L1317.9 3212.6L1321.4 3212.4L1324.8 3212.3L1328.2 3212.1L1331.6 3212.0L1335.0 3211.9L1338.4 3211.8L1341.8 3211.7L1345.2 3211.6L1348.6 3211.5L1352.0 3211.4L1355.5 3211.3L1358.9 3211.2L1362.3 3211.1L1365.7 3211.0L1369.1 3211.0L1372.5 3210.9L1375.9 3210.8L1379.3 3210.8L1382.7 3210.7L1386.1 3210.7L1389.5 3210.6L1393.0 3210.6L1396.4 3210.6L1399.8 3210.5L1403.2 3210.5L1406.6 3210.5L1410.0 3210.5L1413.4 3210.5L1416.8 3210.5L1420.2 3210.5L1423.6 3210.5L1427.0 3210.5L1430.5 3210.5L1433.9 3210.5L1437.3 3210.5L1440.7 3210.5L1444.1 3210.6L1447.5 3210.6L1450.9 3210.6L1454.3 3210.7L1457.7 3210.7L1461.1 3210.7L1464.6 3210.8L1468.0 3210.8L1471.4 3210.9L1474.8 3211.0L1478.2 3211.0L1481.6 3211.1L1485.0 3211.1L1488.4 3211.2L1491.8 3211.3L1495.2 3211.4L1498.7 3211.4L1502.1 3211.5L1505.5 3211.6L1508.9 3211.7L1512.3 3211.8L1515.7 3211.9L1519.1 3212.0L1522.5 3212.1L1526.0 3212.2L1529.4 3212.3L1532.8 3212.4L1536.2 3212.5L1539.6 3212.6L1543.0 3212.7L1546.4 3212.8L1549.9 3212.9L1553.3 3213.1L1556.7 3213.2L1560.1 3213.3L1563.5 3213.4L1566.9 3213.5L1570.4 3213.7L1573.8 3213.8L1577.2 3213.9L1580.6 3214.1L1584.0 3214.2L1587.4 3214.3L1590.9 3214.5L1594.3 3214.6L1597.7 3214.7L1601.1 3214.9L1604.5 3215.0L1608.0 3215.2L1611.4 3215.3L1614.8 3215.4L1618.2 3215.6L1621.6 3215.7L1625.1 3215.9L1628.5 3216.0L1631.9 3216.2L1635.3 3216.3L1638.8 3216.5L1642.2 3216.6L1645.6 3216.8L1649.0 3216.9L1652.5 3217.1L1655.9 3217.3L1659.3 3217.4L1662.7 3217.6L1666.2 3217.7L1669.6 3217.9L1673.0 3218.0L1676.4 3218.2L1679.9 3218.4L1683.3 3218.5L1686.7 3218.7L1690.2 3218.9L1693.6 3219.0L1697.0 3219.2L1700.4 3219.4L1703.9 3219.5L1707.3 3219.7L1710.7 3219.9L1714.2 3220.1L1717.6 3220.2L1721.0 3220.4L1724.4 3220.6L1727.9 3220.7L1731.3 3220.9L1734.7 3221.1L1738.2 3221.3L1741.6 3221.4L1745.0 3221.6L1748.5 3221.8L1751.9 3222.0L1755.3 3222.2L1758.8 3222.3L1762.2 3222.5L1765.6 3222.7L1769.1 3222.9L1772.5 3223.1L1775.9 3223.3L1779.4 3223.4L1782.8 3223.6L1786.2 3223.8L1789.7 3224.0L1793.1 3224.2L1796.5 3224.4L1800.0 3224.6L1803.4 3224.7L1806.9 3224.9L1810.3 3225.1L1813.7 3225.3L1817.2 3225.5L1820.6 3225.7L1824.0 3225.9L1827.5 3226.1L1830.9 3226.3L1834.3 3226.4L1837.8 3226.6L1841.2 3226.8L1844.7 3227.0L1848.1 3227.2L1851.5 3227.4L1855.0 3227.6L1858.4 3227.8L1861.8 3228.0L1865.3 3228.2L1868.7 3228.4L1872.2 3228.6L1875.6 3228.8L1879.0 3229.0L1882.5 3229.1L1885.9 3229.3L1889.4 3229.5L1892.8 3229.7L1896.2 3229.9L1899.7 3230.1L1903.1 3230.3L1906.5 3230.5L1910.0 3230.7L1913.4 3230.9L1916.9 3231.1L1920.3 3231.3L1923.7 3231.5L1927.2 3231.7L1930.6 3231.9L1934.1 3232.1L1937.5 3232.3L1940.9 3232.5L1944.4 3232.7L1947.8 3232.9L1951.3 3233.1L1954.7 3233.3L1958.1 3233.5L1961.6 3233.6L1965.0 3233.8L1968.5 3234.0L1971.9 3234.2L1975.3 3234.4L1978.8 3234.6L1982.2 3234.8L1985.7 3235.0L1989.1 3235.2L1992.6 3235.4L1996.0 3235.6L1999.4 3235.8L2002.9 3236.0L2006.3 3236.2L2009.8 3236.4L2013.2 3236.6L2016.6 3236.8L2020.1 3236.9L2023.5 3237.1L2027.0 3237.3L2030.4 3237.5L2033.8 3237.7L2037.3 3237.9L2040.7 3238.1L2044.2 3238.3L2047.6 3238.5L2051.0 3238.7L2054.5 3238.8L2057.9 3239.0L2061.4 3239.2L2064.8 3239.4L2068.2 3239.6L2071.7 3239.8L2075.1 3240.0L2078.6 3240.2L2082.0 3240.3L2085.4 3240.5L2088.9 3240.7L2092.3 3240.9L2095.7 3241.1L2099.2 3241.3L2102.6 3241.4L2106.1 3241.6L2109.5 3241.8L2112.9 3242.0L2116.4 3242.2L2119.8 3242.3L2123.3 3242.5L2126.7 3242.7L2130.1 3242.9L2133.6 3243.0L2137.0 3243.2L2140.4 3243.4L2143.9 3243.6L2147.3 3243.7L2150.8 3243.9L2154.2 3244.1L2157.6 3244.2L2161.1 3244.4L2164.5 3244.6L2167.9 3244.7L2171.4 3244.9L2174.8 3245.1L2178.2 3245.2L2181.7 3245.4L2185.1 3245.6L2188.6 3245.7L2192.0 3245.9L2195.4 3246.1L2198.9 3246.2L2202.3 3246.4L2205.7 3246.5L2209.2 3246.7L2212.6 3246.8L2216.0 3247.0L2219.5 3247.2L2222.9 3247.3L2226.3 3247.5L2229.8 3247.6L2233.2 3247.8L2236.6 3247.9L2240.1 3248.1L2243.5 3248.2L2246.9 3248.4L2250.4 3248.5L2253.8 3248.6L2257.2 3248.8L2260.6 3248.9L2264.1 3249.1L2267.5 3249.2L2270.9 3249.3L2274.4 3249.5L2277.8 3249.6L2281.2 3249.7L2284.7 3249.9L2288.1 3250.0L2291.5 3250.1L2294.9 3250.3L2298.4 3250.4L2301.8 3250.5L2305.2 3250.6L2308.6 3250.8L2312.1 3250.9L2315.5 3251.0L2318.9 3251.1L2322.4 3251.3L2325.8 3251.4L2329.2 3251.5L2332.6 3251.6L2336.0 3251.7L2339.5 3251.8L2342.9 3251.9L2346.3 3252.0L2349.7 3252.2" stroke="#a8008c" stroke-width="3.2" fill="none" stroke-linejoin="round" stroke-linecap="butt"/>
<path d="M312.4 4047.1L329.7 3953L333.1 3953.9L336.5 3954.7L340.0 3955.5L343.4 3956.2L346.9 3956.8L350.3 3957.4L353.8 3957.9L357.3 3958.3L360.7 3958.7L364.2 3959.0L367.7 3959.3L371.2 3959.5L374.7 3959.7L378.1 3959.7L381.6 3959.8L385.1 3959.7L388.5 3959.6L392.0 3959.5L395.5 3959.3L398.9 3959.0L402.4 3958.7L405.8 3958.3L409.2 3957.8L412.6 3957.3L416.0 3956.8L419.4 3956.2L422.8 3955.5L426.1 3954.8L429.5 3954.0L432.8 3953.2L436.1 3952.3L439.4 3951.3L442.6 3950.3L445.9 3949.3L449.1 3948.2L452.3 3947.0L455.4 3945.8L458.6 3944.5L461.7 3943.2L464.8 3941.8L467.8 3940.4L470.9 3938.9L473.9 3937.4L476.8 3935.8L479.8 3934.1L482.7 3932.5L485.6 3930.7L488.4 3928.9L491.2 3927.1L493.9 3925.2L496.7 3923.3L499.3 3921.3L502.0 3919.2L504.6 3917.2L507.1 3915.0L509.6 3912.8L512.1 3910.6L514.5 3908.3L516.9 3906.0L519.2 3903.6L521.5 3901.2L523.7 3898.8L525.9 3896.3L528.0 3893.7L530.1 3891.1L532.1 3888.4L534.1 3885.8L536.0 3883.0L537.9 3880.3L539.8 3877.5L541.6 3874.6L543.3 3871.8L545.0 3868.9L546.7 3865.9L548.3 3863.0L549.9 3860.0L551.5 3857.0L553.0 3854.0L554.5 3851.0L556.0 3847.9L557.4 3844.8L558.9 3841.7L560.3 3838.6L561.6 3835.5L563.0 3832.4L564.3 3829.2L565.6 3826.1L566.9 3822.9L568.1 3819.8L569.4 3816.6L570.6 3813.4L571.8 3810.2L573.0 3807.0L574.2 3803.8L575.4 3800.6L576.5 3797.4L577.7 3794.2L578.8 3791.0L579.9 3787.7L581.0 3784.5L582.1 3781.3L583.2 3778.0L584.3 3774.8L585.3 3771.5L586.4 3768.3L587.5 3765.0L588.5 3761.8L589.6 3758.5L590.7 3755.2L591.7 3752.0L592.8 3748.7L593.8 3745.5L594.9 3742.2L595.9 3739.0L597.0 3735.7L598.1 3732.5L599.1 3729.2L600.2 3726.0L601.3 3722.7L602.4 3719.5L603.5 3716.2L604.6 3713.0L605.7 3709.8L606.9 3706.6L608.0 3703.3L609.1 3700.1L610.3 3696.9L611.5 3693.7L612.6 3690.5L613.8 3687.3L615.0 3684.1L616.2 3680.9L617.4 3677.8L618.6 3674.6L619.8 3671.4L621.1 3668.2L622.3 3665.1L623.6 3661.9L624.8 3658.8L626.1 3655.6L627.4 3652.5L628.7 3649.3L630.0 3646.2L631.3 3643.1L632.6 3640.0L634.0 3636.8L635.3 3633.7L636.7 3630.6L638.0 3627.5L639.4 3624.4L640.8 3621.3L642.2 3618.2L643.6 3615.2L645.0 3612.1L646.4 3609.0L647.9 3605.9L649.3 3602.9L650.8 3599.8L652.3 3596.8L653.8 3593.7L655.3 3590.7L656.8 3587.7L658.3 3584.6L659.8 3581.6L661.3 3578.6L662.9 3575.6L664.5 3572.6L666.0 3569.6L667.6 3566.6L669.2 3563.6L670.8 3560.6L672.5 3557.7L674.1 3554.7L675.7 3551.7L677.4 3548.8L679.1 3545.8L680.8 3542.9L682.5 3540.0L684.2 3537.0L685.9 3534.1L687.6 3531.2L689.4 3528.3L691.1 3525.4L692.9 3522.5L694.7 3519.6L696.5 3516.7L698.3 3513.8L700.1 3511.0L702.0 3508.1L703.8 3505.2L705.7 3502.4L707.6 3499.5L709.4 3496.7L711.3 3493.9L713.3 3491.0L715.2 3488.2L717.1 3485.4L719.1 3482.6L721.1 3479.8L723.1 3477.0L725.1 3474.2L727.1 3471.5L729.1 3468.7L731.2 3465.9L733.2 3463.2L735.3 3460.5L737.4 3457.7L739.5 3455.0L741.6 3452.3L743.7 3449.6L745.9 3446.9L748.0 3444.2L750.2 3441.6L752.4 3438.9L754.6 3436.3L756.8 3433.7L759.0 3431.0L761.3 3428.4L763.5 3425.9L765.8 3423.3L768.1 3420.7L770.4 3418.2L772.7 3415.6L775.0 3413.1L777.4 3410.6L779.7 3408.2L782.1 3405.7L784.5 3403.2L786.9 3400.8L789.3 3398.4L791.8 3396.0L794.2 3393.6L796.7 3391.3L799.2 3388.9L801.7 3386.6L804.2 3384.3L806.7 3382.0L809.3 3379.7L811.8 3377.5L814.4 3375.3L817.0 3373.1L819.6 3370.9L822.2 3368.7L824.9 3366.6L827.5 3364.5L830.2 3362.4L832.9 3360.3L835.6 3358.3L838.3 3356.3L841.0 3354.3L843.8 3352.3L846.5 3350.3L849.3 3348.4L852.1 3346.5L854.9 3344.6L857.7 3342.7L860.5 3340.9L863.4 3339.1L866.2 3337.3L869.1 3335.5L872.0 3333.8L874.9 3332.0L877.8 3330.3L880.7 3328.6L883.7 3326.9L886.6 3325.3L889.6 3323.6L892.6 3322.0L895.6 3320.4L898.6 3318.9L901.6 3317.3L904.6 3315.8L907.6 3314.3L910.7 3312.8L913.7 3311.3L916.8 3309.8L919.9 3308.4L922.9 3307.0L926.0 3305.6L929.1 3304.2L932.3 3302.8L935.4 3301.5L938.5 3300.2L941.7 3298.8L944.8 3297.5L948.0 3296.3L951.2 3295.0L954.3 3293.8L957.5 3292.5L960.7 3291.3L963.9 3290.1L967.1 3289.0L970.4 3287.8L973.6 3286.7L976.8 3285.5L980.1 3284.4L983.3 3283.3L986.6 3282.3L989.8 3281.2L993.1 3280.2L996.4 3279.1L999.7 3278.1L1003.0 3277.1L1006.3 3276.1L1009.6 3275.1L1012.9 3274.2L1016.2 3273.2L1019.5 3272.3L1022.8 3271.4L1026.1 3270.5L1029.5 3269.6L1032.8 3268.7L1036.1 3267.9L1039.5 3267.0L1042.8 3266.2L1046.2 3265.4L1049.5 3264.6L1052.9 3263.8L1056.3 3263.0L1059.6 3262.2L1063.0 3261.5L1066.4 3260.7L1069.7 3260.0L1073.1 3259.2L1076.5 3258.5L1079.9 3257.8L1083.2 3257.1L1086.6 3256.5L1090.0 3255.8L1093.4 3255.2L1096.8 3254.5L1100.2 3253.9L1103.5 3253.2L1106.9 3252.6L1110.3 3252.0L1113.7 3251.4L1117.1 3250.9L1120.5 3250.3L1123.9 3249.7L1127.3 3249.2L1130.7 3248.6L1134.0 3248.1L1137.4 3247.6L1140.8 3247.1L1144.2 3246.5L1147.6 3246.0L1151.0 3245.6L1154.4 3245.1L1157.8 3244.6L1161.2 3244.2L1164.6 3243.7L1168.0 3243.3L1171.3 3242.8L1174.7 3242.4L1178.1 3242.0L1181.5 3241.6L1184.9 3241.2L1188.3 3240.8L1191.7 3240.4L1195.1 3240.0L1198.5 3239.7L1201.9 3239.3L1205.3 3239.0L1208.7 3238.6L1212.1 3238.3L1215.4 3238.0L1218.8 3237.7L1222.2 3237.3L1225.6 3237.0L1229.0 3236.8L1232.4 3236.5L1235.8 3236.2L1239.2 3235.9L1242.6 3235.7L1246.0 3235.4L1249.4 3235.2L1252.8 3234.9L1256.2 3234.7L1259.6 3234.5L1263.0 3234.2L1266.4 3234.0L1269.8 3233.8L1273.2 3233.6L1276.6 3233.4L1280.0 3233.2L1283.3 3233.1L1286.7 3232.9L1290.1 3232.7L1293.5 3232.6L1296.9 3232.4L1300.3 3232.3L1303.7 3232.1L1307.1 3232.0L1310.5 3231.9L1313.9 3231.7L1317.3 3231.6L1320.7 3231.5L1324.1 3231.4L1327.5 3231.3L1330.9 3231.2L1334.3 3231.1L1337.7 3231.0L1341.1 3231.0L1344.5 3230.9L1347.9 3230.8L1351.3 3230.8L1354.7 3230.7L1358.1 3230.7L1361.5 3230.6L1364.9 3230.6L1368.3 3230.5L1371.7 3230.5L1375.1 3230.5L1378.5 3230.5L1381.9 3230.5L1385.3 3230.4L1388.7 3230.4L1392.1 3230.4L1395.5 3230.4L1398.9 3230.4L1402.3 3230.4L1405.7 3230.5L1409.1 3230.5L1412.5 3230.5L1415.9 3230.5L1419.3 3230.6L1422.7 3230.6L1426.1 3230.6L1429.5 3230.7L1432.9 3230.7L1436.3 3230.8L1439.7 3230.8L1443.1 3230.9L1446.5 3230.9L1449.9 3231.0L1453.3 3231.1L1456.7 3231.1L1460.1 3231.2L1463.5 3231.3L1466.9 3231.4L1470.3 3231.5L1473.7 3231.5L1477.2 3231.6L1480.6 3231.7L1484.0 3231.8L1487.4 3231.9L1490.8 3232.0L1494.2 3232.1L1497.6 3232.2L1501.0 3232.3L1504.4 3232.4L1507.8 3232.5L1511.2 3232.6L1514.6 3232.8L1518.0 3232.9L1521.4 3233.0L1524.8 3233.1L1528.2 3233.2L1531.6 3233.3L1535.0 3233.5L1538.4 3233.6L1541.8 3233.7L1545.2 3233.9L1548.6 3234.0L1552.0 3234.1L1555.5 3234.3L1558.9 3234.4L1562.3 3234.5L1565.7 3234.7L1569.1 3234.8L1572.5 3234.9L1575.9 3235.1L1579.3 3235.2L1582.7 3235.4L1586.1 3235.5L1589.5 3235.6L1592.9 3235.8L1596.3 3235.9L1599.7 3236.1L1603.1 3236.2L1606.5 3236.3L1610.0 3236.5L1613.4 3236.6L1616.8 3236.8L1620.2 3236.9L1623.6 3237.1L1627.0 3237.2L1630.4 3237.4L1633.8 3237.5L1637.2 3237.7L1640.6 3237.8L1644.0 3237.9L1647.4 3238.1L1650.8 3238.2L1654.2 3238.4L1657.7 3238.5L1661.1 3238.7L1664.5 3238.8L1667.9 3239.0L1671.3 3239.1L1674.7 3239.3L1678.1 3239.4L1681.5 3239.6L1684.9 3239.7L1688.3 3239.9L1691.7 3240.0L1695.1 3240.2L1698.6 3240.3L1702.0 3240.5L1705.4 3240.6L1708.8 3240.8L1712.2 3240.9L1715.6 3241.1L1719.0 3241.2L1722.4 3241.4L1725.8 3241.5L1729.2 3241.7L1732.6 3241.8L1736.0 3242.0L1739.5 3242.1L1742.9 3242.3L1746.3 3242.4L1749.7 3242.6L1753.1 3242.8L1756.5 3242.9L1759.9 3243.1L1763.3 3243.2L1766.7 3243.4L1770.1 3243.5L1773.5 3243.7L1777.0 3243.8L1780.4 3244.0L1783.8 3244.1L1787.2 3244.3L1790.6 3244.5L1794.0 3244.6L1797.4 3244.8L1800.8 3244.9L1804.2 3245.1L1807.6 3245.2L1811.1 3245.4L1814.5 3245.5L1817.9 3245.7L1821.3 3245.9L1824.7 3246.0L1828.1 3246.2L1831.5 3246.3L1834.9 3246.5L1838.3 3246.6L1841.7 3246.8L1845.2 3247.0L1848.6 3247.1L1852.0 3247.3L1855.4 3247.4L1858.8 3247.6L1862.2 3247.7L1865.6 3247.9L1869.0 3248.1L1872.4 3248.2L1875.9 3248.4L1879.3 3248.5L1882.7 3248.7L1886.1 3248.9L1889.5 3249.0L1892.9 3249.2L1896.3 3249.3L1899.7 3249.5L1903.1 3249.6L1906.5 3249.8L1910.0 3250.0L1913.4 3250.1L1916.8 3250.3L1920.2 3250.4L1923.6 3250.6L1927.0 3250.8L1930.4 3250.9L1933.8 3251.1L1937.2 3251.2L1940.7 3251.4L1944.1 3251.5L1947.5 3251.7L1950.9 3251.9L1954.3 3252.0L1957.7 3252.2L1961.1 3252.3L1964.5 3252.5L1967.9 3252.7L1971.3 3252.8L1974.8 3253.0L1978.2 3253.1L1981.6 3253.3L1985.0 3253.5L1988.4 3253.6L1991.8 3253.8L1995.2 3253.9L1998.6 3254.1L2002.0 3254.3L2005.5 3254.4L2008.9 3254.6L2012.3 3254.7L2015.7 3254.9L2019.1 3255.0L2022.5 3255.2L2025.9 3255.4L2029.3 3255.5L2032.7 3255.7L2036.2 3255.8L2039.6 3256.0L2043.0 3256.2L2046.4 3256.3L2049.8 3256.5L2053.2 3256.6L2056.6 3256.8L2060.0 3256.9L2063.4 3257.1L2066.8 3257.3L2070.3 3257.4L2073.7 3257.6L2077.1 3257.7L2080.5 3257.9L2083.9 3258.0L2087.3 3258.2L2090.7 3258.4L2094.1 3258.5L2097.5 3258.7L2101.0 3258.8L2104.4 3259.0L2107.8 3259.1L2111.2 3259.3L2114.6 3259.5L2118.0 3259.6L2121.4 3259.8L2124.8 3259.9L2128.2 3260.1L2131.6 3260.2L2135.1 3260.4L2138.5 3260.6L2141.9 3260.7L2145.3 3260.9L2148.7 3261.0L2152.1 3261.2L2155.5 3261.3L2158.9 3261.5L2162.3 3261.6L2165.7 3261.8L2169.1 3261.9L2172.6 3262.1L2176.0 3262.3L2179.4 3262.4L2182.8 3262.6L2186.2 3262.7L2189.6 3262.9L2193.0 3263.0L2196.4 3263.2L2199.8 3263.3L2203.2 3263.5L2206.7 3263.6L2210.1 3263.8L2213.5 3263.9L2216.9 3264.1L2220.3 3264.2L2223.7 3264.4L2227.1 3264.5L2230.5 3264.7L2233.9 3264.8L2237.3 3265.0L2240.7 3265.1L2244.1 3265.3L2247.6 3265.4L2251.0 3265.6L2254.4 3265.7L2257.8 3265.9L2261.2 3266.0L2264.6 3266.2L2268.0 3266.3L2271.4 3266.5L2274.8 3266.6L2278.2 3266.8L2281.6 3266.9L2285.0 3267.1L2288.5 3267.2L2291.9 3267.4L2295.3 3267.5L2298.7 3267.7L2302.1 3267.8L2305.5 3268.0L2308.9 3268.1L2312.3 3268.2L2315.7 3268.4L2319.1 3268.5L2322.5 3268.7L2325.9 3268.8L2329.3 3269.0L2332.7 3269.1L2336.2 3269.2L2339.6 3269.4L2343.0 3269.5L2346.4 3269.7L2349.8 3269.8" stroke="#ffc000" stroke-width="3.2" fill="none" stroke-linejoin="round" stroke-linecap="butt"/>
<path d="M311.6 3984.3L328.9 3951.4L332.3 3952.1L335.7 3952.8L339.2 3953.3L342.6 3953.9L346.0 3954.3L349.5 3954.7L352.9 3955.1L356.4 3955.3L359.8 3955.5L363.3 3955.7L366.8 3955.8L370.2 3955.8L373.7 3955.7L377.1 3955.6L380.6 3955.5L384.0 3955.3L387.4 3955.0L390.9 3954.6L394.3 3954.2L397.7 3953.8L401.1 3953.3L404.5 3952.7L407.8 3952.1L411.2 3951.4L414.6 3950.6L417.9 3949.8L421.2 3948.9L424.5 3948.0L427.8 3947.1L431.0 3946.0L434.3 3944.9L437.5 3943.8L440.7 3942.6L443.8 3941.4L447.0 3940.1L450.1 3938.7L453.2 3937.3L456.2 3935.8L459.3 3934.3L462.3 3932.8L465.2 3931.1L468.2 3929.5L471.1 3927.8L473.9 3926.0L476.8 3924.2L479.6 3922.3L482.3 3920.4L485.0 3918.4L487.7 3916.4L490.4 3914.3L493.0 3912.2L495.5 3910.0L498.0 3907.8L500.5 3905.6L502.9 3903.3L505.3 3900.9L507.6 3898.5L509.9 3896.1L512.1 3893.6L514.3 3891.0L516.5 3888.5L518.5 3885.8L520.5 3883.2L522.5 3880.4L524.4 3877.7L526.3 3874.9L528.1 3872.0L529.8 3869.2L531.5 3866.2L533.1 3863.3L534.7 3860.3L536.2 3857.3L537.7 3854.2L539.2 3851.1L540.6 3848.0L542.0 3844.9L543.3 3841.8L544.7 3838.7L546.0 3835.5L547.3 3832.4L548.5 3829.2L549.8 3826.0L551.0 3822.9L552.2 3819.7L553.4 3816.5L554.6 3813.3L555.8 3810.1L557.0 3806.9L558.1 3803.7L559.2 3800.5L560.4 3797.3L561.5 3794.1L562.6 3790.8L563.7 3787.6L564.8 3784.4L565.9 3781.2L567.0 3777.9L568.1 3774.7L569.1 3771.5L570.2 3768.3L571.3 3765.0L572.4 3761.8L573.4 3758.6L574.5 3755.3L575.6 3752.1L576.7 3748.9L577.8 3745.7L578.9 3742.5L580.0 3739.3L581.1 3736.0L582.2 3732.8L583.3 3729.6L584.5 3726.4L585.6 3723.3L586.8 3720.1L588.0 3716.9L589.1 3713.7L590.3 3710.6L591.6 3707.4L592.8 3704.2L594.0 3701.1L595.3 3698.0L596.5 3694.8L597.8 3691.7L599.1 3688.6L600.4 3685.4L601.7 3682.3L603.0 3679.2L604.3 3676.1L605.7 3673.0L607.0 3669.9L608.4 3666.8L609.7 3663.7L611.1 3660.6L612.5 3657.6L613.9 3654.5L615.3 3651.4L616.7 3648.3L618.1 3645.3L619.5 3642.2L620.9 3639.1L622.3 3636.1L623.8 3633.0L625.2 3630.0L626.7 3626.9L628.1 3623.9L629.6 3620.9L631.0 3617.8L632.5 3614.8L634.0 3611.7L635.5 3608.7L636.9 3605.7L638.4 3602.7L639.9 3599.6L641.4 3596.6L642.9 3593.6L644.4 3590.6L645.9 3587.6L647.4 3584.5L648.9 3581.5L650.4 3578.5L651.9 3575.5L653.5 3572.5L655.0 3569.5L656.5 3566.5L658.1 3563.5L659.7 3560.5L661.2 3557.6L662.8 3554.6L664.4 3551.6L666.0 3548.6L667.6 3545.7L669.2 3542.7L670.8 3539.8L672.4 3536.8L674.1 3533.9L675.7 3531.0L677.4 3528.1L679.1 3525.1L680.8 3522.2L682.5 3519.3L684.2 3516.5L686.0 3513.6L687.7 3510.7L689.5 3507.8L691.3 3505.0L693.1 3502.1L694.9 3499.3L696.7 3496.5L698.6 3493.6L700.5 3490.8L702.4 3488.0L704.3 3485.3L706.2 3482.5L708.2 3479.7L710.1 3477.0L712.1 3474.2L714.1 3471.5L716.2 3468.8L718.2 3466.1L720.3 3463.4L722.4 3460.7L724.5 3458.0L726.6 3455.4L728.8 3452.7L730.9 3450.1L733.1 3447.5L735.3 3444.9L737.5 3442.3L739.8 3439.7L742.0 3437.1L744.3 3434.6L746.6 3432.1L748.9 3429.5L751.2 3427.0L753.5 3424.6L755.9 3422.1L758.3 3419.6L760.7 3417.2L763.1 3414.8L765.5 3412.4L767.9 3410.0L770.4 3407.6L772.9 3405.2L775.4 3402.9L777.9 3400.6L780.4 3398.3L782.9 3396.0L785.5 3393.7L788.0 3391.5L790.6 3389.2L793.2 3387.0L795.8 3384.8L798.5 3382.6L801.1 3380.5L803.8 3378.3L806.4 3376.2L809.1 3374.1L811.8 3372.0L814.5 3370.0L817.2 3367.9L820.0 3365.9L822.7 3363.9L825.5 3361.9L828.3 3360.0L831.0 3358.0L833.8 3356.1L836.7 3354.2L839.5 3352.4L842.3 3350.5L845.2 3348.7L848.0 3346.9L850.9 3345.1L853.8 3343.3L856.7 3341.6L859.6 3339.8L862.5 3338.1L865.5 3336.5L868.4 3334.8L871.4 3333.1L874.3 3331.5L877.3 3329.9L880.3 3328.3L883.3 3326.7L886.3 3325.2L889.3 3323.7L892.3 3322.1L895.4 3320.6L898.4 3319.2L901.5 3317.7L904.5 3316.3L907.6 3314.8L910.7 3313.4L913.8 3312.0L916.9 3310.7L920.0 3309.3L923.1 3308.0L926.2 3306.7L929.3 3305.4L932.5 3304.1L935.6 3302.8L938.8 3301.5L942.0 3300.3L945.1 3299.1L948.3 3297.9L951.5 3296.7L954.7 3295.5L957.9 3294.3L961.1 3293.2L964.3 3292.1L967.5 3291.0L970.8 3289.9L974.0 3288.8L977.2 3287.7L980.5 3286.6L983.7 3285.6L987.0 3284.6L990.3 3283.6L993.5 3282.6L996.8 3281.6L1000.1 3280.6L1003.4 3279.6L1006.6 3278.7L1009.9 3277.8L1013.2 3276.8L1016.5 3275.9L1019.8 3275.0L1023.2 3274.2L1026.5 3273.3L1029.8 3272.4L1033.1 3271.6L1036.4 3270.8L1039.8 3269.9L1043.1 3269.1L1046.4 3268.3L1049.8 3267.5L1053.1 3266.8L1056.5 3266.0L1059.8 3265.2L1063.2 3264.5L1066.5 3263.8L1069.9 3263.0L1073.2 3262.3L1076.6 3261.6L1079.9 3260.9L1083.3 3260.2L1086.7 3259.6L1090.0 3258.9L1093.4 3258.2L1096.8 3257.6L1100.1 3256.9L1103.5 3256.3L1106.9 3255.7L1110.2 3255.1L1113.6 3254.5L1117.0 3253.9L1120.4 3253.3L1123.7 3252.7L1127.1 3252.2L1130.5 3251.6L1133.8 3251.0L1137.2 3250.5L1140.6 3250.0L1144.0 3249.4L1147.3 3248.9L1150.7 3248.4L1154.1 3247.9L1157.5 3247.4L1160.8 3246.9L1164.2 3246.4L1167.6 3245.9L1171.0 3245.5L1174.3 3245.0L1177.7 3244.5L1181.1 3244.1L1184.5 3243.7L1187.8 3243.2L1191.2 3242.8L1194.6 3242.4L1198.0 3242.0L1201.4 3241.6L1204.7 3241.2L1208.1 3240.8L1211.5 3240.4L1214.9 3240.0L1218.3 3239.7L1221.6 3239.3L1225.0 3238.9L1228.4 3238.6L1231.8 3238.3L1235.2 3237.9L1238.5 3237.6L1241.9 3237.3L1245.3 3237.0L1248.7 3236.7L1252.1 3236.3L1255.5 3236.1L1258.8 3235.8L1262.2 3235.5L1265.6 3235.2L1269.0 3234.9L1272.4 3234.7L1275.8 3234.4L1279.1 3234.2L1282.5 3233.9L1285.9 3233.7L1289.3 3233.4L1292.7 3233.2L1296.1 3233.0L1299.5 3232.8L1302.8 3232.5L1306.2 3232.3L1309.6 3232.1L1313.0 3231.9L1316.4 3231.8L1319.8 3231.6L1323.2 3231.4L1326.6 3231.2L1329.9 3231.0L1333.3 3230.9L1336.7 3230.7L1340.1 3230.6L1343.5 3230.4L1346.9 3230.3L1350.3 3230.1L1353.7 3230.0L1357.1 3229.9L1360.4 3229.7L1363.8 3229.6L1367.2 3229.5L1370.6 3229.4L1374.0 3229.3L1377.4 3229.2L1380.8 3229.1L1384.2 3229.0L1387.6 3228.9L1391.0 3228.8L1394.4 3228.8L1397.8 3228.7L1401.1 3228.6L1404.5 3228.5L1407.9 3228.5L1411.3 3228.4L1414.7 3228.4L1418.1 3228.3L1421.5 3228.3L1424.9 3228.2L1428.3 3228.2L1431.7 3228.2L1435.1 3228.1L1438.5 3228.1L1441.9 3228.1L1445.3 3228.1L1448.7 3228.0L1452.0 3228.0L1455.4 3228.0L1458.8 3228.0L1462.2 3228.0L1465.6 3228.0L1469.0 3228.0L1472.4 3228.0L1475.8 3228.0L1479.2 3228.0L1482.6 3228.1L1486.0 3228.1L1489.4 3228.1L1492.8 3228.1L1496.2 3228.2L1499.6 3228.2L1503.0 3228.2L1506.4 3228.3L1509.8 3228.3L1513.2 3228.3L1516.6 3228.4L1520.0 3228.4L1523.4 3228.5L1526.8 3228.5L1530.2 3228.6L1533.6 3228.6L1537.0 3228.7L1540.4 3228.8L1543.8 3228.8L1547.2 3228.9L1550.6 3229.0L1553.9 3229.0L1557.3 3229.1L1560.7 3229.2L1564.1 3229.2L1567.5 3229.3L1570.9 3229.4L1574.3 3229.5L1577.7 3229.6L1581.1 3229.6L1584.5 3229.7L1587.9 3229.8L1591.3 3229.9L1594.7 3230.0L1598.1 3230.1L1601.5 3230.2L1604.9 3230.3L1608.3 3230.4L1611.7 3230.5L1615.1 3230.6L1618.5 3230.7L1621.9 3230.8L1625.3 3230.9L1628.7 3231.0L1632.1 3231.1L1635.5 3231.2L1638.9 3231.3L1642.3 3231.4L1645.7 3231.5L1649.1 3231.6L1652.5 3231.7L1655.9 3231.8L1659.3 3231.9L1662.7 3232.1L1666.1 3232.2L1669.5 3232.3L1672.9 3232.4L1676.3 3232.5L1679.7 3232.6L1683.1 3232.8L1686.5 3232.9L1689.9 3233.0L1693.3 3233.1L1696.7 3233.3L1700.1 3233.4L1703.5 3233.5L1706.9 3233.6L1710.3 3233.8L1713.7 3233.9L1717.1 3234.0L1720.5 3234.2L1723.9 3234.3L1727.3 3234.4L1730.7 3234.6L1734.1 3234.7L1737.5 3234.8L1740.9 3235.0L1744.3 3235.1L1747.7 3235.3L1751.2 3235.4L1754.6 3235.5L1758.0 3235.7L1761.4 3235.8L1764.8 3236.0L1768.2 3236.1L1771.6 3236.2L1775.0 3236.4L1778.4 3236.5L1781.8 3236.7L1785.2 3236.8L1788.6 3237.0L1792.0 3237.1L1795.4 3237.3L1798.8 3237.4L1802.2 3237.6L1805.6 3237.7L1809.0 3237.9L1812.4 3238.0L1815.8 3238.2L1819.2 3238.4L1822.6 3238.5L1826.0 3238.7L1829.4 3238.8L1832.8 3239.0L1836.2 3239.1L1839.6 3239.3L1843.0 3239.5L1846.4 3239.6L1849.8 3239.8L1853.2 3239.9L1856.6 3240.1L1860.0 3240.3L1863.4 3240.4L1866.8 3240.6L1870.2 3240.7L1873.6 3240.9L1877.0 3241.1L1880.4 3241.2L1883.8 3241.4L1887.2 3241.6L1890.6 3241.7L1894.0 3241.9L1897.4 3242.1L1900.8 3242.2L1904.2 3242.4L1907.6 3242.6L1911.0 3242.7L1914.4 3242.9L1917.8 3243.1L1921.2 3243.2L1924.7 3243.4L1928.1 3243.6L1931.5 3243.7L1934.9 3243.9L1938.3 3244.1L1941.7 3244.3L1945.1 3244.4L1948.5 3244.6L1951.9 3244.8L1955.3 3244.9L1958.7 3245.1L1962.1 3245.3L1965.5 3245.4L1968.9 3245.6L1972.3 3245.8L1975.7 3246.0L1979.1 3246.1L1982.5 3246.3L1985.9 3246.5L1989.3 3246.7L1992.7 3246.8L1996.1 3247.0L1999.5 3247.2L2002.9 3247.3L2006.3 3247.5L2009.7 3247.7L2013.1 3247.9L2016.5 3248.0L2019.9 3248.2L2023.3 3248.4L2026.7 3248.6L2030.1 3248.7L2033.5 3248.9L2036.9 3249.1L2040.3 3249.2L2043.7 3249.4L2047.1 3249.6L2050.5 3249.8L2053.9 3249.9L2057.3 3250.1L2060.7 3250.3L2064.1 3250.4L2067.5 3250.6L2070.9 3250.8L2074.3 3251.0L2077.8 3251.1L2081.2 3251.3L2084.6 3251.5L2088.0 3251.6L2091.4 3251.8L2094.8 3252.0L2098.2 3252.2L2101.6 3252.3L2105.0 3252.5L2108.4 3252.7L2111.8 3252.8L2115.2 3253.0L2118.6 3253.2L2122.0 3253.3L2125.4 3253.5L2128.8 3253.7L2132.2 3253.8L2135.6 3254.0L2139.0 3254.2L2142.4 3254.3L2145.8 3254.5L2149.2 3254.7L2152.6 3254.8L2156.0 3255.0L2159.4 3255.2L2162.8 3255.3L2166.2 3255.5L2169.6 3255.6L2173.0 3255.8L2176.4 3256.0L2179.8 3256.1L2183.2 3256.3L2186.6 3256.4L2190.0 3256.6L2193.4 3256.8L2196.8 3256.9L2200.2 3257.1L2203.6 3257.2L2207.0 3257.4L2210.4 3257.5L2213.8 3257.7L2217.2 3257.8L2220.6 3258.0L2224.0 3258.2L2227.4 3258.3L2230.8 3258.5L2234.2 3258.6L2237.6 3258.8L2241.0 3258.9L2244.4 3259.1L2247.8 3259.2L2251.2 3259.3L2254.6 3259.5L2258.0 3259.6L2261.4 3259.8L2264.8 3259.9L2268.2 3260.1L2271.6 3260.2L2275.0 3260.4L2278.4 3260.5L2281.8 3260.6L2285.2 3260.8L2288.6 3260.9L2292.0 3261.0L2295.4 3261.2L2298.8 3261.3L2302.2 3261.4L2305.6 3261.6L2309.0 3261.7L2312.4 3261.8L2315.8 3262.0L2319.2 3262.1L2322.6 3262.2L2326.0 3262.4L2329.4 3262.5L2332.8 3262.6L2336.2 3262.7L2339.6 3262.9L2343.0 3263.0L2346.4 3263.1L2349.8 3263.2" stroke="#2e75b6" stroke-width="3.2" fill="none" stroke-linejoin="round" stroke-linecap="butt"/>
<path d="M311.6 3964L328.1 3944.3L331.4 3945.2L334.7 3946.0L338.0 3946.7L341.4 3947.4L344.8 3948.1L348.2 3948.6L351.6 3949.1L355.0 3949.6L358.5 3950.0L361.9 3950.3L365.4 3950.5L368.9 3950.7L372.3 3950.8L375.8 3950.9L379.3 3950.9L382.7 3950.8L386.2 3950.7L389.7 3950.5L393.1 3950.2L396.6 3949.9L400.0 3949.5L403.4 3949.1L406.8 3948.5L410.2 3947.9L413.5 3947.3L416.8 3946.5L420.2 3945.7L423.4 3944.9L426.7 3943.9L429.9 3942.9L433.1 3941.9L436.2 3940.7L439.3 3939.5L442.4 3938.2L445.4 3936.9L448.4 3935.4L451.3 3934.0L454.2 3932.4L457.0 3930.8L459.8 3929.1L462.6 3927.3L465.3 3925.5L467.9 3923.6L470.5 3921.6L473.1 3919.6L475.6 3917.5L478.1 3915.4L480.5 3913.2L482.9 3911.0L485.2 3908.7L487.5 3906.4L489.8 3904.0L492.0 3901.6L494.2 3899.1L496.3 3896.6L498.4 3894.0L500.5 3891.4L502.5 3888.8L504.5 3886.1L506.5 3883.4L508.4 3880.7L510.3 3877.9L512.1 3875.1L513.9 3872.3L515.7 3869.4L517.4 3866.5L519.1 3863.6L520.8 3860.7L522.5 3857.7L524.1 3854.7L525.7 3851.7L527.2 3848.7L528.7 3845.7L530.2 3842.7L531.7 3839.6L533.1 3836.6L534.5 3833.5L535.9 3830.4L537.2 3827.3L538.6 3824.2L539.9 3821.1L541.2 3818.0L542.4 3814.9L543.7 3811.7L544.9 3808.6L546.1 3805.5L547.3 3802.3L548.5 3799.1L549.7 3796.0L550.8 3792.8L552.0 3789.6L553.1 3786.4L554.2 3783.2L555.3 3780.0L556.4 3776.8L557.5 3773.6L558.6 3770.4L559.7 3767.2L560.8 3764.0L561.9 3760.8L562.9 3757.6L564.0 3754.4L565.1 3751.2L566.2 3748.0L567.3 3744.8L568.4 3741.6L569.5 3738.4L570.6 3735.2L571.7 3732.0L572.8 3728.8L573.9 3725.6L575.0 3722.5L576.2 3719.3L577.3 3716.1L578.5 3713.0L579.7 3709.8L580.9 3706.6L582.1 3703.5L583.3 3700.3L584.6 3697.2L585.8 3694.1L587.1 3691.0L588.3 3687.8L589.6 3684.7L590.9 3681.6L592.2 3678.5L593.5 3675.4L594.9 3672.3L596.2 3669.2L597.5 3666.1L598.9 3663.1L600.3 3660.0L601.7 3656.9L603.1 3653.9L604.5 3650.8L605.9 3647.8L607.4 3644.8L608.8 3641.7L610.3 3638.7L611.8 3635.7L613.2 3632.7L614.7 3629.7L616.3 3626.7L617.8 3623.7L619.3 3620.7L620.9 3617.7L622.4 3614.7L624.0 3611.7L625.6 3608.8L627.2 3605.8L628.8 3602.9L630.4 3599.9L632.0 3597.0L633.7 3594.1L635.3 3591.2L637.0 3588.2L638.7 3585.3L640.4 3582.4L642.1 3579.5L643.8 3576.6L645.5 3573.8L647.2 3570.9L649.0 3568.0L650.7 3565.2L652.5 3562.3L654.3 3559.5L656.1 3556.6L657.9 3553.8L659.7 3551.0L661.5 3548.1L663.4 3545.3L665.2 3542.5L667.1 3539.7L669.0 3536.9L670.9 3534.2L672.8 3531.4L674.7 3528.6L676.6 3525.9L678.5 3523.1L680.5 3520.4L682.4 3517.7L684.4 3514.9L686.4 3512.2L688.4 3509.5L690.4 3506.8L692.4 3504.2L694.5 3501.5L696.5 3498.8L698.6 3496.2L700.7 3493.5L702.8 3490.9L704.9 3488.3L707.0 3485.7L709.1 3483.1L711.3 3480.5L713.4 3477.9L715.6 3475.4L717.8 3472.8L720.0 3470.3L722.2 3467.8L724.5 3465.3L726.7 3462.8L729.0 3460.3L731.3 3457.9L733.6 3455.4L735.9 3453.0L738.2 3450.6L740.6 3448.2L742.9 3445.8L745.3 3443.4L747.7 3441.1L750.1 3438.7L752.5 3436.4L755.0 3434.1L757.4 3431.8L759.9 3429.5L762.4 3427.3L764.9 3425.0L767.5 3422.8L770.0 3420.6L772.6 3418.4L775.1 3416.3L777.7 3414.1L780.3 3412.0L783.0 3409.9L785.6 3407.8L788.3 3405.7L790.9 3403.6L793.6 3401.6L796.3 3399.5L799.0 3397.5L801.8 3395.6L804.5 3393.6L807.3 3391.6L810.0 3389.7L812.8 3387.8L815.6 3385.9L818.4 3384.0L821.2 3382.2L824.1 3380.3L826.9 3378.5L829.8 3376.7L832.7 3374.9L835.5 3373.2L838.4 3371.4L841.3 3369.7L844.3 3368.0L847.2 3366.3L850.1 3364.7L853.1 3363.0L856.0 3361.4L859.0 3359.8L862.0 3358.2L865.0 3356.7L868.0 3355.2L871.0 3353.6L874.0 3352.1L877.0 3350.7L880.1 3349.2L883.1 3347.8L886.2 3346.4L889.2 3345.0L892.3 3343.6L895.4 3342.3L898.5 3340.9L901.6 3339.6L904.7 3338.4L907.8 3337.1L910.9 3335.9L914.0 3334.6L917.2 3333.4L920.3 3332.3L923.5 3331.1L926.6 3330.0L929.8 3328.8L932.9 3327.7L936.1 3326.7L939.3 3325.6L942.5 3324.6L945.6 3323.5L948.8 3322.5L952.0 3321.5L955.2 3320.6L958.5 3319.6L961.7 3318.7L964.9 3317.7L968.1 3316.8L971.4 3315.9L974.6 3315.1L977.8 3314.2L981.1 3313.4L984.3 3312.5L987.6 3311.7L990.9 3310.9L994.1 3310.1L997.4 3309.4L1000.7 3308.6L1003.9 3307.9L1007.2 3307.1L1010.5 3306.4L1013.8 3305.7L1017.1 3305.0L1020.4 3304.3L1023.7 3303.7L1027.0 3303.0L1030.3 3302.3L1033.6 3301.7L1036.9 3301.1L1040.2 3300.5L1043.5 3299.9L1046.9 3299.3L1050.2 3298.7L1053.5 3298.1L1056.8 3297.5L1060.1 3297.0L1063.5 3296.4L1066.8 3295.9L1070.1 3295.4L1073.5 3294.8L1076.8 3294.3L1080.1 3293.8L1083.5 3293.3L1086.8 3292.8L1090.2 3292.3L1093.5 3291.8L1096.8 3291.4L1100.2 3290.9L1103.5 3290.4L1106.9 3290.0L1110.2 3289.5L1113.6 3289.1L1116.9 3288.6L1120.2 3288.2L1123.6 3287.7L1126.9 3287.3L1130.3 3286.9L1133.6 3286.4L1137.0 3286.0L1140.3 3285.6L1143.7 3285.2L1147.0 3284.8L1150.4 3284.4L1153.7 3284.0L1157.0 3283.6L1160.4 3283.2L1163.7 3282.8L1167.1 3282.5L1170.4 3282.1L1173.8 3281.7L1177.1 3281.3L1180.5 3281.0L1183.8 3280.6L1187.2 3280.3L1190.5 3279.9L1193.9 3279.6L1197.2 3279.2L1200.6 3278.9L1203.9 3278.6L1207.3 3278.2L1210.6 3277.9L1213.9 3277.6L1217.3 3277.3L1220.6 3277.0L1224.0 3276.7L1227.3 3276.4L1230.7 3276.1L1234.0 3275.8L1237.4 3275.5L1240.7 3275.2L1244.1 3274.9L1247.4 3274.6L1250.8 3274.4L1254.1 3274.1L1257.5 3273.8L1260.8 3273.6L1264.2 3273.3L1267.5 3273.0L1270.9 3272.8L1274.3 3272.5L1277.6 3272.3L1281.0 3272.1L1284.3 3271.8L1287.7 3271.6L1291.0 3271.4L1294.4 3271.1L1297.7 3270.9L1301.1 3270.7L1304.4 3270.5L1307.8 3270.3L1311.1 3270.1L1314.5 3269.9L1317.8 3269.7L1321.2 3269.5L1324.5 3269.3L1327.9 3269.1L1331.2 3268.9L1334.6 3268.7L1338.0 3268.5L1341.3 3268.4L1344.7 3268.2L1348.0 3268.0L1351.4 3267.9L1354.7 3267.7L1358.1 3267.5L1361.4 3267.4L1364.8 3267.2L1368.1 3267.1L1371.5 3267.0L1374.9 3266.8L1378.2 3266.7L1381.6 3266.5L1384.9 3266.4L1388.3 3266.3L1391.6 3266.2L1395.0 3266.0L1398.3 3265.9L1401.7 3265.8L1405.1 3265.7L1408.4 3265.6L1411.8 3265.5L1415.1 3265.4L1418.5 3265.3L1421.8 3265.2L1425.2 3265.1L1428.6 3265.0L1431.9 3264.9L1435.3 3264.8L1438.6 3264.7L1442.0 3264.7L1445.3 3264.6L1448.7 3264.5L1452.1 3264.5L1455.4 3264.4L1458.8 3264.3L1462.1 3264.3L1465.5 3264.2L1468.8 3264.2L1472.2 3264.1L1475.6 3264.1L1478.9 3264.0L1482.3 3264.0L1485.6 3263.9L1489.0 3263.9L1492.4 3263.8L1495.7 3263.8L1499.1 3263.8L1502.4 3263.8L1505.8 3263.7L1509.1 3263.7L1512.5 3263.7L1515.9 3263.7L1519.2 3263.7L1522.6 3263.6L1525.9 3263.6L1529.3 3263.6L1532.7 3263.6L1536.0 3263.6L1539.4 3263.6L1542.7 3263.6L1546.1 3263.6L1549.5 3263.6L1552.8 3263.7L1556.2 3263.7L1559.5 3263.7L1562.9 3263.7L1566.3 3263.7L1569.6 3263.7L1573.0 3263.8L1576.4 3263.8L1579.7 3263.8L1583.1 3263.9L1586.4 3263.9L1589.8 3263.9L1593.2 3264.0L1596.5 3264.0L1599.9 3264.0L1603.2 3264.1L1606.6 3264.1L1610.0 3264.2L1613.3 3264.2L1616.7 3264.3L1620.1 3264.3L1623.4 3264.4L1626.8 3264.5L1630.1 3264.5L1633.5 3264.6L1636.9 3264.7L1640.2 3264.7L1643.6 3264.8L1646.9 3264.9L1650.3 3264.9L1653.7 3265.0L1657.0 3265.1L1660.4 3265.2L1663.8 3265.2L1667.1 3265.3L1670.5 3265.4L1673.8 3265.5L1677.2 3265.6L1680.6 3265.7L1683.9 3265.8L1687.3 3265.9L1690.7 3266.0L1694.0 3266.1L1697.4 3266.1L1700.8 3266.2L1704.1 3266.3L1707.5 3266.5L1710.8 3266.6L1714.2 3266.7L1717.6 3266.8L1720.9 3266.9L1724.3 3267.0L1727.7 3267.1L1731.0 3267.2L1734.4 3267.3L1737.8 3267.4L1741.1 3267.6L1744.5 3267.7L1747.8 3267.8L1751.2 3267.9L1754.6 3268.1L1757.9 3268.2L1761.3 3268.3L1764.7 3268.4L1768.0 3268.6L1771.4 3268.7L1774.8 3268.8L1778.1 3269.0L1781.5 3269.1L1784.8 3269.2L1788.2 3269.4L1791.6 3269.5L1794.9 3269.6L1798.3 3269.8L1801.7 3269.9L1805.0 3270.1L1808.4 3270.2L1811.8 3270.3L1815.1 3270.5L1818.5 3270.6L1821.9 3270.8L1825.2 3270.9L1828.6 3271.1L1831.9 3271.2L1835.3 3271.4L1838.7 3271.5L1842.0 3271.7L1845.4 3271.8L1848.8 3272.0L1852.1 3272.2L1855.5 3272.3L1858.9 3272.5L1862.2 3272.6L1865.6 3272.8L1869.0 3273.0L1872.3 3273.1L1875.7 3273.3L1879.0 3273.4L1882.4 3273.6L1885.8 3273.8L1889.1 3273.9L1892.5 3274.1L1895.9 3274.3L1899.2 3274.4L1902.6 3274.6L1906.0 3274.8L1909.3 3274.9L1912.7 3275.1L1916.1 3275.3L1919.4 3275.4L1922.8 3275.6L1926.1 3275.8L1929.5 3275.9L1932.9 3276.1L1936.2 3276.3L1939.6 3276.5L1943.0 3276.6L1946.3 3276.8L1949.7 3277.0L1953.1 3277.2L1956.4 3277.3L1959.8 3277.5L1963.2 3277.7L1966.5 3277.9L1969.9 3278.0L1973.2 3278.2L1976.6 3278.4L1980.0 3278.6L1983.3 3278.7L1986.7 3278.9L1990.1 3279.1L1993.4 3279.3L1996.8 3279.5L2000.2 3279.6L2003.5 3279.8L2006.9 3280.0L2010.3 3280.2L2013.6 3280.3L2017.0 3280.5L2020.3 3280.7L2023.7 3280.9L2027.1 3281.1L2030.4 3281.2L2033.8 3281.4L2037.2 3281.6L2040.5 3281.8L2043.9 3281.9L2047.3 3282.1L2050.6 3282.3L2054.0 3282.5L2057.4 3282.7L2060.7 3282.8L2064.1 3283.0L2067.4 3283.2L2070.8 3283.4L2074.2 3283.5L2077.5 3283.7L2080.9 3283.9L2084.3 3284.1L2087.6 3284.2L2091.0 3284.4L2094.3 3284.6L2097.7 3284.8L2101.1 3284.9L2104.4 3285.1L2107.8 3285.3L2111.2 3285.5L2114.5 3285.6L2117.9 3285.8L2121.3 3286.0L2124.6 3286.1L2128.0 3286.3L2131.3 3286.5L2134.7 3286.6L2138.1 3286.8L2141.4 3287.0L2144.8 3287.1L2148.2 3287.3L2151.5 3287.5L2154.9 3287.6L2158.2 3287.8L2161.6 3288.0L2165.0 3288.1L2168.3 3288.3L2171.7 3288.5L2175.1 3288.6L2178.4 3288.8L2181.8 3288.9L2185.1 3289.1L2188.5 3289.2L2191.9 3289.4L2195.2 3289.6L2198.6 3289.7L2201.9 3289.9L2205.3 3290.0L2208.7 3290.2L2212.0 3290.3L2215.4 3290.5L2218.8 3290.6L2222.1 3290.8L2225.5 3290.9L2228.8 3291.1L2232.2 3291.2L2235.6 3291.3L2238.9 3291.5L2242.3 3291.6L2245.6 3291.8L2249.0 3291.9L2252.4 3292.0L2255.7 3292.2L2259.1 3292.3L2262.4 3292.5L2265.8 3292.6L2269.2 3292.7L2272.5 3292.8L2275.9 3293.0L2279.2 3293.1L2282.6 3293.2L2286.0 3293.4L2289.3 3293.5L2292.7 3293.6L2296.0 3293.7L2299.4 3293.8L2302.8 3294.0L2306.1 3294.1L2309.5 3294.2L2312.8 3294.3L2316.2 3294.4L2319.6 3294.5L2322.9 3294.6L2326.3 3294.7L2329.6 3294.9L2333.0 3295.0L2336.3 3295.1L2339.7 3295.2L2343.1 3295.3L2346.4 3295.4L2349.8 3295.5" stroke="#ff0000" stroke-width="3.2" fill="none" stroke-linejoin="round" stroke-linecap="butt"/>
<path d="M2080.1 3610.8H2137.3" stroke="#404040" stroke-width="3.4"/>
<text x="2141" y="3622.5" font-size="41.1" textLength="134" lengthAdjust="spacingAndGlyphs">Control</text>
<path d="M2080.1 3687.5H2137.3" stroke="#00b050" stroke-width="3.4"/>
<text x="2140.9" y="3699.2" font-size="41.1" textLength="91.4" lengthAdjust="spacingAndGlyphs">2 phr</text>
<path d="M2080.1 3765.2H2137.3" stroke="#a8008c" stroke-width="3.4"/>
<text x="2141.9" y="3776.9" font-size="41.1" textLength="91.4" lengthAdjust="spacingAndGlyphs">4 phr</text>
<path d="M2080.1 3841.8H2137.3" stroke="#ffc000" stroke-width="3.4"/>
<text x="2141" y="3853.5" font-size="41.1" textLength="91.4" lengthAdjust="spacingAndGlyphs">6 phr</text>
<path d="M2080.1 3919.5H2137.3" stroke="#2e75b6" stroke-width="3.4"/>
<text x="2141.1" y="3931.2" font-size="41.1" textLength="91.4" lengthAdjust="spacingAndGlyphs">8 phr</text>
<path d="M2080.1 3996.1H2137.3" stroke="#ff0000" stroke-width="3.4"/>
<text x="2138.9" y="4007.8" font-size="41.1" textLength="113.3" lengthAdjust="spacingAndGlyphs">10 phr</text>
<text x="1182.2" y="4453.4" font-size="85">(<tspan font-weight="bold">c</tspan>)</text>
</svg>
</body></html>
